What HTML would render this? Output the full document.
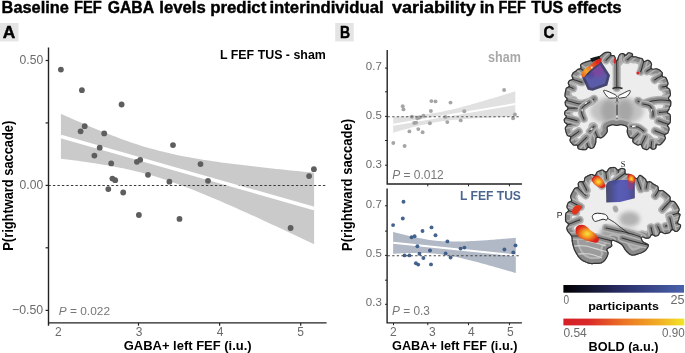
<!DOCTYPE html>
<html><head><meta charset="utf-8"><style>
html,body{margin:0;padding:0;background:#fff;width:685px;height:353px;overflow:hidden}
svg{display:block;will-change:transform}
text{font-family:"Liberation Sans",sans-serif}
</style></head><body>
<svg width="685" height="353" viewBox="0 0 685 353" font-family="Liberation Sans">
<path d="M60.90,113.84 L65.12,115.72 L69.34,117.59 L73.56,119.45 L77.78,121.29 L82.00,123.11 L86.22,124.92 L90.44,126.70 L94.66,128.46 L98.88,130.20 L103.10,131.91 L107.32,133.60 L111.54,135.25 L115.76,136.86 L119.98,138.44 L124.20,139.97 L128.42,141.47 L132.64,142.91 L136.86,144.31 L141.08,145.65 L145.30,146.94 L149.52,148.18 L153.74,149.37 L157.96,150.50 L162.18,151.57 L166.40,152.60 L170.62,153.57 L174.84,154.50 L179.06,155.38 L183.28,156.22 L187.50,157.03 L191.72,157.79 L195.94,158.53 L200.16,159.23 L204.38,159.91 L208.60,160.56 L212.82,161.18 L217.04,161.79 L221.26,162.38 L225.48,162.95 L229.70,163.51 L233.92,164.05 L238.14,164.58 L242.36,165.09 L246.58,165.60 L250.80,166.10 L255.02,166.58 L259.24,167.06 L263.46,167.53 L267.68,168.00 L271.90,168.45 L276.12,168.91 L280.34,169.35 L284.56,169.79 L288.78,170.23 L293.00,170.66 L297.22,171.09 L301.44,171.52 L305.66,171.94 L309.88,172.36 L314.10,172.77 L314.10,244.13 L309.88,242.14 L305.66,240.15 L301.44,238.16 L297.22,236.18 L293.00,234.20 L288.78,232.23 L284.56,230.26 L280.34,228.29 L276.12,226.33 L271.90,224.38 L267.68,222.43 L263.46,220.49 L259.24,218.55 L255.02,216.62 L250.80,214.70 L246.58,212.79 L242.36,210.89 L238.14,209.00 L233.92,207.12 L229.70,205.25 L225.48,203.40 L221.26,201.57 L217.04,199.75 L212.82,197.95 L208.60,196.17 L204.38,194.41 L200.16,192.68 L195.94,190.98 L191.72,189.30 L187.50,187.66 L183.28,186.06 L179.06,184.49 L174.84,182.97 L170.62,181.49 L166.40,180.06 L162.18,178.67 L157.96,177.34 L153.74,176.07 L149.52,174.84 L145.30,173.67 L141.08,172.56 L136.86,171.50 L132.64,170.49 L128.42,169.52 L124.20,168.61 L119.98,167.74 L115.76,166.91 L111.54,166.12 L107.32,165.36 L103.10,164.63 L98.88,163.94 L94.66,163.27 L90.44,162.63 L86.22,162.00 L82.00,161.40 L77.78,160.82 L73.56,160.25 L69.34,159.70 L65.12,159.16 L60.90,158.64Z" fill="#cacaca"/>
<line x1="48.4" y1="185.5" x2="327" y2="185.5" stroke="#3a3a3a" stroke-width="1.2" stroke-dasharray="2.4 2.1"/>
<line x1="60.9" y1="136.54" x2="314.1" y2="208.45" stroke="#fff" stroke-width="3.5"/>
<circle cx="60.9" cy="69.6" r="2.9" fill="#5e5e5e"/>
<circle cx="81.9" cy="90.2" r="2.9" fill="#5e5e5e"/>
<circle cx="121.6" cy="104.5" r="2.9" fill="#5e5e5e"/>
<circle cx="84.7" cy="126.2" r="2.9" fill="#5e5e5e"/>
<circle cx="80.6" cy="131.3" r="2.9" fill="#5e5e5e"/>
<circle cx="104.2" cy="133.4" r="2.9" fill="#5e5e5e"/>
<circle cx="99.7" cy="147.7" r="2.9" fill="#5e5e5e"/>
<circle cx="94.4" cy="155.6" r="2.9" fill="#5e5e5e"/>
<circle cx="111.2" cy="163.4" r="2.9" fill="#5e5e5e"/>
<circle cx="140.2" cy="159.8" r="2.9" fill="#5e5e5e"/>
<circle cx="136.9" cy="161.8" r="2.9" fill="#5e5e5e"/>
<circle cx="173" cy="145.1" r="2.9" fill="#5e5e5e"/>
<circle cx="148" cy="174.8" r="2.9" fill="#5e5e5e"/>
<circle cx="112.4" cy="178.6" r="2.9" fill="#5e5e5e"/>
<circle cx="115.2" cy="180.2" r="2.9" fill="#5e5e5e"/>
<circle cx="169.4" cy="181.7" r="2.9" fill="#5e5e5e"/>
<circle cx="108.3" cy="189.1" r="2.9" fill="#5e5e5e"/>
<circle cx="123.2" cy="192.5" r="2.9" fill="#5e5e5e"/>
<circle cx="138.9" cy="215" r="2.9" fill="#5e5e5e"/>
<circle cx="179.5" cy="218.9" r="2.9" fill="#5e5e5e"/>
<circle cx="200.5" cy="164.1" r="2.9" fill="#5e5e5e"/>
<circle cx="208" cy="180.8" r="2.9" fill="#5e5e5e"/>
<circle cx="313.9" cy="169.2" r="2.9" fill="#5e5e5e"/>
<circle cx="309.1" cy="176.1" r="2.9" fill="#5e5e5e"/>
<circle cx="290.6" cy="228" r="2.9" fill="#5e5e5e"/>
<path d="M48.5,47.5 V325.7 M48,322.9 H326.6" stroke="#222" stroke-width="1.4" fill="none"/>
<line x1="45.6" y1="60.5" x2="48.5" y2="60.5" stroke="#222" stroke-width="1.2"/>
<line x1="45.6" y1="122.9" x2="48.5" y2="122.9" stroke="#222" stroke-width="1.2"/>
<line x1="45.6" y1="185.4" x2="48.5" y2="185.4" stroke="#222" stroke-width="1.2"/>
<line x1="45.6" y1="247.8" x2="48.5" y2="247.8" stroke="#222" stroke-width="1.2"/>
<line x1="45.6" y1="310.4" x2="48.5" y2="310.4" stroke="#222" stroke-width="1.2"/>
<line x1="138.5" y1="322.9" x2="138.5" y2="325.7" stroke="#222" stroke-width="1.2"/>
<line x1="219.6" y1="322.9" x2="219.6" y2="325.7" stroke="#222" stroke-width="1.2"/>
<line x1="300.7" y1="322.9" x2="300.7" y2="325.7" stroke="#222" stroke-width="1.2"/>
<path d="M393.20,116.86 L395.24,116.75 L397.27,116.64 L399.31,116.52 L401.34,116.40 L403.38,116.27 L405.41,116.14 L407.44,116.00 L409.48,115.85 L411.51,115.69 L413.55,115.52 L415.58,115.35 L417.62,115.16 L419.65,114.95 L421.69,114.74 L423.72,114.51 L425.76,114.26 L427.79,114.00 L429.83,113.72 L431.86,113.42 L433.90,113.11 L435.94,112.77 L437.97,112.42 L440.00,112.04 L442.04,111.65 L444.07,111.24 L446.11,110.81 L448.14,110.36 L450.18,109.90 L452.21,109.43 L454.25,108.94 L456.28,108.44 L458.32,107.92 L460.35,107.40 L462.39,106.87 L464.42,106.33 L466.46,105.77 L468.50,105.22 L470.53,104.65 L472.56,104.08 L474.60,103.51 L476.63,102.93 L478.67,102.34 L480.70,101.75 L482.74,101.16 L484.77,100.56 L486.81,99.96 L488.84,99.36 L490.88,98.76 L492.91,98.15 L494.95,97.54 L496.98,96.93 L499.02,96.31 L501.05,95.70 L503.09,95.08 L505.12,94.46 L507.16,93.84 L509.19,93.22 L511.23,92.60 L513.26,91.97 L515.30,91.35 L515.30,116.65 L513.26,116.72 L511.23,116.79 L509.19,116.85 L507.16,116.93 L505.12,117.00 L503.09,117.07 L501.05,117.15 L499.02,117.22 L496.98,117.30 L494.95,117.38 L492.91,117.46 L490.88,117.55 L488.84,117.63 L486.81,117.72 L484.77,117.81 L482.74,117.91 L480.70,118.01 L478.67,118.11 L476.63,118.22 L474.60,118.33 L472.56,118.45 L470.53,118.57 L468.50,118.70 L466.46,118.83 L464.42,118.97 L462.39,119.12 L460.35,119.28 L458.32,119.45 L456.28,119.63 L454.25,119.82 L452.21,120.02 L450.18,120.24 L448.14,120.47 L446.11,120.71 L444.07,120.98 L442.04,121.26 L440.00,121.56 L437.97,121.88 L435.94,122.21 L433.90,122.57 L431.86,122.94 L429.83,123.34 L427.79,123.75 L425.76,124.18 L423.72,124.63 L421.69,125.09 L419.65,125.56 L417.62,126.05 L415.58,126.56 L413.55,127.07 L411.51,127.60 L409.48,128.13 L407.44,128.67 L405.41,129.22 L403.38,129.78 L401.34,130.34 L399.31,130.92 L397.27,131.49 L395.24,132.07 L393.20,132.66Z" fill="#e1e1e1"/>
<line x1="393.2" y1="124.76" x2="515.3" y2="104.00" stroke="#fff" stroke-width="2"/>
<circle cx="393.3" cy="143" r="1.95" fill="#a0a0a0" fill-opacity="0.95"/>
<circle cx="404.6" cy="146" r="1.95" fill="#a0a0a0" fill-opacity="0.95"/>
<circle cx="402.7" cy="106.2" r="1.95" fill="#a0a0a0" fill-opacity="0.95"/>
<circle cx="403.5" cy="109.4" r="1.95" fill="#a0a0a0" fill-opacity="0.95"/>
<circle cx="409.4" cy="131.4" r="1.95" fill="#a0a0a0" fill-opacity="0.95"/>
<circle cx="411.9" cy="116.7" r="1.95" fill="#a0a0a0" fill-opacity="0.95"/>
<circle cx="414.2" cy="123" r="1.95" fill="#a0a0a0" fill-opacity="0.95"/>
<circle cx="416.1" cy="122.6" r="1.95" fill="#a0a0a0" fill-opacity="0.95"/>
<circle cx="417.4" cy="118.2" r="1.95" fill="#a0a0a0" fill-opacity="0.95"/>
<circle cx="419.6" cy="117.5" r="1.95" fill="#a0a0a0" fill-opacity="0.95"/>
<circle cx="418.3" cy="129.1" r="1.95" fill="#a0a0a0" fill-opacity="0.95"/>
<circle cx="422.6" cy="132.2" r="1.95" fill="#a0a0a0" fill-opacity="0.95"/>
<circle cx="423.4" cy="115.8" r="1.95" fill="#a0a0a0" fill-opacity="0.95"/>
<circle cx="429.9" cy="123.2" r="1.95" fill="#a0a0a0" fill-opacity="0.95"/>
<circle cx="430.9" cy="111" r="1.95" fill="#a0a0a0" fill-opacity="0.95"/>
<circle cx="431.4" cy="101.1" r="1.95" fill="#a0a0a0" fill-opacity="0.95"/>
<circle cx="435.5" cy="101.4" r="1.95" fill="#a0a0a0" fill-opacity="0.95"/>
<circle cx="445.4" cy="116.9" r="1.95" fill="#a0a0a0" fill-opacity="0.95"/>
<circle cx="447.3" cy="122.1" r="1.95" fill="#a0a0a0" fill-opacity="0.95"/>
<circle cx="450.5" cy="102.6" r="1.95" fill="#a0a0a0" fill-opacity="0.95"/>
<circle cx="460.7" cy="120.4" r="1.95" fill="#a0a0a0" fill-opacity="0.95"/>
<circle cx="464.3" cy="111.3" r="1.95" fill="#a0a0a0" fill-opacity="0.95"/>
<circle cx="504.1" cy="90" r="1.95" fill="#a0a0a0" fill-opacity="0.95"/>
<circle cx="514.9" cy="114.5" r="1.95" fill="#a0a0a0" fill-opacity="0.95"/>
<circle cx="513.1" cy="118.3" r="1.95" fill="#a0a0a0" fill-opacity="0.95"/>
<line x1="387.6" y1="116.7" x2="521" y2="116.7" stroke="#555" stroke-width="1.1" stroke-dasharray="2.3 2.3"/>
<path d="M387.2,49.9 V184.7 M386.6,184 H521.9" stroke="#222" stroke-width="1.4" fill="none"/>
<line x1="385" y1="68.1" x2="387.2" y2="68.1" stroke="#222" stroke-width="1"/>
<line x1="385" y1="91.8" x2="387.2" y2="91.8" stroke="#222" stroke-width="1"/>
<line x1="385" y1="116.4" x2="387.2" y2="116.4" stroke="#222" stroke-width="1"/>
<line x1="385" y1="140.5" x2="387.2" y2="140.5" stroke="#222" stroke-width="1"/>
<line x1="385" y1="165.2" x2="387.2" y2="165.2" stroke="#222" stroke-width="1"/>
<line x1="427.8" y1="184" x2="427.8" y2="186.3" stroke="#222" stroke-width="1"/>
<line x1="468.5" y1="184" x2="468.5" y2="186.3" stroke="#222" stroke-width="1"/>
<line x1="509.4" y1="184" x2="509.4" y2="186.3" stroke="#222" stroke-width="1"/>
<path d="M393.10,231.84 L395.15,232.38 L397.19,232.92 L399.24,233.45 L401.28,233.98 L403.33,234.49 L405.37,235.00 L407.42,235.49 L409.46,235.98 L411.50,236.45 L413.55,236.91 L415.60,237.35 L417.64,237.78 L419.69,238.19 L421.73,238.58 L423.78,238.96 L425.82,239.31 L427.87,239.63 L429.91,239.93 L431.95,240.21 L434.00,240.46 L436.05,240.68 L438.09,240.88 L440.13,241.05 L442.18,241.19 L444.23,241.31 L446.27,241.41 L448.31,241.48 L450.36,241.53 L452.40,241.55 L454.45,241.56 L456.50,241.56 L458.54,241.53 L460.58,241.49 L462.63,241.44 L464.67,241.38 L466.72,241.30 L468.76,241.22 L470.81,241.12 L472.85,241.02 L474.90,240.91 L476.94,240.80 L478.99,240.67 L481.03,240.54 L483.08,240.41 L485.12,240.27 L487.17,240.13 L489.21,239.98 L491.26,239.83 L493.30,239.68 L495.35,239.52 L497.39,239.36 L499.44,239.20 L501.48,239.03 L503.53,238.86 L505.57,238.69 L507.62,238.52 L509.66,238.35 L511.71,238.17 L513.75,238.00 L515.80,237.82 L515.80,273.06 L513.75,272.46 L511.71,271.86 L509.66,271.26 L507.62,270.67 L505.57,270.08 L503.53,269.48 L501.48,268.90 L499.44,268.31 L497.39,267.73 L495.35,267.14 L493.30,266.57 L491.26,265.99 L489.21,265.42 L487.17,264.85 L485.12,264.29 L483.08,263.73 L481.03,263.17 L478.99,262.62 L476.94,262.08 L474.90,261.54 L472.85,261.01 L470.81,260.48 L468.76,259.97 L466.72,259.46 L464.67,258.97 L462.63,258.48 L460.58,258.01 L458.54,257.55 L456.50,257.10 L454.45,256.67 L452.40,256.26 L450.36,255.87 L448.31,255.50 L446.27,255.15 L444.23,254.82 L442.18,254.52 L440.13,254.24 L438.09,253.99 L436.05,253.76 L434.00,253.57 L431.95,253.39 L429.91,253.25 L427.87,253.13 L425.82,253.03 L423.78,252.96 L421.73,252.91 L419.69,252.88 L417.64,252.87 L415.60,252.88 L413.55,252.90 L411.50,252.94 L409.46,252.99 L407.42,253.06 L405.37,253.13 L403.33,253.21 L401.28,253.31 L399.24,253.41 L397.19,253.52 L395.15,253.64 L393.10,253.76Z" fill="#b1b8c6"/>
<line x1="393.1" y1="242.80" x2="515.8" y2="255.44" stroke="#fff" stroke-width="2"/>
<circle cx="403.5" cy="201.7" r="1.95" fill="#3a5b88" fill-opacity="0.95"/>
<circle cx="402.8" cy="218.5" r="1.95" fill="#3a5b88" fill-opacity="0.95"/>
<circle cx="393.1" cy="225.1" r="1.95" fill="#3a5b88" fill-opacity="0.95"/>
<circle cx="422.5" cy="231" r="1.95" fill="#3a5b88" fill-opacity="0.95"/>
<circle cx="431.5" cy="227.4" r="1.95" fill="#3a5b88" fill-opacity="0.95"/>
<circle cx="435.5" cy="235.2" r="1.95" fill="#3a5b88" fill-opacity="0.95"/>
<circle cx="411.6" cy="237.2" r="1.95" fill="#3a5b88" fill-opacity="0.95"/>
<circle cx="414.6" cy="236.3" r="1.95" fill="#3a5b88" fill-opacity="0.95"/>
<circle cx="447.4" cy="241.4" r="1.95" fill="#3a5b88" fill-opacity="0.95"/>
<circle cx="417.4" cy="246.3" r="1.95" fill="#3a5b88" fill-opacity="0.95"/>
<circle cx="430" cy="250.5" r="1.95" fill="#3a5b88" fill-opacity="0.95"/>
<circle cx="419.4" cy="253.7" r="1.95" fill="#3a5b88" fill-opacity="0.95"/>
<circle cx="445.6" cy="253.5" r="1.95" fill="#3a5b88" fill-opacity="0.95"/>
<circle cx="404.5" cy="255.4" r="1.95" fill="#3a5b88" fill-opacity="0.95"/>
<circle cx="409.4" cy="255.4" r="1.95" fill="#3a5b88" fill-opacity="0.95"/>
<circle cx="423.4" cy="258" r="1.95" fill="#3a5b88" fill-opacity="0.95"/>
<circle cx="450.6" cy="257.5" r="1.95" fill="#3a5b88" fill-opacity="0.95"/>
<circle cx="415.9" cy="263.3" r="1.95" fill="#3a5b88" fill-opacity="0.95"/>
<circle cx="418.2" cy="264.6" r="1.95" fill="#3a5b88" fill-opacity="0.95"/>
<circle cx="431" cy="264.4" r="1.95" fill="#3a5b88" fill-opacity="0.95"/>
<circle cx="460.6" cy="248.6" r="1.95" fill="#3a5b88" fill-opacity="0.95"/>
<circle cx="464.4" cy="247.6" r="1.95" fill="#3a5b88" fill-opacity="0.95"/>
<circle cx="504.4" cy="249.5" r="1.95" fill="#3a5b88" fill-opacity="0.95"/>
<circle cx="515.5" cy="245.4" r="1.95" fill="#3a5b88" fill-opacity="0.95"/>
<circle cx="513.3" cy="252.4" r="1.95" fill="#3a5b88" fill-opacity="0.95"/>
<line x1="387.6" y1="255.7" x2="521" y2="255.7" stroke="#444" stroke-width="1.1" stroke-dasharray="2.3 2.3"/>
<path d="M387.1,188.6 V323.6 M386.5,322.9 H521.9" stroke="#222" stroke-width="1.4" fill="none"/>
<line x1="385" y1="205.8" x2="387.1" y2="205.8" stroke="#222" stroke-width="1"/>
<line x1="385" y1="231.1" x2="387.1" y2="231.1" stroke="#222" stroke-width="1"/>
<line x1="385" y1="255.4" x2="387.1" y2="255.4" stroke="#222" stroke-width="1"/>
<line x1="385" y1="280.2" x2="387.1" y2="280.2" stroke="#222" stroke-width="1"/>
<line x1="385" y1="304.3" x2="387.1" y2="304.3" stroke="#222" stroke-width="1"/>
<line x1="393.5" y1="322.9" x2="393.5" y2="325.2" stroke="#222" stroke-width="1"/>
<line x1="427.8" y1="322.9" x2="427.8" y2="325.2" stroke="#222" stroke-width="1"/>
<line x1="468.5" y1="322.9" x2="468.5" y2="325.2" stroke="#222" stroke-width="1"/>
<line x1="509.4" y1="322.9" x2="509.4" y2="325.2" stroke="#222" stroke-width="1"/>
<text x="1.58" y="12.6" font-size="16" fill="#000" font-weight="bold" text-anchor="start" textLength="67.22" lengthAdjust="spacingAndGlyphs"  stroke="#000" stroke-width="0.4">Baseline</text>
<text x="73.98" y="12.6" font-size="16" fill="#000" font-weight="bold" text-anchor="start" textLength="27.81" lengthAdjust="spacingAndGlyphs"  stroke="#000" stroke-width="0.4">FEF</text>
<text x="107.7" y="12.6" font-size="16" fill="#000" font-weight="bold" text-anchor="start" textLength="46.46" lengthAdjust="spacingAndGlyphs"  stroke="#000" stroke-width="0.4">GABA</text>
<text x="159.26" y="12.6" font-size="16" fill="#000" font-weight="bold" text-anchor="start" textLength="46.44" lengthAdjust="spacingAndGlyphs"  stroke="#000" stroke-width="0.4">levels</text>
<text x="210.15" y="12.6" font-size="16" fill="#000" font-weight="bold" text-anchor="start" textLength="56.15" lengthAdjust="spacingAndGlyphs"  stroke="#000" stroke-width="0.4">predict</text>
<text x="269.46" y="12.6" font-size="16" fill="#000" font-weight="bold" text-anchor="start" textLength="114.11" lengthAdjust="spacingAndGlyphs"  stroke="#000" stroke-width="0.4">interindividual</text>
<text x="392.0" y="12.6" font-size="16" fill="#000" font-weight="bold" text-anchor="start" textLength="83.79" lengthAdjust="spacingAndGlyphs"  stroke="#000" stroke-width="0.4">variability</text>
<text x="479.66" y="12.6" font-size="16" fill="#000" font-weight="bold" text-anchor="start" textLength="14.74" lengthAdjust="spacingAndGlyphs"  stroke="#000" stroke-width="0.4">in</text>
<text x="498.39" y="12.6" font-size="16" fill="#000" font-weight="bold" text-anchor="start" textLength="27.4" lengthAdjust="spacingAndGlyphs"  stroke="#000" stroke-width="0.4">FEF</text>
<text x="531.2" y="12.6" font-size="16" fill="#000" font-weight="bold" text-anchor="start" textLength="31.87" lengthAdjust="spacingAndGlyphs"  stroke="#000" stroke-width="0.4">TUS</text>
<text x="567.6" y="12.6" font-size="16" fill="#000" font-weight="bold" text-anchor="start" textLength="54.09" lengthAdjust="spacingAndGlyphs"  stroke="#000" stroke-width="0.4">effects</text>
<rect x="0" y="23" width="18.5" height="18.4" fill="#e4e4e4"/>
<rect x="335.2" y="23" width="18.5" height="18.4" fill="#e4e4e4"/>
<rect x="539.7" y="23" width="17.8" height="18.4" fill="#e4e4e4"/>
<text x="2.7" y="37.8" font-size="16.8" fill="#000" font-weight="bold" text-anchor="start" textLength="12.5" lengthAdjust="spacingAndGlyphs"  stroke="#000" stroke-width="0.45">A</text>
<text x="340" y="37.8" font-size="16.8" fill="#000" font-weight="bold" text-anchor="start" textLength="10.1" lengthAdjust="spacingAndGlyphs"  stroke="#000" stroke-width="0.45">B</text>
<text x="543.4" y="38" font-size="16.8" fill="#000" font-weight="bold" text-anchor="start" textLength="10.9" lengthAdjust="spacingAndGlyphs"  stroke="#000" stroke-width="0.45">C</text>
<text x="325.8" y="59" font-size="12.4" fill="#000" font-weight="bold" text-anchor="end" textLength="105.8" lengthAdjust="spacingAndGlyphs"  >L FEF TUS - sham</text>
<text x="43.2" y="64" font-size="12.6" fill="#6b6b6b" font-weight="normal" text-anchor="end" textLength="23.6" lengthAdjust="spacingAndGlyphs"  >0.50</text>
<text x="43.2" y="188.8" font-size="12.4" fill="#6b6b6b" font-weight="normal" text-anchor="end" textLength="23.6" lengthAdjust="spacingAndGlyphs"  >0.00</text>
<text x="43.2" y="313.8" font-size="12.6" fill="#6b6b6b" font-weight="normal" text-anchor="end" textLength="31.2" lengthAdjust="spacingAndGlyphs"  >−0.50</text>
<text x="58.3" y="335.8" font-size="12" fill="#6b6b6b" font-weight="normal" text-anchor="middle"  >2</text>
<text x="139" y="335.8" font-size="12" fill="#6b6b6b" font-weight="normal" text-anchor="middle"  >3</text>
<text x="220" y="335.8" font-size="12" fill="#6b6b6b" font-weight="normal" text-anchor="middle"  >4</text>
<text x="300.6" y="335.8" font-size="12" fill="#6b6b6b" font-weight="normal" text-anchor="middle"  >5</text>
<text x="58.8" y="314.7" font-size="11.5" fill="#777" font-weight="normal" text-anchor="start" textLength="51.2" lengthAdjust="spacingAndGlyphs"  ><tspan font-style="italic">P</tspan> = 0.022</text>
<text x="123.7" y="350.4" font-size="13" fill="#000" font-weight="bold" text-anchor="start" textLength="128" lengthAdjust="spacingAndGlyphs"  >GABA+ left FEF (i.u.)</text>
<text transform="translate(12.7,185.7) rotate(-90)" font-size="14" font-weight="bold" text-anchor="middle" textLength="130" lengthAdjust="spacingAndGlyphs">P(rightward saccade)</text>
<text x="520.8" y="61.6" font-size="14" fill="#a8a8a8" font-weight="bold" text-anchor="end" textLength="32.8" lengthAdjust="spacingAndGlyphs"  >sham</text>
<text x="520.9" y="199.8" font-size="13" fill="#4a6690" font-weight="bold" text-anchor="end" textLength="60.8" lengthAdjust="spacingAndGlyphs"  >L FEF TUS</text>
<text x="381.8" y="69.9" font-size="11.5" fill="#6b6b6b" font-weight="normal" text-anchor="end"  >0.7</text>
<text x="381.8" y="118.8" font-size="11.5" fill="#6b6b6b" font-weight="normal" text-anchor="end"  >0.5</text>
<text x="381.8" y="167.5" font-size="11.5" fill="#6b6b6b" font-weight="normal" text-anchor="end"  >0.3</text>
<text x="381.8" y="208.2" font-size="11.5" fill="#6b6b6b" font-weight="normal" text-anchor="end"  >0.7</text>
<text x="381.8" y="257.3" font-size="11.5" fill="#6b6b6b" font-weight="normal" text-anchor="end"  >0.5</text>
<text x="381.8" y="305.9" font-size="11.5" fill="#6b6b6b" font-weight="normal" text-anchor="end"  >0.3</text>
<text x="392.2" y="179.2" font-size="12" fill="#777" font-weight="normal" text-anchor="start" textLength="51.6" lengthAdjust="spacingAndGlyphs"  ><tspan font-style="italic">P</tspan> = 0.012</text>
<text x="392" y="314.5" font-size="12" fill="#777" font-weight="normal" text-anchor="start" textLength="37.9" lengthAdjust="spacingAndGlyphs"  ><tspan font-style="italic">P</tspan> = 0.3</text>
<text x="393.3" y="335.8" font-size="12" fill="#6b6b6b" font-weight="normal" text-anchor="middle"  >2</text>
<text x="432.3" y="335.8" font-size="12" fill="#6b6b6b" font-weight="normal" text-anchor="middle"  >3</text>
<text x="471.4" y="335.8" font-size="12" fill="#6b6b6b" font-weight="normal" text-anchor="middle"  >4</text>
<text x="510.4" y="335.8" font-size="12" fill="#6b6b6b" font-weight="normal" text-anchor="middle"  >5</text>
<text x="392" y="350.2" font-size="13" fill="#000" font-weight="bold" text-anchor="start" textLength="125.5" lengthAdjust="spacingAndGlyphs"  >GABA+ left FEF (i.u.)</text>
<text transform="translate(351.6,185) rotate(-90)" font-size="14" font-weight="bold" text-anchor="middle" textLength="132" lengthAdjust="spacingAndGlyphs">P(rightward saccade)</text>
<defs><linearGradient id="g1" x1="0" x2="1"><stop offset="0" stop-color="#000"/><stop offset="0.5" stop-color="#2b2f6a"/><stop offset="1" stop-color="#4a62ad"/></linearGradient><linearGradient id="g2" x1="0" x2="1"><stop offset="0" stop-color="#d51f26"/><stop offset="0.2" stop-color="#d9282a"/><stop offset="0.5" stop-color="#ec7424"/><stop offset="0.8" stop-color="#f1b025"/><stop offset="1" stop-color="#f2e627"/></linearGradient></defs>
<rect x="563.4" y="285" width="120.6" height="7.7" fill="url(#g1)"/>
<rect x="563.4" y="318.6" width="120.9" height="6.8" fill="url(#g2)"/>
<text x="623" y="166.7" font-size="8.5" fill="#222" font-weight="normal" text-anchor="middle"  style="font-family:Liberation Serif">S</text>
<text x="559.7" y="218.4" font-size="8.6" fill="#222" font-weight="normal" text-anchor="middle"  >P</text>
<text x="563.6" y="303.7" font-size="13" fill="#6b6b6b" font-weight="normal" text-anchor="start" textLength="5.6" lengthAdjust="spacingAndGlyphs"  >0</text>
<text x="684.4" y="303.7" font-size="13" fill="#6b6b6b" font-weight="normal" text-anchor="end" textLength="14" lengthAdjust="spacingAndGlyphs"  >25</text>
<text x="588.2" y="310" font-size="11.6" fill="#000" font-weight="bold" text-anchor="start" textLength="70.8" lengthAdjust="spacingAndGlyphs"  >participants</text>
<text x="563.4" y="336.8" font-size="13" fill="#6b6b6b" font-weight="normal" text-anchor="start" textLength="23.4" lengthAdjust="spacingAndGlyphs"  >0.54</text>
<text x="684.6" y="336.8" font-size="13" fill="#6b6b6b" font-weight="normal" text-anchor="end" textLength="22.6" lengthAdjust="spacingAndGlyphs"  >0.90</text>
<text x="588.6" y="350.9" font-size="12.8" fill="#000" font-weight="bold" text-anchor="start" textLength="69.9" lengthAdjust="spacingAndGlyphs"  >BOLD (a.u.)</text>
<defs><clipPath id="cc"><path d="M600.00,55.60 L600.48,55.27 L600.93,54.92 L601.36,54.58 L601.76,54.23 L602.15,53.89 L602.52,53.56 L602.89,53.25 L603.26,52.97 L603.63,52.72 L604.00,52.50 L604.37,52.32 L604.73,52.17 L605.08,52.04 L605.43,51.94 L605.78,51.86 L606.12,51.79 L606.47,51.75 L606.84,51.72 L607.21,51.70 L607.60,51.70 L608.01,51.71 L608.45,51.72 L608.91,51.76 L609.38,51.81 L609.84,51.90 L610.30,52.05 L610.71,52.29 L611.05,52.67 L611.27,53.18 L611.34,53.75 L611.33,54.30 L611.31,54.73 L611.40,54.99 L611.66,55.08 L612.11,55.05 L612.70,54.99 L613.31,54.99 L613.87,55.08 L614.33,55.28 L614.69,55.56 L614.98,55.95 L615.21,56.45 L615.41,57.02 L615.59,57.62 L615.76,58.22 L615.92,58.78 L616.08,59.26 L616.25,59.65 L616.42,59.91 L616.60,60.00 L616.78,59.90 L616.97,59.64 L617.15,59.24 L617.33,58.74 L617.52,58.17 L617.71,57.57 L617.90,56.96 L618.09,56.40 L618.29,55.90 L618.50,55.50 L618.69,55.18 L618.86,54.90 L619.02,54.64 L619.18,54.41 L619.34,54.19 L619.54,54.00 L619.77,53.81 L620.05,53.64 L620.39,53.47 L620.80,53.30 L621.30,53.13 L621.89,52.98 L622.56,52.89 L623.32,53.02 L624.17,53.54 L625.04,54.29 L625.78,54.62 L626.40,54.12 L626.98,53.24 L627.59,52.59 L628.22,52.29 L628.86,52.22 L629.49,52.27 L630.10,52.38 L630.71,52.51 L631.30,52.68 L631.86,52.90 L632.38,53.21 L632.80,53.70 L633.06,54.39 L633.11,55.16 L633.07,55.81 L633.22,56.20 L633.71,56.33 L634.48,56.29 L635.32,56.24 L636.08,56.28 L636.70,56.44 L637.25,56.66 L637.80,56.91 L638.38,57.14 L639.01,57.34 L639.68,57.51 L640.38,57.67 L641.10,57.82 L641.81,58.01 L642.49,58.36 L643.07,59.04 L643.51,59.99 L643.93,60.79 L644.55,61.02 L645.38,60.64 L646.24,60.08 L647.02,59.74 L647.72,59.69 L648.35,59.83 L648.93,60.07 L649.49,60.36 L650.01,60.70 L650.50,61.10 L650.94,61.57 L651.31,62.13 L651.65,62.75 L651.93,63.43 L652.12,64.16 L652.08,64.99 L651.74,66.00 L651.43,67.13 L651.68,68.11 L652.60,68.64 L653.75,68.64 L654.73,68.41 L655.50,68.24 L656.16,68.23 L656.80,68.32 L657.42,68.46 L658.05,68.64 L658.68,68.88 L659.30,69.19 L659.90,69.60 L660.50,70.10 L661.12,70.66 L661.75,71.27 L662.36,71.95 L662.83,72.77 L662.89,73.94 L662.60,75.33 L662.87,76.22 L664.10,76.43 L665.36,76.66 L666.16,77.23 L666.66,78.00 L667.05,78.83 L667.42,79.68 L667.76,80.54 L668.07,81.42 L668.37,82.31 L668.59,83.23 L668.53,84.23 L667.91,85.37 L667.24,86.50 L667.60,87.32 L668.83,87.95 L669.80,88.67 L670.25,89.53 L670.46,90.45 L670.62,91.39 L670.76,92.34 L670.89,93.31 L670.99,94.30 L670.97,95.36 L670.37,96.52 L669.14,97.75 L669.20,98.91 L670.57,100.04 L671.26,101.17 L671.38,102.28 L671.38,103.30 L671.35,104.22 L671.30,105.00 L671.21,105.62 L671.07,106.08 L670.90,106.42 L670.70,106.67 L670.49,106.88 L670.29,107.08 L670.11,107.30 L669.95,107.59 L669.83,107.97 L669.75,108.50 L669.62,109.16 L669.26,109.96 L668.53,110.92 L667.90,111.94 L668.29,112.79 L669.51,113.49 L670.44,114.29 L670.81,115.20 L670.95,116.15 L671.00,117.10 L671.01,118.06 L670.99,119.04 L670.96,120.04 L670.91,121.06 L670.82,122.10 L670.54,123.12 L669.67,124.07 L668.36,124.91 L668.12,125.88 L669.05,127.08 L669.64,128.28 L669.59,129.39 L669.32,130.47 L669.00,131.54 L668.64,132.61 L668.10,133.59 L666.94,134.31 L665.48,134.82 L665.15,135.72 L665.74,137.02 L666.01,138.18 L665.78,139.08 L665.34,139.84 L664.86,140.55 L664.36,141.22 L663.84,141.87 L663.31,142.49 L662.76,143.10 L662.19,143.70 L661.60,144.30 L660.98,144.88 L660.25,145.37 L659.25,145.55 L657.97,145.36 L656.92,145.36 L656.57,146.16 L656.49,147.43 L656.15,148.43 L655.53,149.02 L654.80,149.39 L654.02,149.67 L653.19,149.85 L652.30,149.76 L651.35,149.15 L650.44,148.27 L649.67,148.11 L648.92,148.96 L648.07,149.86 L647.17,150.22 L646.30,150.18 L645.44,149.99 L644.57,149.69 L643.70,149.33 L642.83,148.90 L642.06,148.26 L641.58,147.11 L641.31,145.66 L640.58,145.03 L639.26,145.37 L638.02,145.65 L637.08,145.47 L636.29,145.07 L635.55,144.62 L634.83,144.16 L634.13,143.68 L633.45,143.18 L632.83,142.62 L632.37,141.89 L632.27,140.85 L632.51,139.64 L632.39,138.80 L631.33,138.55 L629.97,138.34 L629.07,137.76 L628.54,136.95 L628.12,136.10 L627.74,135.26 L627.41,134.45 L627.13,133.69 L626.90,133.00 L626.75,132.36 L626.68,131.73 L626.68,131.13 L626.73,130.56 L626.81,130.02 L626.89,129.51 L626.96,129.03 L627.00,128.58 L626.99,128.17 L626.90,127.80 L626.75,127.48 L626.57,127.20 L626.35,126.98 L626.10,126.78 L625.84,126.62 L625.55,126.48 L625.25,126.35 L624.94,126.24 L624.62,126.12 L624.30,126.00 L623.97,125.88 L623.62,125.77 L623.25,125.67 L622.87,125.57 L622.47,125.49 L622.08,125.43 L621.68,125.37 L621.28,125.33 L620.89,125.31 L620.50,125.30 L620.12,125.32 L619.74,125.37 L619.36,125.45 L618.98,125.55 L618.61,125.65 L618.23,125.75 L617.85,125.85 L617.47,125.93 L617.08,125.98 L616.70,126.00 L616.31,125.98 L615.90,125.93 L615.49,125.85 L615.08,125.75 L614.67,125.65 L614.26,125.55 L613.87,125.45 L613.49,125.37 L613.13,125.32 L612.80,125.30 L612.49,125.31 L612.21,125.34 L611.95,125.38 L611.70,125.44 L611.47,125.51 L611.24,125.60 L611.01,125.69 L610.78,125.79 L610.55,125.89 L610.30,126.00 L610.03,126.11 L609.74,126.21 L609.45,126.31 L609.14,126.41 L608.84,126.53 L608.56,126.67 L608.29,126.83 L608.06,127.01 L607.86,127.24 L607.70,127.50 L607.61,127.81 L607.59,128.15 L607.63,128.53 L607.70,128.94 L607.78,129.38 L607.85,129.83 L607.90,130.29 L607.90,130.76 L607.84,131.23 L607.70,131.70 L607.49,132.18 L607.22,132.68 L606.92,133.20 L606.58,133.74 L606.20,134.27 L605.79,134.81 L605.35,135.34 L604.89,135.85 L604.40,136.34 L603.90,136.80 L603.35,137.22 L602.74,137.59 L602.08,137.93 L601.37,138.22 L600.60,138.40 L599.68,138.30 L598.55,137.93 L597.37,137.75 L596.56,138.33 L596.32,139.55 L596.43,140.80 L596.47,141.79 L596.31,142.62 L596.05,143.42 L595.77,144.23 L595.50,145.03 L595.20,145.80 L594.86,146.52 L594.47,147.16 L594.00,147.70 L593.46,148.15 L592.88,148.54 L592.25,148.87 L591.56,149.09 L590.78,149.04 L589.91,148.59 L589.04,147.90 L588.30,147.62 L587.69,148.19 L587.09,149.18 L586.39,149.92 L585.58,150.25 L584.72,150.33 L583.84,150.32 L582.95,150.27 L582.06,150.19 L581.18,150.06 L580.32,149.89 L579.49,149.67 L578.71,149.39 L577.99,148.97 L577.43,148.26 L577.18,147.10 L577.05,145.91 L576.42,145.47 L575.20,145.68 L574.00,145.76 L573.14,145.43 L572.48,144.89 L571.90,144.30 L571.36,143.69 L570.85,143.05 L570.37,142.38 L569.92,141.70 L569.55,140.97 L569.39,140.12 L569.64,139.07 L570.09,137.95 L570.08,137.10 L569.28,136.67 L568.16,136.40 L567.28,136.00 L566.75,135.43 L566.41,134.77 L566.14,134.10 L565.90,133.42 L565.68,132.74 L565.47,132.06 L565.28,131.38 L565.10,130.70 L564.95,130.02 L564.82,129.34 L564.74,128.66 L564.74,127.96 L564.97,127.26 L565.51,126.52 L566.25,125.77 L566.71,125.03 L566.47,124.34 L565.66,123.72 L564.81,123.12 L564.24,122.49 L563.95,121.83 L563.79,121.14 L563.69,120.45 L563.66,119.76 L563.80,119.06 L564.25,118.36 L564.98,117.71 L565.64,117.16 L565.79,116.64 L565.34,116.03 L564.65,115.31 L564.17,114.56 L564.00,113.86 L564.04,113.21 L564.15,112.60 L564.29,112.03 L564.44,111.50 L564.63,111.03 L564.87,110.65 L565.15,110.40 L565.45,110.23 L565.76,110.10 L566.10,109.93 L566.47,109.67 L566.88,109.32 L567.26,108.86 L567.50,108.30 L567.31,107.63 L566.55,106.90 L565.60,106.14 L565.02,105.29 L564.78,104.34 L564.64,103.34 L564.57,102.30 L564.87,101.23 L565.82,100.14 L566.60,99.19 L566.19,98.39 L565.21,97.58 L564.56,96.72 L564.37,95.87 L564.40,95.05 L564.49,94.24 L564.60,93.46 L564.71,92.69 L564.84,91.94 L564.97,91.21 L565.10,90.50 L565.24,89.82 L565.38,89.17 L565.57,88.54 L565.86,87.97 L566.34,87.47 L567.07,87.07 L567.92,86.74 L568.59,86.37 L568.79,85.85 L568.52,85.16 L568.08,84.40 L567.77,83.69 L567.69,83.06 L567.78,82.52 L567.97,82.01 L568.20,81.52 L568.48,81.04 L568.81,80.56 L569.28,80.11 L570.00,79.74 L571.03,79.44 L572.02,79.04 L572.29,78.27 L571.82,77.16 L571.40,76.05 L571.40,75.14 L571.67,74.39 L572.01,73.71 L572.36,73.11 L572.70,72.60 L573.04,72.19 L573.37,71.88 L573.69,71.64 L574.02,71.46 L574.34,71.30 L574.68,71.15 L575.01,70.97 L575.36,70.76 L575.72,70.47 L576.11,70.11 L576.52,69.65 L577.03,69.17 L577.80,68.77 L578.92,68.54 L580.05,68.30 L580.48,67.66 L580.23,66.59 L579.98,65.52 L580.08,64.71 L580.43,64.14 L580.87,63.72 L581.32,63.38 L581.76,63.10 L582.22,62.85 L582.69,62.64 L583.18,62.44 L583.69,62.25 L584.25,62.05 L584.85,61.84 L585.50,61.60 L586.22,61.35 L587.02,61.10 L587.88,60.85 L588.78,60.61 L589.69,60.36 L590.62,60.10 L591.53,59.84 L592.41,59.57 L593.24,59.29 L594.00,59.00 L594.71,58.69 L595.39,58.37 L596.05,58.03 L596.68,57.68 L597.28,57.33 L597.86,56.98 L598.43,56.62 L598.97,56.27 L599.49,55.93Z"/></clipPath><filter id="bl1" x="-20%" y="-20%" width="140%" height="140%"><feGaussianBlur stdDeviation="0.55"/></filter><filter id="bl2" x="-30%" y="-30%" width="160%" height="160%"><feGaussianBlur stdDeviation="2.2"/></filter></defs>
<g clip-path="url(#cc)">
<path d="M600.00,55.60 L600.48,55.27 L600.93,54.92 L601.36,54.58 L601.76,54.23 L602.15,53.89 L602.52,53.56 L602.89,53.25 L603.26,52.97 L603.63,52.72 L604.00,52.50 L604.37,52.32 L604.73,52.17 L605.08,52.04 L605.43,51.94 L605.78,51.86 L606.12,51.79 L606.47,51.75 L606.84,51.72 L607.21,51.70 L607.60,51.70 L608.01,51.71 L608.45,51.72 L608.91,51.76 L609.38,51.81 L609.84,51.90 L610.30,52.05 L610.71,52.29 L611.05,52.67 L611.27,53.18 L611.34,53.75 L611.33,54.30 L611.31,54.73 L611.40,54.99 L611.66,55.08 L612.11,55.05 L612.70,54.99 L613.31,54.99 L613.87,55.08 L614.33,55.28 L614.69,55.56 L614.98,55.95 L615.21,56.45 L615.41,57.02 L615.59,57.62 L615.76,58.22 L615.92,58.78 L616.08,59.26 L616.25,59.65 L616.42,59.91 L616.60,60.00 L616.78,59.90 L616.97,59.64 L617.15,59.24 L617.33,58.74 L617.52,58.17 L617.71,57.57 L617.90,56.96 L618.09,56.40 L618.29,55.90 L618.50,55.50 L618.69,55.18 L618.86,54.90 L619.02,54.64 L619.18,54.41 L619.34,54.19 L619.54,54.00 L619.77,53.81 L620.05,53.64 L620.39,53.47 L620.80,53.30 L621.30,53.13 L621.89,52.98 L622.56,52.89 L623.32,53.02 L624.17,53.54 L625.04,54.29 L625.78,54.62 L626.40,54.12 L626.98,53.24 L627.59,52.59 L628.22,52.29 L628.86,52.22 L629.49,52.27 L630.10,52.38 L630.71,52.51 L631.30,52.68 L631.86,52.90 L632.38,53.21 L632.80,53.70 L633.06,54.39 L633.11,55.16 L633.07,55.81 L633.22,56.20 L633.71,56.33 L634.48,56.29 L635.32,56.24 L636.08,56.28 L636.70,56.44 L637.25,56.66 L637.80,56.91 L638.38,57.14 L639.01,57.34 L639.68,57.51 L640.38,57.67 L641.10,57.82 L641.81,58.01 L642.49,58.36 L643.07,59.04 L643.51,59.99 L643.93,60.79 L644.55,61.02 L645.38,60.64 L646.24,60.08 L647.02,59.74 L647.72,59.69 L648.35,59.83 L648.93,60.07 L649.49,60.36 L650.01,60.70 L650.50,61.10 L650.94,61.57 L651.31,62.13 L651.65,62.75 L651.93,63.43 L652.12,64.16 L652.08,64.99 L651.74,66.00 L651.43,67.13 L651.68,68.11 L652.60,68.64 L653.75,68.64 L654.73,68.41 L655.50,68.24 L656.16,68.23 L656.80,68.32 L657.42,68.46 L658.05,68.64 L658.68,68.88 L659.30,69.19 L659.90,69.60 L660.50,70.10 L661.12,70.66 L661.75,71.27 L662.36,71.95 L662.83,72.77 L662.89,73.94 L662.60,75.33 L662.87,76.22 L664.10,76.43 L665.36,76.66 L666.16,77.23 L666.66,78.00 L667.05,78.83 L667.42,79.68 L667.76,80.54 L668.07,81.42 L668.37,82.31 L668.59,83.23 L668.53,84.23 L667.91,85.37 L667.24,86.50 L667.60,87.32 L668.83,87.95 L669.80,88.67 L670.25,89.53 L670.46,90.45 L670.62,91.39 L670.76,92.34 L670.89,93.31 L670.99,94.30 L670.97,95.36 L670.37,96.52 L669.14,97.75 L669.20,98.91 L670.57,100.04 L671.26,101.17 L671.38,102.28 L671.38,103.30 L671.35,104.22 L671.30,105.00 L671.21,105.62 L671.07,106.08 L670.90,106.42 L670.70,106.67 L670.49,106.88 L670.29,107.08 L670.11,107.30 L669.95,107.59 L669.83,107.97 L669.75,108.50 L669.62,109.16 L669.26,109.96 L668.53,110.92 L667.90,111.94 L668.29,112.79 L669.51,113.49 L670.44,114.29 L670.81,115.20 L670.95,116.15 L671.00,117.10 L671.01,118.06 L670.99,119.04 L670.96,120.04 L670.91,121.06 L670.82,122.10 L670.54,123.12 L669.67,124.07 L668.36,124.91 L668.12,125.88 L669.05,127.08 L669.64,128.28 L669.59,129.39 L669.32,130.47 L669.00,131.54 L668.64,132.61 L668.10,133.59 L666.94,134.31 L665.48,134.82 L665.15,135.72 L665.74,137.02 L666.01,138.18 L665.78,139.08 L665.34,139.84 L664.86,140.55 L664.36,141.22 L663.84,141.87 L663.31,142.49 L662.76,143.10 L662.19,143.70 L661.60,144.30 L660.98,144.88 L660.25,145.37 L659.25,145.55 L657.97,145.36 L656.92,145.36 L656.57,146.16 L656.49,147.43 L656.15,148.43 L655.53,149.02 L654.80,149.39 L654.02,149.67 L653.19,149.85 L652.30,149.76 L651.35,149.15 L650.44,148.27 L649.67,148.11 L648.92,148.96 L648.07,149.86 L647.17,150.22 L646.30,150.18 L645.44,149.99 L644.57,149.69 L643.70,149.33 L642.83,148.90 L642.06,148.26 L641.58,147.11 L641.31,145.66 L640.58,145.03 L639.26,145.37 L638.02,145.65 L637.08,145.47 L636.29,145.07 L635.55,144.62 L634.83,144.16 L634.13,143.68 L633.45,143.18 L632.83,142.62 L632.37,141.89 L632.27,140.85 L632.51,139.64 L632.39,138.80 L631.33,138.55 L629.97,138.34 L629.07,137.76 L628.54,136.95 L628.12,136.10 L627.74,135.26 L627.41,134.45 L627.13,133.69 L626.90,133.00 L626.75,132.36 L626.68,131.73 L626.68,131.13 L626.73,130.56 L626.81,130.02 L626.89,129.51 L626.96,129.03 L627.00,128.58 L626.99,128.17 L626.90,127.80 L626.75,127.48 L626.57,127.20 L626.35,126.98 L626.10,126.78 L625.84,126.62 L625.55,126.48 L625.25,126.35 L624.94,126.24 L624.62,126.12 L624.30,126.00 L623.97,125.88 L623.62,125.77 L623.25,125.67 L622.87,125.57 L622.47,125.49 L622.08,125.43 L621.68,125.37 L621.28,125.33 L620.89,125.31 L620.50,125.30 L620.12,125.32 L619.74,125.37 L619.36,125.45 L618.98,125.55 L618.61,125.65 L618.23,125.75 L617.85,125.85 L617.47,125.93 L617.08,125.98 L616.70,126.00 L616.31,125.98 L615.90,125.93 L615.49,125.85 L615.08,125.75 L614.67,125.65 L614.26,125.55 L613.87,125.45 L613.49,125.37 L613.13,125.32 L612.80,125.30 L612.49,125.31 L612.21,125.34 L611.95,125.38 L611.70,125.44 L611.47,125.51 L611.24,125.60 L611.01,125.69 L610.78,125.79 L610.55,125.89 L610.30,126.00 L610.03,126.11 L609.74,126.21 L609.45,126.31 L609.14,126.41 L608.84,126.53 L608.56,126.67 L608.29,126.83 L608.06,127.01 L607.86,127.24 L607.70,127.50 L607.61,127.81 L607.59,128.15 L607.63,128.53 L607.70,128.94 L607.78,129.38 L607.85,129.83 L607.90,130.29 L607.90,130.76 L607.84,131.23 L607.70,131.70 L607.49,132.18 L607.22,132.68 L606.92,133.20 L606.58,133.74 L606.20,134.27 L605.79,134.81 L605.35,135.34 L604.89,135.85 L604.40,136.34 L603.90,136.80 L603.35,137.22 L602.74,137.59 L602.08,137.93 L601.37,138.22 L600.60,138.40 L599.68,138.30 L598.55,137.93 L597.37,137.75 L596.56,138.33 L596.32,139.55 L596.43,140.80 L596.47,141.79 L596.31,142.62 L596.05,143.42 L595.77,144.23 L595.50,145.03 L595.20,145.80 L594.86,146.52 L594.47,147.16 L594.00,147.70 L593.46,148.15 L592.88,148.54 L592.25,148.87 L591.56,149.09 L590.78,149.04 L589.91,148.59 L589.04,147.90 L588.30,147.62 L587.69,148.19 L587.09,149.18 L586.39,149.92 L585.58,150.25 L584.72,150.33 L583.84,150.32 L582.95,150.27 L582.06,150.19 L581.18,150.06 L580.32,149.89 L579.49,149.67 L578.71,149.39 L577.99,148.97 L577.43,148.26 L577.18,147.10 L577.05,145.91 L576.42,145.47 L575.20,145.68 L574.00,145.76 L573.14,145.43 L572.48,144.89 L571.90,144.30 L571.36,143.69 L570.85,143.05 L570.37,142.38 L569.92,141.70 L569.55,140.97 L569.39,140.12 L569.64,139.07 L570.09,137.95 L570.08,137.10 L569.28,136.67 L568.16,136.40 L567.28,136.00 L566.75,135.43 L566.41,134.77 L566.14,134.10 L565.90,133.42 L565.68,132.74 L565.47,132.06 L565.28,131.38 L565.10,130.70 L564.95,130.02 L564.82,129.34 L564.74,128.66 L564.74,127.96 L564.97,127.26 L565.51,126.52 L566.25,125.77 L566.71,125.03 L566.47,124.34 L565.66,123.72 L564.81,123.12 L564.24,122.49 L563.95,121.83 L563.79,121.14 L563.69,120.45 L563.66,119.76 L563.80,119.06 L564.25,118.36 L564.98,117.71 L565.64,117.16 L565.79,116.64 L565.34,116.03 L564.65,115.31 L564.17,114.56 L564.00,113.86 L564.04,113.21 L564.15,112.60 L564.29,112.03 L564.44,111.50 L564.63,111.03 L564.87,110.65 L565.15,110.40 L565.45,110.23 L565.76,110.10 L566.10,109.93 L566.47,109.67 L566.88,109.32 L567.26,108.86 L567.50,108.30 L567.31,107.63 L566.55,106.90 L565.60,106.14 L565.02,105.29 L564.78,104.34 L564.64,103.34 L564.57,102.30 L564.87,101.23 L565.82,100.14 L566.60,99.19 L566.19,98.39 L565.21,97.58 L564.56,96.72 L564.37,95.87 L564.40,95.05 L564.49,94.24 L564.60,93.46 L564.71,92.69 L564.84,91.94 L564.97,91.21 L565.10,90.50 L565.24,89.82 L565.38,89.17 L565.57,88.54 L565.86,87.97 L566.34,87.47 L567.07,87.07 L567.92,86.74 L568.59,86.37 L568.79,85.85 L568.52,85.16 L568.08,84.40 L567.77,83.69 L567.69,83.06 L567.78,82.52 L567.97,82.01 L568.20,81.52 L568.48,81.04 L568.81,80.56 L569.28,80.11 L570.00,79.74 L571.03,79.44 L572.02,79.04 L572.29,78.27 L571.82,77.16 L571.40,76.05 L571.40,75.14 L571.67,74.39 L572.01,73.71 L572.36,73.11 L572.70,72.60 L573.04,72.19 L573.37,71.88 L573.69,71.64 L574.02,71.46 L574.34,71.30 L574.68,71.15 L575.01,70.97 L575.36,70.76 L575.72,70.47 L576.11,70.11 L576.52,69.65 L577.03,69.17 L577.80,68.77 L578.92,68.54 L580.05,68.30 L580.48,67.66 L580.23,66.59 L579.98,65.52 L580.08,64.71 L580.43,64.14 L580.87,63.72 L581.32,63.38 L581.76,63.10 L582.22,62.85 L582.69,62.64 L583.18,62.44 L583.69,62.25 L584.25,62.05 L584.85,61.84 L585.50,61.60 L586.22,61.35 L587.02,61.10 L587.88,60.85 L588.78,60.61 L589.69,60.36 L590.62,60.10 L591.53,59.84 L592.41,59.57 L593.24,59.29 L594.00,59.00 L594.71,58.69 L595.39,58.37 L596.05,58.03 L596.68,57.68 L597.28,57.33 L597.86,56.98 L598.43,56.62 L598.97,56.27 L599.49,55.93Z" fill="#ededed"/>
<ellipse cx="617" cy="111" rx="27" ry="15" fill="#c2c2c2" filter="url(#bl2)"/>
<ellipse cx="609" cy="111" rx="8" ry="11" fill="#a6a6a6" filter="url(#bl2)"/>
<ellipse cx="625" cy="111" rx="8" ry="11" fill="#a6a6a6" filter="url(#bl2)"/>
<ellipse cx="602" cy="136" rx="6" ry="7" fill="#7c7c7c" filter="url(#bl2)"/>
<ellipse cx="632" cy="136" rx="6" ry="7" fill="#7c7c7c" filter="url(#bl2)"/>
<path d="M617,98 L617,124" stroke="#4a4a4a" stroke-width="1.3"/>
<g filter="url(#bl1)">
<path d="M600.00,55.60 L600.48,55.27 L600.93,54.92 L601.36,54.58 L601.76,54.23 L602.15,53.89 L602.52,53.56 L602.89,53.25 L603.26,52.97 L603.63,52.72 L604.00,52.50 L604.37,52.32 L604.73,52.17 L605.08,52.04 L605.43,51.94 L605.78,51.86 L606.12,51.79 L606.47,51.75 L606.84,51.72 L607.21,51.70 L607.60,51.70 L608.01,51.71 L608.45,51.72 L608.91,51.76 L609.38,51.81 L609.84,51.90 L610.30,52.05 L610.71,52.29 L611.05,52.67 L611.27,53.18 L611.34,53.75 L611.33,54.30 L611.31,54.73 L611.40,54.99 L611.66,55.08 L612.11,55.05 L612.70,54.99 L613.31,54.99 L613.87,55.08 L614.33,55.28 L614.69,55.56 L614.98,55.95 L615.21,56.45 L615.41,57.02 L615.59,57.62 L615.76,58.22 L615.92,58.78 L616.08,59.26 L616.25,59.65 L616.42,59.91 L616.60,60.00 L616.78,59.90 L616.97,59.64 L617.15,59.24 L617.33,58.74 L617.52,58.17 L617.71,57.57 L617.90,56.96 L618.09,56.40 L618.29,55.90 L618.50,55.50 L618.69,55.18 L618.86,54.90 L619.02,54.64 L619.18,54.41 L619.34,54.19 L619.54,54.00 L619.77,53.81 L620.05,53.64 L620.39,53.47 L620.80,53.30 L621.30,53.13 L621.89,52.98 L622.56,52.89 L623.32,53.02 L624.17,53.54 L625.04,54.29 L625.78,54.62 L626.40,54.12 L626.98,53.24 L627.59,52.59 L628.22,52.29 L628.86,52.22 L629.49,52.27 L630.10,52.38 L630.71,52.51 L631.30,52.68 L631.86,52.90 L632.38,53.21 L632.80,53.70 L633.06,54.39 L633.11,55.16 L633.07,55.81 L633.22,56.20 L633.71,56.33 L634.48,56.29 L635.32,56.24 L636.08,56.28 L636.70,56.44 L637.25,56.66 L637.80,56.91 L638.38,57.14 L639.01,57.34 L639.68,57.51 L640.38,57.67 L641.10,57.82 L641.81,58.01 L642.49,58.36 L643.07,59.04 L643.51,59.99 L643.93,60.79 L644.55,61.02 L645.38,60.64 L646.24,60.08 L647.02,59.74 L647.72,59.69 L648.35,59.83 L648.93,60.07 L649.49,60.36 L650.01,60.70 L650.50,61.10 L650.94,61.57 L651.31,62.13 L651.65,62.75 L651.93,63.43 L652.12,64.16 L652.08,64.99 L651.74,66.00 L651.43,67.13 L651.68,68.11 L652.60,68.64 L653.75,68.64 L654.73,68.41 L655.50,68.24 L656.16,68.23 L656.80,68.32 L657.42,68.46 L658.05,68.64 L658.68,68.88 L659.30,69.19 L659.90,69.60 L660.50,70.10 L661.12,70.66 L661.75,71.27 L662.36,71.95 L662.83,72.77 L662.89,73.94 L662.60,75.33 L662.87,76.22 L664.10,76.43 L665.36,76.66 L666.16,77.23 L666.66,78.00 L667.05,78.83 L667.42,79.68 L667.76,80.54 L668.07,81.42 L668.37,82.31 L668.59,83.23 L668.53,84.23 L667.91,85.37 L667.24,86.50 L667.60,87.32 L668.83,87.95 L669.80,88.67 L670.25,89.53 L670.46,90.45 L670.62,91.39 L670.76,92.34 L670.89,93.31 L670.99,94.30 L670.97,95.36 L670.37,96.52 L669.14,97.75 L669.20,98.91 L670.57,100.04 L671.26,101.17 L671.38,102.28 L671.38,103.30 L671.35,104.22 L671.30,105.00 L671.21,105.62 L671.07,106.08 L670.90,106.42 L670.70,106.67 L670.49,106.88 L670.29,107.08 L670.11,107.30 L669.95,107.59 L669.83,107.97 L669.75,108.50 L669.62,109.16 L669.26,109.96 L668.53,110.92 L667.90,111.94 L668.29,112.79 L669.51,113.49 L670.44,114.29 L670.81,115.20 L670.95,116.15 L671.00,117.10 L671.01,118.06 L670.99,119.04 L670.96,120.04 L670.91,121.06 L670.82,122.10 L670.54,123.12 L669.67,124.07 L668.36,124.91 L668.12,125.88 L669.05,127.08 L669.64,128.28 L669.59,129.39 L669.32,130.47 L669.00,131.54 L668.64,132.61 L668.10,133.59 L666.94,134.31 L665.48,134.82 L665.15,135.72 L665.74,137.02 L666.01,138.18 L665.78,139.08 L665.34,139.84 L664.86,140.55 L664.36,141.22 L663.84,141.87 L663.31,142.49 L662.76,143.10 L662.19,143.70 L661.60,144.30 L660.98,144.88 L660.25,145.37 L659.25,145.55 L657.97,145.36 L656.92,145.36 L656.57,146.16 L656.49,147.43 L656.15,148.43 L655.53,149.02 L654.80,149.39 L654.02,149.67 L653.19,149.85 L652.30,149.76 L651.35,149.15 L650.44,148.27 L649.67,148.11 L648.92,148.96 L648.07,149.86 L647.17,150.22 L646.30,150.18 L645.44,149.99 L644.57,149.69 L643.70,149.33 L642.83,148.90 L642.06,148.26 L641.58,147.11 L641.31,145.66 L640.58,145.03 L639.26,145.37 L638.02,145.65 L637.08,145.47 L636.29,145.07 L635.55,144.62 L634.83,144.16 L634.13,143.68 L633.45,143.18 L632.83,142.62 L632.37,141.89 L632.27,140.85 L632.51,139.64 L632.39,138.80 L631.33,138.55 L629.97,138.34 L629.07,137.76 L628.54,136.95 L628.12,136.10 L627.74,135.26 L627.41,134.45 L627.13,133.69 L626.90,133.00 L626.75,132.36 L626.68,131.73 L626.68,131.13 L626.73,130.56 L626.81,130.02 L626.89,129.51 L626.96,129.03 L627.00,128.58 L626.99,128.17 L626.90,127.80 L626.75,127.48 L626.57,127.20 L626.35,126.98 L626.10,126.78 L625.84,126.62 L625.55,126.48 L625.25,126.35 L624.94,126.24 L624.62,126.12 L624.30,126.00 L623.97,125.88 L623.62,125.77 L623.25,125.67 L622.87,125.57 L622.47,125.49 L622.08,125.43 L621.68,125.37 L621.28,125.33 L620.89,125.31 L620.50,125.30 L620.12,125.32 L619.74,125.37 L619.36,125.45 L618.98,125.55 L618.61,125.65 L618.23,125.75 L617.85,125.85 L617.47,125.93 L617.08,125.98 L616.70,126.00 L616.31,125.98 L615.90,125.93 L615.49,125.85 L615.08,125.75 L614.67,125.65 L614.26,125.55 L613.87,125.45 L613.49,125.37 L613.13,125.32 L612.80,125.30 L612.49,125.31 L612.21,125.34 L611.95,125.38 L611.70,125.44 L611.47,125.51 L611.24,125.60 L611.01,125.69 L610.78,125.79 L610.55,125.89 L610.30,126.00 L610.03,126.11 L609.74,126.21 L609.45,126.31 L609.14,126.41 L608.84,126.53 L608.56,126.67 L608.29,126.83 L608.06,127.01 L607.86,127.24 L607.70,127.50 L607.61,127.81 L607.59,128.15 L607.63,128.53 L607.70,128.94 L607.78,129.38 L607.85,129.83 L607.90,130.29 L607.90,130.76 L607.84,131.23 L607.70,131.70 L607.49,132.18 L607.22,132.68 L606.92,133.20 L606.58,133.74 L606.20,134.27 L605.79,134.81 L605.35,135.34 L604.89,135.85 L604.40,136.34 L603.90,136.80 L603.35,137.22 L602.74,137.59 L602.08,137.93 L601.37,138.22 L600.60,138.40 L599.68,138.30 L598.55,137.93 L597.37,137.75 L596.56,138.33 L596.32,139.55 L596.43,140.80 L596.47,141.79 L596.31,142.62 L596.05,143.42 L595.77,144.23 L595.50,145.03 L595.20,145.80 L594.86,146.52 L594.47,147.16 L594.00,147.70 L593.46,148.15 L592.88,148.54 L592.25,148.87 L591.56,149.09 L590.78,149.04 L589.91,148.59 L589.04,147.90 L588.30,147.62 L587.69,148.19 L587.09,149.18 L586.39,149.92 L585.58,150.25 L584.72,150.33 L583.84,150.32 L582.95,150.27 L582.06,150.19 L581.18,150.06 L580.32,149.89 L579.49,149.67 L578.71,149.39 L577.99,148.97 L577.43,148.26 L577.18,147.10 L577.05,145.91 L576.42,145.47 L575.20,145.68 L574.00,145.76 L573.14,145.43 L572.48,144.89 L571.90,144.30 L571.36,143.69 L570.85,143.05 L570.37,142.38 L569.92,141.70 L569.55,140.97 L569.39,140.12 L569.64,139.07 L570.09,137.95 L570.08,137.10 L569.28,136.67 L568.16,136.40 L567.28,136.00 L566.75,135.43 L566.41,134.77 L566.14,134.10 L565.90,133.42 L565.68,132.74 L565.47,132.06 L565.28,131.38 L565.10,130.70 L564.95,130.02 L564.82,129.34 L564.74,128.66 L564.74,127.96 L564.97,127.26 L565.51,126.52 L566.25,125.77 L566.71,125.03 L566.47,124.34 L565.66,123.72 L564.81,123.12 L564.24,122.49 L563.95,121.83 L563.79,121.14 L563.69,120.45 L563.66,119.76 L563.80,119.06 L564.25,118.36 L564.98,117.71 L565.64,117.16 L565.79,116.64 L565.34,116.03 L564.65,115.31 L564.17,114.56 L564.00,113.86 L564.04,113.21 L564.15,112.60 L564.29,112.03 L564.44,111.50 L564.63,111.03 L564.87,110.65 L565.15,110.40 L565.45,110.23 L565.76,110.10 L566.10,109.93 L566.47,109.67 L566.88,109.32 L567.26,108.86 L567.50,108.30 L567.31,107.63 L566.55,106.90 L565.60,106.14 L565.02,105.29 L564.78,104.34 L564.64,103.34 L564.57,102.30 L564.87,101.23 L565.82,100.14 L566.60,99.19 L566.19,98.39 L565.21,97.58 L564.56,96.72 L564.37,95.87 L564.40,95.05 L564.49,94.24 L564.60,93.46 L564.71,92.69 L564.84,91.94 L564.97,91.21 L565.10,90.50 L565.24,89.82 L565.38,89.17 L565.57,88.54 L565.86,87.97 L566.34,87.47 L567.07,87.07 L567.92,86.74 L568.59,86.37 L568.79,85.85 L568.52,85.16 L568.08,84.40 L567.77,83.69 L567.69,83.06 L567.78,82.52 L567.97,82.01 L568.20,81.52 L568.48,81.04 L568.81,80.56 L569.28,80.11 L570.00,79.74 L571.03,79.44 L572.02,79.04 L572.29,78.27 L571.82,77.16 L571.40,76.05 L571.40,75.14 L571.67,74.39 L572.01,73.71 L572.36,73.11 L572.70,72.60 L573.04,72.19 L573.37,71.88 L573.69,71.64 L574.02,71.46 L574.34,71.30 L574.68,71.15 L575.01,70.97 L575.36,70.76 L575.72,70.47 L576.11,70.11 L576.52,69.65 L577.03,69.17 L577.80,68.77 L578.92,68.54 L580.05,68.30 L580.48,67.66 L580.23,66.59 L579.98,65.52 L580.08,64.71 L580.43,64.14 L580.87,63.72 L581.32,63.38 L581.76,63.10 L582.22,62.85 L582.69,62.64 L583.18,62.44 L583.69,62.25 L584.25,62.05 L584.85,61.84 L585.50,61.60 L586.22,61.35 L587.02,61.10 L587.88,60.85 L588.78,60.61 L589.69,60.36 L590.62,60.10 L591.53,59.84 L592.41,59.57 L593.24,59.29 L594.00,59.00 L594.71,58.69 L595.39,58.37 L596.05,58.03 L596.68,57.68 L597.28,57.33 L597.86,56.98 L598.43,56.62 L598.97,56.27 L599.49,55.93Z" fill="none" stroke="#b4b4b4" stroke-width="14"/><path d="M600.00,55.60 L600.48,55.27 L600.93,54.92 L601.36,54.58 L601.76,54.23 L602.15,53.89 L602.52,53.56 L602.89,53.25 L603.26,52.97 L603.63,52.72 L604.00,52.50 L604.37,52.32 L604.73,52.17 L605.08,52.04 L605.43,51.94 L605.78,51.86 L606.12,51.79 L606.47,51.75 L606.84,51.72 L607.21,51.70 L607.60,51.70 L608.01,51.71 L608.45,51.72 L608.91,51.76 L609.38,51.81 L609.84,51.90 L610.30,52.05 L610.71,52.29 L611.05,52.67 L611.27,53.18 L611.34,53.75 L611.33,54.30 L611.31,54.73 L611.40,54.99 L611.66,55.08 L612.11,55.05 L612.70,54.99 L613.31,54.99 L613.87,55.08 L614.33,55.28 L614.69,55.56 L614.98,55.95 L615.21,56.45 L615.41,57.02 L615.59,57.62 L615.76,58.22 L615.92,58.78 L616.08,59.26 L616.25,59.65 L616.42,59.91 L616.60,60.00 L616.78,59.90 L616.97,59.64 L617.15,59.24 L617.33,58.74 L617.52,58.17 L617.71,57.57 L617.90,56.96 L618.09,56.40 L618.29,55.90 L618.50,55.50 L618.69,55.18 L618.86,54.90 L619.02,54.64 L619.18,54.41 L619.34,54.19 L619.54,54.00 L619.77,53.81 L620.05,53.64 L620.39,53.47 L620.80,53.30 L621.30,53.13 L621.89,52.98 L622.56,52.89 L623.32,53.02 L624.17,53.54 L625.04,54.29 L625.78,54.62 L626.40,54.12 L626.98,53.24 L627.59,52.59 L628.22,52.29 L628.86,52.22 L629.49,52.27 L630.10,52.38 L630.71,52.51 L631.30,52.68 L631.86,52.90 L632.38,53.21 L632.80,53.70 L633.06,54.39 L633.11,55.16 L633.07,55.81 L633.22,56.20 L633.71,56.33 L634.48,56.29 L635.32,56.24 L636.08,56.28 L636.70,56.44 L637.25,56.66 L637.80,56.91 L638.38,57.14 L639.01,57.34 L639.68,57.51 L640.38,57.67 L641.10,57.82 L641.81,58.01 L642.49,58.36 L643.07,59.04 L643.51,59.99 L643.93,60.79 L644.55,61.02 L645.38,60.64 L646.24,60.08 L647.02,59.74 L647.72,59.69 L648.35,59.83 L648.93,60.07 L649.49,60.36 L650.01,60.70 L650.50,61.10 L650.94,61.57 L651.31,62.13 L651.65,62.75 L651.93,63.43 L652.12,64.16 L652.08,64.99 L651.74,66.00 L651.43,67.13 L651.68,68.11 L652.60,68.64 L653.75,68.64 L654.73,68.41 L655.50,68.24 L656.16,68.23 L656.80,68.32 L657.42,68.46 L658.05,68.64 L658.68,68.88 L659.30,69.19 L659.90,69.60 L660.50,70.10 L661.12,70.66 L661.75,71.27 L662.36,71.95 L662.83,72.77 L662.89,73.94 L662.60,75.33 L662.87,76.22 L664.10,76.43 L665.36,76.66 L666.16,77.23 L666.66,78.00 L667.05,78.83 L667.42,79.68 L667.76,80.54 L668.07,81.42 L668.37,82.31 L668.59,83.23 L668.53,84.23 L667.91,85.37 L667.24,86.50 L667.60,87.32 L668.83,87.95 L669.80,88.67 L670.25,89.53 L670.46,90.45 L670.62,91.39 L670.76,92.34 L670.89,93.31 L670.99,94.30 L670.97,95.36 L670.37,96.52 L669.14,97.75 L669.20,98.91 L670.57,100.04 L671.26,101.17 L671.38,102.28 L671.38,103.30 L671.35,104.22 L671.30,105.00 L671.21,105.62 L671.07,106.08 L670.90,106.42 L670.70,106.67 L670.49,106.88 L670.29,107.08 L670.11,107.30 L669.95,107.59 L669.83,107.97 L669.75,108.50 L669.62,109.16 L669.26,109.96 L668.53,110.92 L667.90,111.94 L668.29,112.79 L669.51,113.49 L670.44,114.29 L670.81,115.20 L670.95,116.15 L671.00,117.10 L671.01,118.06 L670.99,119.04 L670.96,120.04 L670.91,121.06 L670.82,122.10 L670.54,123.12 L669.67,124.07 L668.36,124.91 L668.12,125.88 L669.05,127.08 L669.64,128.28 L669.59,129.39 L669.32,130.47 L669.00,131.54 L668.64,132.61 L668.10,133.59 L666.94,134.31 L665.48,134.82 L665.15,135.72 L665.74,137.02 L666.01,138.18 L665.78,139.08 L665.34,139.84 L664.86,140.55 L664.36,141.22 L663.84,141.87 L663.31,142.49 L662.76,143.10 L662.19,143.70 L661.60,144.30 L660.98,144.88 L660.25,145.37 L659.25,145.55 L657.97,145.36 L656.92,145.36 L656.57,146.16 L656.49,147.43 L656.15,148.43 L655.53,149.02 L654.80,149.39 L654.02,149.67 L653.19,149.85 L652.30,149.76 L651.35,149.15 L650.44,148.27 L649.67,148.11 L648.92,148.96 L648.07,149.86 L647.17,150.22 L646.30,150.18 L645.44,149.99 L644.57,149.69 L643.70,149.33 L642.83,148.90 L642.06,148.26 L641.58,147.11 L641.31,145.66 L640.58,145.03 L639.26,145.37 L638.02,145.65 L637.08,145.47 L636.29,145.07 L635.55,144.62 L634.83,144.16 L634.13,143.68 L633.45,143.18 L632.83,142.62 L632.37,141.89 L632.27,140.85 L632.51,139.64 L632.39,138.80 L631.33,138.55 L629.97,138.34 L629.07,137.76 L628.54,136.95 L628.12,136.10 L627.74,135.26 L627.41,134.45 L627.13,133.69 L626.90,133.00 L626.75,132.36 L626.68,131.73 L626.68,131.13 L626.73,130.56 L626.81,130.02 L626.89,129.51 L626.96,129.03 L627.00,128.58 L626.99,128.17 L626.90,127.80 L626.75,127.48 L626.57,127.20 L626.35,126.98 L626.10,126.78 L625.84,126.62 L625.55,126.48 L625.25,126.35 L624.94,126.24 L624.62,126.12 L624.30,126.00 L623.97,125.88 L623.62,125.77 L623.25,125.67 L622.87,125.57 L622.47,125.49 L622.08,125.43 L621.68,125.37 L621.28,125.33 L620.89,125.31 L620.50,125.30 L620.12,125.32 L619.74,125.37 L619.36,125.45 L618.98,125.55 L618.61,125.65 L618.23,125.75 L617.85,125.85 L617.47,125.93 L617.08,125.98 L616.70,126.00 L616.31,125.98 L615.90,125.93 L615.49,125.85 L615.08,125.75 L614.67,125.65 L614.26,125.55 L613.87,125.45 L613.49,125.37 L613.13,125.32 L612.80,125.30 L612.49,125.31 L612.21,125.34 L611.95,125.38 L611.70,125.44 L611.47,125.51 L611.24,125.60 L611.01,125.69 L610.78,125.79 L610.55,125.89 L610.30,126.00 L610.03,126.11 L609.74,126.21 L609.45,126.31 L609.14,126.41 L608.84,126.53 L608.56,126.67 L608.29,126.83 L608.06,127.01 L607.86,127.24 L607.70,127.50 L607.61,127.81 L607.59,128.15 L607.63,128.53 L607.70,128.94 L607.78,129.38 L607.85,129.83 L607.90,130.29 L607.90,130.76 L607.84,131.23 L607.70,131.70 L607.49,132.18 L607.22,132.68 L606.92,133.20 L606.58,133.74 L606.20,134.27 L605.79,134.81 L605.35,135.34 L604.89,135.85 L604.40,136.34 L603.90,136.80 L603.35,137.22 L602.74,137.59 L602.08,137.93 L601.37,138.22 L600.60,138.40 L599.68,138.30 L598.55,137.93 L597.37,137.75 L596.56,138.33 L596.32,139.55 L596.43,140.80 L596.47,141.79 L596.31,142.62 L596.05,143.42 L595.77,144.23 L595.50,145.03 L595.20,145.80 L594.86,146.52 L594.47,147.16 L594.00,147.70 L593.46,148.15 L592.88,148.54 L592.25,148.87 L591.56,149.09 L590.78,149.04 L589.91,148.59 L589.04,147.90 L588.30,147.62 L587.69,148.19 L587.09,149.18 L586.39,149.92 L585.58,150.25 L584.72,150.33 L583.84,150.32 L582.95,150.27 L582.06,150.19 L581.18,150.06 L580.32,149.89 L579.49,149.67 L578.71,149.39 L577.99,148.97 L577.43,148.26 L577.18,147.10 L577.05,145.91 L576.42,145.47 L575.20,145.68 L574.00,145.76 L573.14,145.43 L572.48,144.89 L571.90,144.30 L571.36,143.69 L570.85,143.05 L570.37,142.38 L569.92,141.70 L569.55,140.97 L569.39,140.12 L569.64,139.07 L570.09,137.95 L570.08,137.10 L569.28,136.67 L568.16,136.40 L567.28,136.00 L566.75,135.43 L566.41,134.77 L566.14,134.10 L565.90,133.42 L565.68,132.74 L565.47,132.06 L565.28,131.38 L565.10,130.70 L564.95,130.02 L564.82,129.34 L564.74,128.66 L564.74,127.96 L564.97,127.26 L565.51,126.52 L566.25,125.77 L566.71,125.03 L566.47,124.34 L565.66,123.72 L564.81,123.12 L564.24,122.49 L563.95,121.83 L563.79,121.14 L563.69,120.45 L563.66,119.76 L563.80,119.06 L564.25,118.36 L564.98,117.71 L565.64,117.16 L565.79,116.64 L565.34,116.03 L564.65,115.31 L564.17,114.56 L564.00,113.86 L564.04,113.21 L564.15,112.60 L564.29,112.03 L564.44,111.50 L564.63,111.03 L564.87,110.65 L565.15,110.40 L565.45,110.23 L565.76,110.10 L566.10,109.93 L566.47,109.67 L566.88,109.32 L567.26,108.86 L567.50,108.30 L567.31,107.63 L566.55,106.90 L565.60,106.14 L565.02,105.29 L564.78,104.34 L564.64,103.34 L564.57,102.30 L564.87,101.23 L565.82,100.14 L566.60,99.19 L566.19,98.39 L565.21,97.58 L564.56,96.72 L564.37,95.87 L564.40,95.05 L564.49,94.24 L564.60,93.46 L564.71,92.69 L564.84,91.94 L564.97,91.21 L565.10,90.50 L565.24,89.82 L565.38,89.17 L565.57,88.54 L565.86,87.97 L566.34,87.47 L567.07,87.07 L567.92,86.74 L568.59,86.37 L568.79,85.85 L568.52,85.16 L568.08,84.40 L567.77,83.69 L567.69,83.06 L567.78,82.52 L567.97,82.01 L568.20,81.52 L568.48,81.04 L568.81,80.56 L569.28,80.11 L570.00,79.74 L571.03,79.44 L572.02,79.04 L572.29,78.27 L571.82,77.16 L571.40,76.05 L571.40,75.14 L571.67,74.39 L572.01,73.71 L572.36,73.11 L572.70,72.60 L573.04,72.19 L573.37,71.88 L573.69,71.64 L574.02,71.46 L574.34,71.30 L574.68,71.15 L575.01,70.97 L575.36,70.76 L575.72,70.47 L576.11,70.11 L576.52,69.65 L577.03,69.17 L577.80,68.77 L578.92,68.54 L580.05,68.30 L580.48,67.66 L580.23,66.59 L579.98,65.52 L580.08,64.71 L580.43,64.14 L580.87,63.72 L581.32,63.38 L581.76,63.10 L582.22,62.85 L582.69,62.64 L583.18,62.44 L583.69,62.25 L584.25,62.05 L584.85,61.84 L585.50,61.60 L586.22,61.35 L587.02,61.10 L587.88,60.85 L588.78,60.61 L589.69,60.36 L590.62,60.10 L591.53,59.84 L592.41,59.57 L593.24,59.29 L594.00,59.00 L594.71,58.69 L595.39,58.37 L596.05,58.03 L596.68,57.68 L597.28,57.33 L597.86,56.98 L598.43,56.62 L598.97,56.27 L599.49,55.93Z" fill="none" stroke="#8a8a8a" stroke-width="10"/>
<path d="M616.6,58.0 C616.6,60.3 616.7,67.0 616.7,72.0 C616.7,77.0 616.8,85.3 616.8,88.0" fill="none" stroke="#b4b4b4" stroke-width="8.2" stroke-linecap="round" stroke-linejoin="round"/><path d="M616.6,58.0 C616.6,60.3 616.7,67.0 616.7,72.0 C616.7,77.0 616.8,85.3 616.8,88.0" fill="none" stroke="#8a8a8a" stroke-width="5.2" stroke-linecap="round" stroke-linejoin="round"/><path d="M616.6,58.0 C616.6,60.3 616.7,67.0 616.7,72.0 C616.7,77.0 616.8,85.3 616.8,88.0" fill="none" stroke="#333" stroke-width="1.1" stroke-linecap="round"/>
<path d="M613.7,52.4 C613.0,53.2 610.8,55.4 609.5,56.8 C608.2,58.1 606.6,59.7 606.0,60.3" fill="none" stroke="#b4b4b4" stroke-width="8.2" stroke-linecap="round" stroke-linejoin="round"/><path d="M613.7,52.4 C613.0,53.2 610.8,55.4 609.5,56.8 C608.2,58.1 606.6,59.7 606.0,60.3" fill="none" stroke="#8a8a8a" stroke-width="5.2" stroke-linecap="round" stroke-linejoin="round"/><path d="M613.7,52.4 C613.0,53.2 610.8,55.4 609.5,56.8 C608.2,58.1 606.6,59.7 606.0,60.3" fill="none" stroke="#333" stroke-width="1.1" stroke-linecap="round"/>
<path d="M624.6,51.4 C624.6,52.1 624.7,54.6 624.7,55.9 C624.7,57.3 624.7,58.9 624.7,59.5" fill="none" stroke="#b4b4b4" stroke-width="8.2" stroke-linecap="round" stroke-linejoin="round"/><path d="M624.6,51.4 C624.6,52.1 624.7,54.6 624.7,55.9 C624.7,57.3 624.7,58.9 624.7,59.5" fill="none" stroke="#8a8a8a" stroke-width="5.2" stroke-linecap="round" stroke-linejoin="round"/><path d="M624.6,51.4 C624.6,52.1 624.7,54.6 624.7,55.9 C624.7,57.3 624.7,58.9 624.7,59.5" fill="none" stroke="#333" stroke-width="1.1" stroke-linecap="round"/>
<path d="M635.0,53.3 C634.3,53.9 632.1,55.8 630.9,56.9 C629.6,58.0 627.9,59.3 627.3,59.8" fill="none" stroke="#b4b4b4" stroke-width="8.2" stroke-linecap="round" stroke-linejoin="round"/><path d="M635.0,53.3 C634.3,53.9 632.1,55.8 630.9,56.9 C629.6,58.0 627.9,59.3 627.3,59.8" fill="none" stroke="#8a8a8a" stroke-width="5.2" stroke-linecap="round" stroke-linejoin="round"/><path d="M635.0,53.3 C634.3,53.9 632.1,55.8 630.9,56.9 C629.6,58.0 627.9,59.3 627.3,59.8" fill="none" stroke="#333" stroke-width="1.1" stroke-linecap="round"/>
<path d="M644.9,57.6 C644.5,58.9 643.4,62.8 642.7,65.2 C642.0,67.5 641.1,70.6 640.7,71.7" fill="none" stroke="#b4b4b4" stroke-width="8.2" stroke-linecap="round" stroke-linejoin="round"/><path d="M644.9,57.6 C644.5,58.9 643.4,62.8 642.7,65.2 C642.0,67.5 641.1,70.6 640.7,71.7" fill="none" stroke="#8a8a8a" stroke-width="5.2" stroke-linecap="round" stroke-linejoin="round"/><path d="M644.9,57.6 C644.5,58.9 643.4,62.8 642.7,65.2 C642.0,67.5 641.1,70.6 640.7,71.7" fill="none" stroke="#333" stroke-width="1.1" stroke-linecap="round"/>
<path d="M654.3,66.0 C653.7,66.5 651.4,68.1 650.2,69.0 C648.9,69.8 647.4,70.9 646.8,71.3" fill="none" stroke="#b4b4b4" stroke-width="8.2" stroke-linecap="round" stroke-linejoin="round"/><path d="M654.3,66.0 C653.7,66.5 651.4,68.1 650.2,69.0 C648.9,69.8 647.4,70.9 646.8,71.3" fill="none" stroke="#8a8a8a" stroke-width="5.2" stroke-linecap="round" stroke-linejoin="round"/><path d="M654.3,66.0 C653.7,66.5 651.4,68.1 650.2,69.0 C648.9,69.8 647.4,70.9 646.8,71.3" fill="none" stroke="#333" stroke-width="1.1" stroke-linecap="round"/>
<path d="M665.0,73.5 C664.1,74.1 661.1,75.9 659.4,77.0 C657.6,78.0 655.4,79.4 654.6,79.9" fill="none" stroke="#b4b4b4" stroke-width="8.2" stroke-linecap="round" stroke-linejoin="round"/><path d="M665.0,73.5 C664.1,74.1 661.1,75.9 659.4,77.0 C657.6,78.0 655.4,79.4 654.6,79.9" fill="none" stroke="#8a8a8a" stroke-width="5.2" stroke-linecap="round" stroke-linejoin="round"/><path d="M665.0,73.5 C664.1,74.1 661.1,75.9 659.4,77.0 C657.6,78.0 655.4,79.4 654.6,79.9" fill="none" stroke="#333" stroke-width="1.1" stroke-linecap="round"/>
<path d="M670.4,85.6 C669.6,85.8 667.1,86.2 665.7,86.4 C664.3,86.7 662.6,86.9 662.0,87.0" fill="none" stroke="#b4b4b4" stroke-width="8.2" stroke-linecap="round" stroke-linejoin="round"/><path d="M670.4,85.6 C669.6,85.8 667.1,86.2 665.7,86.4 C664.3,86.7 662.6,86.9 662.0,87.0" fill="none" stroke="#8a8a8a" stroke-width="5.2" stroke-linecap="round" stroke-linejoin="round"/><path d="M670.4,85.6 C669.6,85.8 667.1,86.2 665.7,86.4 C664.3,86.7 662.6,86.9 662.0,87.0" fill="none" stroke="#333" stroke-width="1.1" stroke-linecap="round"/>
<path d="M672.3,97.6 C671.3,97.8 668.3,98.5 666.6,98.9 C664.9,99.4 662.8,100.0 662.0,100.3" fill="none" stroke="#b4b4b4" stroke-width="8.2" stroke-linecap="round" stroke-linejoin="round"/><path d="M672.3,97.6 C671.3,97.8 668.3,98.5 666.6,98.9 C664.9,99.4 662.8,100.0 662.0,100.3" fill="none" stroke="#8a8a8a" stroke-width="5.2" stroke-linecap="round" stroke-linejoin="round"/><path d="M672.3,97.6 C671.3,97.8 668.3,98.5 666.6,98.9 C664.9,99.4 662.8,100.0 662.0,100.3" fill="none" stroke="#333" stroke-width="1.1" stroke-linecap="round"/>
<path d="M671.2,111.3 C670.1,111.4 666.7,111.8 664.8,112.0 C662.8,112.2 660.3,112.4 659.4,112.4" fill="none" stroke="#b4b4b4" stroke-width="8.2" stroke-linecap="round" stroke-linejoin="round"/><path d="M671.2,111.3 C670.1,111.4 666.7,111.8 664.8,112.0 C662.8,112.2 660.3,112.4 659.4,112.4" fill="none" stroke="#8a8a8a" stroke-width="5.2" stroke-linecap="round" stroke-linejoin="round"/><path d="M671.2,111.3 C670.1,111.4 666.7,111.8 664.8,112.0 C662.8,112.2 660.3,112.4 659.4,112.4" fill="none" stroke="#333" stroke-width="1.1" stroke-linecap="round"/>
<path d="M671.5,125.4 C670.3,125.0 666.6,123.8 664.4,123.0 C662.2,122.2 659.3,121.1 658.3,120.8" fill="none" stroke="#b4b4b4" stroke-width="8.2" stroke-linecap="round" stroke-linejoin="round"/><path d="M671.5,125.4 C670.3,125.0 666.6,123.8 664.4,123.0 C662.2,122.2 659.3,121.1 658.3,120.8" fill="none" stroke="#8a8a8a" stroke-width="5.2" stroke-linecap="round" stroke-linejoin="round"/><path d="M671.5,125.4 C670.3,125.0 666.6,123.8 664.4,123.0 C662.2,122.2 659.3,121.1 658.3,120.8" fill="none" stroke="#333" stroke-width="1.1" stroke-linecap="round"/>
<path d="M668.5,136.1 C667.3,135.6 663.5,134.1 661.3,133.3 C659.0,132.4 656.1,131.3 655.0,130.8" fill="none" stroke="#b4b4b4" stroke-width="8.2" stroke-linecap="round" stroke-linejoin="round"/><path d="M668.5,136.1 C667.3,135.6 663.5,134.1 661.3,133.3 C659.0,132.4 656.1,131.3 655.0,130.8" fill="none" stroke="#8a8a8a" stroke-width="5.2" stroke-linecap="round" stroke-linejoin="round"/><path d="M668.5,136.1 C667.3,135.6 663.5,134.1 661.3,133.3 C659.0,132.4 656.1,131.3 655.0,130.8" fill="none" stroke="#333" stroke-width="1.1" stroke-linecap="round"/>
<path d="M659.0,148.0 C658.0,147.1 654.9,144.3 653.0,142.6 C651.1,140.9 648.5,138.7 647.6,137.9" fill="none" stroke="#b4b4b4" stroke-width="8.2" stroke-linecap="round" stroke-linejoin="round"/><path d="M659.0,148.0 C658.0,147.1 654.9,144.3 653.0,142.6 C651.1,140.9 648.5,138.7 647.6,137.9" fill="none" stroke="#8a8a8a" stroke-width="5.2" stroke-linecap="round" stroke-linejoin="round"/><path d="M659.0,148.0 C658.0,147.1 654.9,144.3 653.0,142.6 C651.1,140.9 648.5,138.7 647.6,137.9" fill="none" stroke="#333" stroke-width="1.1" stroke-linecap="round"/>
<path d="M650.8,151.4 C650.8,150.5 651.0,147.6 651.2,145.9 C651.3,144.3 651.6,142.2 651.7,141.5" fill="none" stroke="#b4b4b4" stroke-width="8.2" stroke-linecap="round" stroke-linejoin="round"/><path d="M650.8,151.4 C650.8,150.5 651.0,147.6 651.2,145.9 C651.3,144.3 651.6,142.2 651.7,141.5" fill="none" stroke="#8a8a8a" stroke-width="5.2" stroke-linecap="round" stroke-linejoin="round"/><path d="M650.8,151.4 C650.8,150.5 651.0,147.6 651.2,145.9 C651.3,144.3 651.6,142.2 651.7,141.5" fill="none" stroke="#333" stroke-width="1.1" stroke-linecap="round"/>
<path d="M639.7,148.3 C640.2,147.3 641.9,144.0 642.8,142.0 C643.8,140.1 645.0,137.5 645.4,136.6" fill="none" stroke="#b4b4b4" stroke-width="8.2" stroke-linecap="round" stroke-linejoin="round"/><path d="M639.7,148.3 C640.2,147.3 641.9,144.0 642.8,142.0 C643.8,140.1 645.0,137.5 645.4,136.6" fill="none" stroke="#8a8a8a" stroke-width="5.2" stroke-linecap="round" stroke-linejoin="round"/><path d="M639.7,148.3 C640.2,147.3 641.9,144.0 642.8,142.0 C643.8,140.1 645.0,137.5 645.4,136.6" fill="none" stroke="#333" stroke-width="1.1" stroke-linecap="round"/>
<path d="M630.2,141.5 C631.0,140.8 633.3,138.7 634.6,137.4 C636.0,136.1 637.7,134.5 638.3,133.9" fill="none" stroke="#b4b4b4" stroke-width="8.2" stroke-linecap="round" stroke-linejoin="round"/><path d="M630.2,141.5 C631.0,140.8 633.3,138.7 634.6,137.4 C636.0,136.1 637.7,134.5 638.3,133.9" fill="none" stroke="#8a8a8a" stroke-width="5.2" stroke-linecap="round" stroke-linejoin="round"/><path d="M630.2,141.5 C631.0,140.8 633.3,138.7 634.6,137.4 C636.0,136.1 637.7,134.5 638.3,133.9" fill="none" stroke="#333" stroke-width="1.1" stroke-linecap="round"/>
<path d="M599.2,140.5 C598.6,139.2 596.8,135.3 595.7,133.0 C594.6,130.6 593.2,127.4 592.7,126.3" fill="none" stroke="#b4b4b4" stroke-width="8.2" stroke-linecap="round" stroke-linejoin="round"/><path d="M599.2,140.5 C598.6,139.2 596.8,135.3 595.7,133.0 C594.6,130.6 593.2,127.4 592.7,126.3" fill="none" stroke="#8a8a8a" stroke-width="5.2" stroke-linecap="round" stroke-linejoin="round"/><path d="M599.2,140.5 C598.6,139.2 596.8,135.3 595.7,133.0 C594.6,130.6 593.2,127.4 592.7,126.3" fill="none" stroke="#333" stroke-width="1.1" stroke-linecap="round"/>
<path d="M589.7,150.8 C589.3,149.7 588.0,146.1 587.2,144.0 C586.4,141.9 585.2,139.2 584.8,138.2" fill="none" stroke="#b4b4b4" stroke-width="8.2" stroke-linecap="round" stroke-linejoin="round"/><path d="M589.7,150.8 C589.3,149.7 588.0,146.1 587.2,144.0 C586.4,141.9 585.2,139.2 584.8,138.2" fill="none" stroke="#8a8a8a" stroke-width="5.2" stroke-linecap="round" stroke-linejoin="round"/><path d="M589.7,150.8 C589.3,149.7 588.0,146.1 587.2,144.0 C586.4,141.9 585.2,139.2 584.8,138.2" fill="none" stroke="#333" stroke-width="1.1" stroke-linecap="round"/>
<path d="M575.2,148.6 C576.2,147.6 579.3,144.5 581.2,142.6 C583.1,140.7 585.7,138.3 586.6,137.4" fill="none" stroke="#b4b4b4" stroke-width="8.2" stroke-linecap="round" stroke-linejoin="round"/><path d="M575.2,148.6 C576.2,147.6 579.3,144.5 581.2,142.6 C583.1,140.7 585.7,138.3 586.6,137.4" fill="none" stroke="#8a8a8a" stroke-width="5.2" stroke-linecap="round" stroke-linejoin="round"/><path d="M575.2,148.6 C576.2,147.6 579.3,144.5 581.2,142.6 C583.1,140.7 585.7,138.3 586.6,137.4" fill="none" stroke="#333" stroke-width="1.1" stroke-linecap="round"/>
<path d="M567.4,139.3 C568.4,138.7 571.6,136.5 573.5,135.2 C575.4,133.9 577.9,132.1 578.8,131.4" fill="none" stroke="#b4b4b4" stroke-width="8.2" stroke-linecap="round" stroke-linejoin="round"/><path d="M567.4,139.3 C568.4,138.7 571.6,136.5 573.5,135.2 C575.4,133.9 577.9,132.1 578.8,131.4" fill="none" stroke="#8a8a8a" stroke-width="5.2" stroke-linecap="round" stroke-linejoin="round"/><path d="M567.4,139.3 C568.4,138.7 571.6,136.5 573.5,135.2 C575.4,133.9 577.9,132.1 578.8,131.4" fill="none" stroke="#333" stroke-width="1.1" stroke-linecap="round"/>
<path d="M563.4,125.4 C564.5,125.1 568.0,124.5 570.1,124.1 C572.1,123.7 574.8,123.1 575.8,122.9" fill="none" stroke="#b4b4b4" stroke-width="8.2" stroke-linecap="round" stroke-linejoin="round"/><path d="M563.4,125.4 C564.5,125.1 568.0,124.5 570.1,124.1 C572.1,123.7 574.8,123.1 575.8,122.9" fill="none" stroke="#8a8a8a" stroke-width="5.2" stroke-linecap="round" stroke-linejoin="round"/><path d="M563.4,125.4 C564.5,125.1 568.0,124.5 570.1,124.1 C572.1,123.7 574.8,123.1 575.8,122.9" fill="none" stroke="#333" stroke-width="1.1" stroke-linecap="round"/>
<path d="M562.4,117.1 C563.7,117.4 567.8,118.3 570.3,118.9 C572.7,119.5 576.0,120.4 577.1,120.7" fill="none" stroke="#b4b4b4" stroke-width="8.2" stroke-linecap="round" stroke-linejoin="round"/><path d="M562.4,117.1 C563.7,117.4 567.8,118.3 570.3,118.9 C572.7,119.5 576.0,120.4 577.1,120.7" fill="none" stroke="#8a8a8a" stroke-width="5.2" stroke-linecap="round" stroke-linejoin="round"/><path d="M562.4,117.1 C563.7,117.4 567.8,118.3 570.3,118.9 C572.7,119.5 576.0,120.4 577.1,120.7" fill="none" stroke="#333" stroke-width="1.1" stroke-linecap="round"/>
<path d="M564.1,108.2 C565.4,108.2 569.4,108.1 571.8,108.1 C574.2,108.0 577.4,107.9 578.5,107.9" fill="none" stroke="#b4b4b4" stroke-width="8.2" stroke-linecap="round" stroke-linejoin="round"/><path d="M564.1,108.2 C565.4,108.2 569.4,108.1 571.8,108.1 C574.2,108.0 577.4,107.9 578.5,107.9" fill="none" stroke="#8a8a8a" stroke-width="5.2" stroke-linecap="round" stroke-linejoin="round"/><path d="M564.1,108.2 C565.4,108.2 569.4,108.1 571.8,108.1 C574.2,108.0 577.4,107.9 578.5,107.9" fill="none" stroke="#333" stroke-width="1.1" stroke-linecap="round"/>
<path d="M563.2,99.3 C564.2,99.4 567.2,99.6 568.9,99.7 C570.7,99.8 572.8,100.0 573.6,100.1" fill="none" stroke="#b4b4b4" stroke-width="8.2" stroke-linecap="round" stroke-linejoin="round"/><path d="M563.2,99.3 C564.2,99.4 567.2,99.6 568.9,99.7 C570.7,99.8 572.8,100.0 573.6,100.1" fill="none" stroke="#8a8a8a" stroke-width="5.2" stroke-linecap="round" stroke-linejoin="round"/><path d="M563.2,99.3 C564.2,99.4 567.2,99.6 568.9,99.7 C570.7,99.8 572.8,100.0 573.6,100.1" fill="none" stroke="#333" stroke-width="1.1" stroke-linecap="round"/>
<path d="M565.5,85.3 C566.2,85.6 568.5,86.5 569.8,87.0 C571.1,87.5 572.6,88.2 573.2,88.4" fill="none" stroke="#b4b4b4" stroke-width="8.2" stroke-linecap="round" stroke-linejoin="round"/><path d="M565.5,85.3 C566.2,85.6 568.5,86.5 569.8,87.0 C571.1,87.5 572.6,88.2 573.2,88.4" fill="none" stroke="#8a8a8a" stroke-width="5.2" stroke-linecap="round" stroke-linejoin="round"/><path d="M565.5,85.3 C566.2,85.6 568.5,86.5 569.8,87.0 C571.1,87.5 572.6,88.2 573.2,88.4" fill="none" stroke="#333" stroke-width="1.1" stroke-linecap="round"/>
<path d="M569.0,77.7 C570.2,78.1 573.8,79.5 575.9,80.3 C578.1,81.1 580.9,82.1 581.9,82.4" fill="none" stroke="#b4b4b4" stroke-width="8.2" stroke-linecap="round" stroke-linejoin="round"/><path d="M569.0,77.7 C570.2,78.1 573.8,79.5 575.9,80.3 C578.1,81.1 580.9,82.1 581.9,82.4" fill="none" stroke="#8a8a8a" stroke-width="5.2" stroke-linecap="round" stroke-linejoin="round"/><path d="M569.0,77.7 C570.2,78.1 573.8,79.5 575.9,80.3 C578.1,81.1 580.9,82.1 581.9,82.4" fill="none" stroke="#333" stroke-width="1.1" stroke-linecap="round"/>
<path d="M577.3,66.6 C578.5,67.3 582.2,69.7 584.4,71.1 C586.6,72.5 589.6,74.4 590.7,75.0" fill="none" stroke="#b4b4b4" stroke-width="8.2" stroke-linecap="round" stroke-linejoin="round"/><path d="M577.3,66.6 C578.5,67.3 582.2,69.7 584.4,71.1 C586.6,72.5 589.6,74.4 590.7,75.0" fill="none" stroke="#8a8a8a" stroke-width="5.2" stroke-linecap="round" stroke-linejoin="round"/><path d="M577.3,66.6 C578.5,67.3 582.2,69.7 584.4,71.1 C586.6,72.5 589.6,74.4 590.7,75.0" fill="none" stroke="#333" stroke-width="1.1" stroke-linecap="round"/>
<path d="M564.5,100.0 C565.8,100.3 569.2,101.3 572.0,102.0 C574.8,102.7 578.0,104.0 581.0,104.0 C584.0,104.0 587.5,102.6 589.7,101.8 C591.9,101.0 593.3,99.5 594.0,99.0" fill="none" stroke="#b4b4b4" stroke-width="8.7" stroke-linecap="round" stroke-linejoin="round"/><path d="M564.5,100.0 C565.8,100.3 569.2,101.3 572.0,102.0 C574.8,102.7 578.0,104.0 581.0,104.0 C584.0,104.0 587.5,102.6 589.7,101.8 C591.9,101.0 593.3,99.5 594.0,99.0" fill="none" stroke="#8a8a8a" stroke-width="5.7" stroke-linecap="round" stroke-linejoin="round"/><path d="M564.5,100.0 C565.8,100.3 569.2,101.3 572.0,102.0 C574.8,102.7 578.0,104.0 581.0,104.0 C584.0,104.0 587.5,102.6 589.7,101.8 C591.9,101.0 593.3,99.5 594.0,99.0" fill="none" stroke="#333" stroke-width="1.1" stroke-linecap="round"/>
<path d="M671.3,101.0 C669.8,100.8 665.2,100.0 662.0,100.0 C658.8,100.0 655.2,100.4 652.0,101.0 C648.8,101.6 645.3,103.5 643.0,103.5 C640.7,103.5 638.8,101.4 638.0,101.0" fill="none" stroke="#b4b4b4" stroke-width="8.7" stroke-linecap="round" stroke-linejoin="round"/><path d="M671.3,101.0 C669.8,100.8 665.2,100.0 662.0,100.0 C658.8,100.0 655.2,100.4 652.0,101.0 C648.8,101.6 645.3,103.5 643.0,103.5 C640.7,103.5 638.8,101.4 638.0,101.0" fill="none" stroke="#8a8a8a" stroke-width="5.7" stroke-linecap="round" stroke-linejoin="round"/><path d="M671.3,101.0 C669.8,100.8 665.2,100.0 662.0,100.0 C658.8,100.0 655.2,100.4 652.0,101.0 C648.8,101.6 645.3,103.5 643.0,103.5 C640.7,103.5 638.8,101.4 638.0,101.0" fill="none" stroke="#333" stroke-width="1.1" stroke-linecap="round"/>
<path d="M589.7,102.0 C588.4,103.0 583.3,106.0 582.0,108.0 C580.7,110.0 581.7,112.2 582.0,114.0 C582.3,115.8 583.7,118.2 584.0,119.0" fill="none" stroke="#b4b4b4" stroke-width="7.7" stroke-linecap="round" stroke-linejoin="round"/><path d="M589.7,102.0 C588.4,103.0 583.3,106.0 582.0,108.0 C580.7,110.0 581.7,112.2 582.0,114.0 C582.3,115.8 583.7,118.2 584.0,119.0" fill="none" stroke="#8a8a8a" stroke-width="4.7" stroke-linecap="round" stroke-linejoin="round"/><path d="M589.7,102.0 C588.4,103.0 583.3,106.0 582.0,108.0 C580.7,110.0 581.7,112.2 582.0,114.0 C582.3,115.8 583.7,118.2 584.0,119.0" fill="none" stroke="#333" stroke-width="1.1" stroke-linecap="round"/>
<path d="M643.0,104.0 C644.2,104.3 648.3,104.7 650.0,106.0 C651.7,107.3 652.5,110.3 653.0,112.0 C653.5,113.7 653.0,115.3 653.0,116.0" fill="none" stroke="#b4b4b4" stroke-width="7.7" stroke-linecap="round" stroke-linejoin="round"/><path d="M643.0,104.0 C644.2,104.3 648.3,104.7 650.0,106.0 C651.7,107.3 652.5,110.3 653.0,112.0 C653.5,113.7 653.0,115.3 653.0,116.0" fill="none" stroke="#8a8a8a" stroke-width="4.7" stroke-linecap="round" stroke-linejoin="round"/><path d="M643.0,104.0 C644.2,104.3 648.3,104.7 650.0,106.0 C651.7,107.3 652.5,110.3 653.0,112.0 C653.5,113.7 653.0,115.3 653.0,116.0" fill="none" stroke="#333" stroke-width="1.1" stroke-linecap="round"/>
<path d="M594.0,126.4 C593.3,127.2 590.4,130.7 589.7,131.5" fill="none" stroke="#b4b4b4" stroke-width="7.7" stroke-linecap="round" stroke-linejoin="round"/><path d="M594.0,126.4 C593.3,127.2 590.4,130.7 589.7,131.5" fill="none" stroke="#8a8a8a" stroke-width="4.7" stroke-linecap="round" stroke-linejoin="round"/><path d="M594.0,126.4 C593.3,127.2 590.4,130.7 589.7,131.5" fill="none" stroke="#333" stroke-width="1.1" stroke-linecap="round"/>
<path d="M631.0,126.5 C632.1,126.6 635.7,126.2 637.8,127.0 C639.9,127.8 642.7,130.3 643.7,131.0" fill="none" stroke="#b4b4b4" stroke-width="7.7" stroke-linecap="round" stroke-linejoin="round"/><path d="M631.0,126.5 C632.1,126.6 635.7,126.2 637.8,127.0 C639.9,127.8 642.7,130.3 643.7,131.0" fill="none" stroke="#8a8a8a" stroke-width="4.7" stroke-linecap="round" stroke-linejoin="round"/><path d="M631.0,126.5 C632.1,126.6 635.7,126.2 637.8,127.0 C639.9,127.8 642.7,130.3 643.7,131.0" fill="none" stroke="#333" stroke-width="1.1" stroke-linecap="round"/>
</g>
<ellipse cx="586" cy="103" rx="1.3" ry="0.6" transform="rotate(-30 586 103)" fill="#fafafa"/>
<ellipse cx="582" cy="110" rx="0.6" ry="1.5" transform="rotate(0 582 110)" fill="#fafafa"/>
<ellipse cx="591.5" cy="129" rx="1.6" ry="0.6" transform="rotate(-40 591.5 129)" fill="#fafafa"/>
<ellipse cx="651.8" cy="110" rx="0.6" ry="1.6" transform="rotate(10 651.8 110)" fill="#fafafa"/>
<ellipse cx="634" cy="126.2" rx="2.2" ry="0.7" transform="rotate(-5 634 126.2)" fill="#fafafa"/>
<ellipse cx="617" cy="116.5" rx="0.8" ry="1.5" transform="rotate(0 617 116.5)" fill="#fafafa"/>
<ellipse cx="617" cy="103.5" rx="0.8" ry="1" transform="rotate(0 617 103.5)" fill="#fafafa"/>
<path d="M603.6,90.5 C603.9,90.0 605.3,90.4 606.8,90.9 C608.3,91.4 611.1,92.7 612.7,93.5 C614.3,94.3 615.8,94.9 616.3,95.6 C616.8,96.3 616.6,97.3 615.7,97.7 C614.8,98.1 612.2,98.1 611.0,98.1 C609.8,98.1 609.5,98.4 608.5,97.7 C607.5,97.0 605.9,95.1 605.1,93.9 C604.3,92.7 603.3,91.0 603.6,90.5Z" fill="#fcfcfc" stroke="#262626" stroke-width="0.9"/>
<path d="M618.3,96.0 C618.8,95.3 620.6,94.7 622.1,93.9 C623.6,93.1 625.9,91.9 627.2,91.3 C628.5,90.7 629.7,90.2 630.1,90.5 C630.5,90.8 630.3,91.9 629.7,93.0 C629.1,94.1 627.6,96.1 626.3,96.9 C625.0,97.7 623.3,97.5 622.1,97.7 C620.9,97.9 619.7,98.4 619.1,98.1 C618.5,97.8 617.8,96.7 618.3,96.0Z" fill="#fcfcfc" stroke="#262626" stroke-width="0.9"/>
<path d="M612.5,88.6 Q617,86.3 622.5,88.6" stroke="#2a2a2a" stroke-width="1.6" fill="none"/>
<ellipse cx="617" cy="102.2" rx="1" ry="1.2" fill="#fcfcfc" stroke="#333" stroke-width="0.6"/>
<path d="M600.00,55.60 L600.48,55.27 L600.93,54.92 L601.36,54.58 L601.76,54.23 L602.15,53.89 L602.52,53.56 L602.89,53.25 L603.26,52.97 L603.63,52.72 L604.00,52.50 L604.37,52.32 L604.73,52.17 L605.08,52.04 L605.43,51.94 L605.78,51.86 L606.12,51.79 L606.47,51.75 L606.84,51.72 L607.21,51.70 L607.60,51.70 L608.01,51.71 L608.45,51.72 L608.91,51.76 L609.38,51.81 L609.84,51.90 L610.30,52.05 L610.71,52.29 L611.05,52.67 L611.27,53.18 L611.34,53.75 L611.33,54.30 L611.31,54.73 L611.40,54.99 L611.66,55.08 L612.11,55.05 L612.70,54.99 L613.31,54.99 L613.87,55.08 L614.33,55.28 L614.69,55.56 L614.98,55.95 L615.21,56.45 L615.41,57.02 L615.59,57.62 L615.76,58.22 L615.92,58.78 L616.08,59.26 L616.25,59.65 L616.42,59.91 L616.60,60.00 L616.78,59.90 L616.97,59.64 L617.15,59.24 L617.33,58.74 L617.52,58.17 L617.71,57.57 L617.90,56.96 L618.09,56.40 L618.29,55.90 L618.50,55.50 L618.69,55.18 L618.86,54.90 L619.02,54.64 L619.18,54.41 L619.34,54.19 L619.54,54.00 L619.77,53.81 L620.05,53.64 L620.39,53.47 L620.80,53.30 L621.30,53.13 L621.89,52.98 L622.56,52.89 L623.32,53.02 L624.17,53.54 L625.04,54.29 L625.78,54.62 L626.40,54.12 L626.98,53.24 L627.59,52.59 L628.22,52.29 L628.86,52.22 L629.49,52.27 L630.10,52.38 L630.71,52.51 L631.30,52.68 L631.86,52.90 L632.38,53.21 L632.80,53.70 L633.06,54.39 L633.11,55.16 L633.07,55.81 L633.22,56.20 L633.71,56.33 L634.48,56.29 L635.32,56.24 L636.08,56.28 L636.70,56.44 L637.25,56.66 L637.80,56.91 L638.38,57.14 L639.01,57.34 L639.68,57.51 L640.38,57.67 L641.10,57.82 L641.81,58.01 L642.49,58.36 L643.07,59.04 L643.51,59.99 L643.93,60.79 L644.55,61.02 L645.38,60.64 L646.24,60.08 L647.02,59.74 L647.72,59.69 L648.35,59.83 L648.93,60.07 L649.49,60.36 L650.01,60.70 L650.50,61.10 L650.94,61.57 L651.31,62.13 L651.65,62.75 L651.93,63.43 L652.12,64.16 L652.08,64.99 L651.74,66.00 L651.43,67.13 L651.68,68.11 L652.60,68.64 L653.75,68.64 L654.73,68.41 L655.50,68.24 L656.16,68.23 L656.80,68.32 L657.42,68.46 L658.05,68.64 L658.68,68.88 L659.30,69.19 L659.90,69.60 L660.50,70.10 L661.12,70.66 L661.75,71.27 L662.36,71.95 L662.83,72.77 L662.89,73.94 L662.60,75.33 L662.87,76.22 L664.10,76.43 L665.36,76.66 L666.16,77.23 L666.66,78.00 L667.05,78.83 L667.42,79.68 L667.76,80.54 L668.07,81.42 L668.37,82.31 L668.59,83.23 L668.53,84.23 L667.91,85.37 L667.24,86.50 L667.60,87.32 L668.83,87.95 L669.80,88.67 L670.25,89.53 L670.46,90.45 L670.62,91.39 L670.76,92.34 L670.89,93.31 L670.99,94.30 L670.97,95.36 L670.37,96.52 L669.14,97.75 L669.20,98.91 L670.57,100.04 L671.26,101.17 L671.38,102.28 L671.38,103.30 L671.35,104.22 L671.30,105.00 L671.21,105.62 L671.07,106.08 L670.90,106.42 L670.70,106.67 L670.49,106.88 L670.29,107.08 L670.11,107.30 L669.95,107.59 L669.83,107.97 L669.75,108.50 L669.62,109.16 L669.26,109.96 L668.53,110.92 L667.90,111.94 L668.29,112.79 L669.51,113.49 L670.44,114.29 L670.81,115.20 L670.95,116.15 L671.00,117.10 L671.01,118.06 L670.99,119.04 L670.96,120.04 L670.91,121.06 L670.82,122.10 L670.54,123.12 L669.67,124.07 L668.36,124.91 L668.12,125.88 L669.05,127.08 L669.64,128.28 L669.59,129.39 L669.32,130.47 L669.00,131.54 L668.64,132.61 L668.10,133.59 L666.94,134.31 L665.48,134.82 L665.15,135.72 L665.74,137.02 L666.01,138.18 L665.78,139.08 L665.34,139.84 L664.86,140.55 L664.36,141.22 L663.84,141.87 L663.31,142.49 L662.76,143.10 L662.19,143.70 L661.60,144.30 L660.98,144.88 L660.25,145.37 L659.25,145.55 L657.97,145.36 L656.92,145.36 L656.57,146.16 L656.49,147.43 L656.15,148.43 L655.53,149.02 L654.80,149.39 L654.02,149.67 L653.19,149.85 L652.30,149.76 L651.35,149.15 L650.44,148.27 L649.67,148.11 L648.92,148.96 L648.07,149.86 L647.17,150.22 L646.30,150.18 L645.44,149.99 L644.57,149.69 L643.70,149.33 L642.83,148.90 L642.06,148.26 L641.58,147.11 L641.31,145.66 L640.58,145.03 L639.26,145.37 L638.02,145.65 L637.08,145.47 L636.29,145.07 L635.55,144.62 L634.83,144.16 L634.13,143.68 L633.45,143.18 L632.83,142.62 L632.37,141.89 L632.27,140.85 L632.51,139.64 L632.39,138.80 L631.33,138.55 L629.97,138.34 L629.07,137.76 L628.54,136.95 L628.12,136.10 L627.74,135.26 L627.41,134.45 L627.13,133.69 L626.90,133.00 L626.75,132.36 L626.68,131.73 L626.68,131.13 L626.73,130.56 L626.81,130.02 L626.89,129.51 L626.96,129.03 L627.00,128.58 L626.99,128.17 L626.90,127.80 L626.75,127.48 L626.57,127.20 L626.35,126.98 L626.10,126.78 L625.84,126.62 L625.55,126.48 L625.25,126.35 L624.94,126.24 L624.62,126.12 L624.30,126.00 L623.97,125.88 L623.62,125.77 L623.25,125.67 L622.87,125.57 L622.47,125.49 L622.08,125.43 L621.68,125.37 L621.28,125.33 L620.89,125.31 L620.50,125.30 L620.12,125.32 L619.74,125.37 L619.36,125.45 L618.98,125.55 L618.61,125.65 L618.23,125.75 L617.85,125.85 L617.47,125.93 L617.08,125.98 L616.70,126.00 L616.31,125.98 L615.90,125.93 L615.49,125.85 L615.08,125.75 L614.67,125.65 L614.26,125.55 L613.87,125.45 L613.49,125.37 L613.13,125.32 L612.80,125.30 L612.49,125.31 L612.21,125.34 L611.95,125.38 L611.70,125.44 L611.47,125.51 L611.24,125.60 L611.01,125.69 L610.78,125.79 L610.55,125.89 L610.30,126.00 L610.03,126.11 L609.74,126.21 L609.45,126.31 L609.14,126.41 L608.84,126.53 L608.56,126.67 L608.29,126.83 L608.06,127.01 L607.86,127.24 L607.70,127.50 L607.61,127.81 L607.59,128.15 L607.63,128.53 L607.70,128.94 L607.78,129.38 L607.85,129.83 L607.90,130.29 L607.90,130.76 L607.84,131.23 L607.70,131.70 L607.49,132.18 L607.22,132.68 L606.92,133.20 L606.58,133.74 L606.20,134.27 L605.79,134.81 L605.35,135.34 L604.89,135.85 L604.40,136.34 L603.90,136.80 L603.35,137.22 L602.74,137.59 L602.08,137.93 L601.37,138.22 L600.60,138.40 L599.68,138.30 L598.55,137.93 L597.37,137.75 L596.56,138.33 L596.32,139.55 L596.43,140.80 L596.47,141.79 L596.31,142.62 L596.05,143.42 L595.77,144.23 L595.50,145.03 L595.20,145.80 L594.86,146.52 L594.47,147.16 L594.00,147.70 L593.46,148.15 L592.88,148.54 L592.25,148.87 L591.56,149.09 L590.78,149.04 L589.91,148.59 L589.04,147.90 L588.30,147.62 L587.69,148.19 L587.09,149.18 L586.39,149.92 L585.58,150.25 L584.72,150.33 L583.84,150.32 L582.95,150.27 L582.06,150.19 L581.18,150.06 L580.32,149.89 L579.49,149.67 L578.71,149.39 L577.99,148.97 L577.43,148.26 L577.18,147.10 L577.05,145.91 L576.42,145.47 L575.20,145.68 L574.00,145.76 L573.14,145.43 L572.48,144.89 L571.90,144.30 L571.36,143.69 L570.85,143.05 L570.37,142.38 L569.92,141.70 L569.55,140.97 L569.39,140.12 L569.64,139.07 L570.09,137.95 L570.08,137.10 L569.28,136.67 L568.16,136.40 L567.28,136.00 L566.75,135.43 L566.41,134.77 L566.14,134.10 L565.90,133.42 L565.68,132.74 L565.47,132.06 L565.28,131.38 L565.10,130.70 L564.95,130.02 L564.82,129.34 L564.74,128.66 L564.74,127.96 L564.97,127.26 L565.51,126.52 L566.25,125.77 L566.71,125.03 L566.47,124.34 L565.66,123.72 L564.81,123.12 L564.24,122.49 L563.95,121.83 L563.79,121.14 L563.69,120.45 L563.66,119.76 L563.80,119.06 L564.25,118.36 L564.98,117.71 L565.64,117.16 L565.79,116.64 L565.34,116.03 L564.65,115.31 L564.17,114.56 L564.00,113.86 L564.04,113.21 L564.15,112.60 L564.29,112.03 L564.44,111.50 L564.63,111.03 L564.87,110.65 L565.15,110.40 L565.45,110.23 L565.76,110.10 L566.10,109.93 L566.47,109.67 L566.88,109.32 L567.26,108.86 L567.50,108.30 L567.31,107.63 L566.55,106.90 L565.60,106.14 L565.02,105.29 L564.78,104.34 L564.64,103.34 L564.57,102.30 L564.87,101.23 L565.82,100.14 L566.60,99.19 L566.19,98.39 L565.21,97.58 L564.56,96.72 L564.37,95.87 L564.40,95.05 L564.49,94.24 L564.60,93.46 L564.71,92.69 L564.84,91.94 L564.97,91.21 L565.10,90.50 L565.24,89.82 L565.38,89.17 L565.57,88.54 L565.86,87.97 L566.34,87.47 L567.07,87.07 L567.92,86.74 L568.59,86.37 L568.79,85.85 L568.52,85.16 L568.08,84.40 L567.77,83.69 L567.69,83.06 L567.78,82.52 L567.97,82.01 L568.20,81.52 L568.48,81.04 L568.81,80.56 L569.28,80.11 L570.00,79.74 L571.03,79.44 L572.02,79.04 L572.29,78.27 L571.82,77.16 L571.40,76.05 L571.40,75.14 L571.67,74.39 L572.01,73.71 L572.36,73.11 L572.70,72.60 L573.04,72.19 L573.37,71.88 L573.69,71.64 L574.02,71.46 L574.34,71.30 L574.68,71.15 L575.01,70.97 L575.36,70.76 L575.72,70.47 L576.11,70.11 L576.52,69.65 L577.03,69.17 L577.80,68.77 L578.92,68.54 L580.05,68.30 L580.48,67.66 L580.23,66.59 L579.98,65.52 L580.08,64.71 L580.43,64.14 L580.87,63.72 L581.32,63.38 L581.76,63.10 L582.22,62.85 L582.69,62.64 L583.18,62.44 L583.69,62.25 L584.25,62.05 L584.85,61.84 L585.50,61.60 L586.22,61.35 L587.02,61.10 L587.88,60.85 L588.78,60.61 L589.69,60.36 L590.62,60.10 L591.53,59.84 L592.41,59.57 L593.24,59.29 L594.00,59.00 L594.71,58.69 L595.39,58.37 L596.05,58.03 L596.68,57.68 L597.28,57.33 L597.86,56.98 L598.43,56.62 L598.97,56.27 L599.49,55.93Z" fill="none" stroke="#333" stroke-width="2.4"/>
</g>
<defs><linearGradient id="bsq" x1="0.55" y1="0" x2="0.35" y2="1"><stop offset="0" stop-color="#8a3592"/><stop offset="0.3" stop-color="#6a3ea6"/><stop offset="0.6" stop-color="#4a4aa8"/><stop offset="1" stop-color="#383a70"/></linearGradient><radialGradient id="org" cx="0.5" cy="0.5" r="0.5"><stop offset="0" stop-color="#f8e43c"/><stop offset="0.4" stop-color="#f4a024"/><stop offset="0.8" stop-color="#e34a1e"/><stop offset="1" stop-color="#d8221f"/></radialGradient><filter id="bl3" x="-20%" y="-20%" width="140%" height="140%"><feGaussianBlur stdDeviation="0.7"/></filter></defs>
<defs><clipPath id="sqc"><path d="M581.7,76.4 L600.6,60.5 L610,75.2 L607.3,85.5 L592.6,90.8 L587.8,89.8Z"/></clipPath></defs>
<g clip-path="url(#sqc)" opacity="0.9"><path d="M581.7,76.4 L600.6,60.5 L610,75.2 L607.3,85.5 L592.6,90.8 L587.8,89.8Z" fill="#4a4ca2"/><ellipse cx="597.5" cy="68.5" rx="9" ry="8.5" fill="#6e3596" filter="url(#bl2)"/><path d="M581.7,76.4 L600.6,60.5 L610,75.2 L607.3,85.5 L592.6,90.8 L587.8,89.8Z" fill="none" stroke="#30325e" stroke-width="5.5" filter="url(#bl3)"/></g>
<defs><linearGradient id="obnd" x1="0" y1="1" x2="1" y2="0"><stop offset="0" stop-color="#e8521e"/><stop offset="0.3" stop-color="#f5a52a"/><stop offset="0.5" stop-color="#ee6a22"/><stop offset="0.8" stop-color="#e0281e"/><stop offset="1" stop-color="#d81f1f"/></linearGradient></defs>
<g filter="url(#bl3)"><path d="M590,58.5 Q595,56.5 599,56 L600.5,58.7 Q596,60 592,62Z" fill="#141414"/><path d="M581.2,74.0 C581.5,72.5 583.8,70.0 585.3,68.5 C586.8,67.0 588.8,66.3 590.2,65.2 C591.6,64.1 592.7,62.9 593.9,62.0 C595.1,61.1 596.4,60.2 597.5,59.6 C598.6,59.0 600.1,58.1 600.8,58.3 C601.4,58.5 601.6,59.9 601.4,60.8 C601.1,61.7 600.3,62.7 599.3,63.6 C598.2,64.5 596.4,65.2 595.1,66.2 C593.8,67.2 592.7,68.1 591.4,69.3 C590.1,70.5 588.4,72.1 587.1,73.5 C585.8,74.9 584.5,77.4 583.5,77.5 C582.5,77.6 580.9,75.5 581.2,74.0Z" fill="url(#obnd)"/><ellipse cx="591.7" cy="67.5" rx="1" ry="0.9" fill="#f4f0ea"/><ellipse cx="614.8" cy="61" rx="1.3" ry="2.8" fill="#e02020"/><ellipse cx="637.8" cy="73" rx="1.4" ry="1.5" fill="#e02020"/></g><defs><clipPath id="sc"><path d="M566.34,206.84 L566.46,205.97 L566.70,205.07 L566.99,204.13 L567.34,203.17 L567.90,202.26 L568.96,201.52 L570.36,200.93 L571.09,200.13 L570.72,198.95 L570.14,197.71 L569.98,196.64 L570.18,195.73 L570.53,194.89 L570.91,194.09 L571.31,193.30 L571.71,192.53 L572.12,191.77 L572.52,191.03 L572.91,190.31 L573.30,189.60 L573.70,188.93 L574.15,188.31 L574.74,187.80 L575.56,187.44 L576.56,187.22 L577.46,187.00 L577.94,186.58 L577.93,185.82 L577.69,184.83 L577.58,183.82 L577.78,182.96 L578.22,182.26 L578.80,181.67 L579.51,181.18 L580.40,180.91 L581.55,180.97 L582.77,181.17 L583.63,180.95 L583.96,180.06 L584.08,178.87 L584.34,177.84 L584.85,177.11 L585.51,176.58 L586.22,176.15 L586.95,175.75 L587.67,175.37 L588.39,175.00 L589.09,174.65 L589.76,174.33 L590.43,174.05 L591.09,173.89 L591.80,173.90 L592.54,174.12 L593.31,174.49 L594.04,174.82 L594.66,174.94 L595.15,174.69 L595.53,174.08 L595.85,173.27 L596.20,172.46 L596.63,171.80 L597.17,171.33 L597.77,170.99 L598.40,170.71 L599.05,170.46 L599.69,170.21 L600.33,169.98 L600.95,169.77 L601.55,169.60 L602.13,169.51 L602.69,169.53 L603.24,169.70 L603.77,170.03 L604.28,170.47 L604.78,170.92 L605.28,171.28 L605.79,171.42 L606.30,171.29 L606.79,170.89 L607.24,170.29 L607.64,169.62 L607.97,169.02 L608.30,168.52 L608.65,168.14 L609.04,167.84 L609.46,167.60 L609.90,167.40 L610.37,167.23 L610.87,167.10 L611.40,167.00 L611.97,166.93 L612.60,166.89 L613.26,166.87 L613.94,166.88 L614.63,166.94 L615.31,167.14 L615.95,167.55 L616.54,168.17 L617.07,168.84 L617.54,169.36 L617.92,169.61 L618.24,169.62 L618.54,169.47 L618.83,169.24 L619.14,168.98 L619.46,168.72 L619.80,168.48 L620.15,168.27 L620.53,168.10 L620.92,167.97 L621.31,167.89 L621.70,167.86 L622.09,167.86 L622.48,167.90 L622.86,167.95 L623.24,168.03 L623.62,168.13 L623.99,168.26 L624.35,168.42 L624.69,168.62 L625.00,168.87 L625.27,169.19 L625.49,169.57 L625.62,170.04 L625.65,170.60 L625.60,171.24 L625.52,171.92 L625.51,172.59 L625.66,173.17 L626.00,173.55 L626.45,173.71 L627.02,173.72 L627.67,173.69 L628.32,173.66 L628.91,173.70 L629.42,173.79 L629.87,173.94 L630.26,174.13 L630.63,174.33 L630.99,174.52 L631.34,174.69 L631.69,174.87 L632.03,175.03 L632.38,175.20 L632.73,175.37 L633.08,175.56 L633.45,175.80 L633.84,176.11 L634.27,176.52 L634.79,177.03 L635.48,177.54 L636.26,177.88 L636.96,177.90 L637.52,177.51 L637.94,176.80 L638.32,176.02 L638.75,175.39 L639.24,175.01 L639.77,174.84 L640.29,174.84 L640.80,174.97 L641.30,175.20 L641.80,175.49 L642.28,175.83 L642.76,176.20 L643.22,176.58 L643.68,176.96 L644.12,177.32 L644.55,177.66 L644.96,177.98 L645.33,178.29 L645.66,178.63 L645.97,179.01 L646.25,179.45 L646.49,179.94 L646.68,180.45 L646.83,180.92 L646.95,181.31 L647.13,181.53 L647.47,181.55 L648.04,181.41 L648.79,181.22 L649.60,181.12 L650.33,181.20 L650.95,181.46 L651.49,181.82 L652.00,182.22 L652.49,182.64 L652.99,183.03 L653.50,183.40 L654.02,183.74 L654.56,184.06 L655.12,184.36 L655.69,184.66 L656.26,184.95 L656.82,185.25 L657.38,185.56 L657.90,185.92 L658.34,186.39 L658.65,187.01 L658.79,187.81 L658.82,188.68 L658.90,189.46 L659.20,189.96 L659.80,190.14 L660.63,190.09 L661.52,190.00 L662.32,190.02 L662.98,190.19 L663.55,190.46 L664.05,190.81 L664.53,191.17 L665.00,191.55 L665.47,191.92 L665.94,192.30 L666.42,192.68 L666.89,193.07 L667.36,193.47 L667.83,193.88 L668.30,194.30 L668.77,194.73 L669.24,195.17 L669.70,195.62 L670.13,196.10 L670.50,196.66 L670.72,197.37 L670.76,198.26 L670.66,199.25 L670.67,200.13 L671.08,200.66 L671.97,200.83 L673.09,200.86 L674.09,201.04 L674.85,201.46 L675.43,202.02 L675.93,202.65 L676.41,203.29 L676.86,203.94 L677.29,204.57 L677.70,205.20 L678.09,205.84 L678.46,206.50 L678.83,207.17 L679.17,207.86 L679.48,208.54 L679.69,209.24 L679.72,209.98 L679.53,210.76 L679.19,211.52 L678.87,212.20 L678.71,212.74 L678.72,213.12 L678.80,213.33 L678.91,213.40 L679.03,213.34 L679.16,213.24 L679.35,213.18 L679.58,213.25 L679.86,213.47 L680.18,213.76 L680.46,214.12 L680.62,214.56 L680.63,215.05 L680.52,215.54 L680.34,216.02 L680.13,216.50 L679.93,216.99 L679.75,217.50 L679.61,218.04 L679.49,218.60 L679.38,219.24 L679.15,220.01 L678.73,220.95 L678.26,221.97 L678.13,222.83 L678.65,223.39 L679.59,223.77 L680.46,224.20 L681.00,224.76 L681.19,225.39 L681.15,226.05 L681.00,226.72 L680.76,227.39 L680.48,228.06 L680.14,228.72 L679.76,229.35 L679.34,229.94 L678.89,230.49 L678.40,230.98 L677.90,231.40 L677.36,231.74 L676.76,231.98 L676.10,232.11 L675.39,232.04 L674.63,231.66 L673.81,231.00 L672.98,230.37 L672.16,230.28 L671.41,230.92 L670.76,231.92 L670.11,232.78 L669.38,233.29 L668.56,233.56 L667.71,233.74 L666.85,233.90 L665.97,234.05 L665.09,234.16 L664.16,234.07 L663.13,233.62 L662.03,232.89 L660.97,232.53 L660.15,233.09 L659.53,234.28 L658.88,235.33 L658.12,235.95 L657.29,236.32 L656.43,236.55 L655.54,236.63 L654.60,236.39 L653.60,235.80 L652.62,235.23 L651.79,235.22 L651.18,235.90 L650.68,236.89 L650.14,237.72 L649.54,238.24 L648.89,238.53 L648.25,238.68 L647.61,238.76 L647.00,238.80 L646.39,238.76 L645.77,238.63 L645.15,238.45 L644.54,238.23 L643.97,237.99 L643.44,237.77 L642.96,237.59 L642.55,237.47 L642.23,237.43 L642.00,237.50 L641.87,237.69 L641.82,237.97 L641.85,238.33 L641.94,238.74 L642.10,239.20 L642.31,239.68 L642.56,240.17 L642.85,240.65 L643.16,241.10 L643.50,241.50 L643.92,241.86 L644.47,242.19 L645.11,242.51 L645.80,242.82 L646.51,243.12 L647.19,243.44 L647.80,243.78 L648.32,244.15 L648.70,244.55 L648.90,245.00 L648.93,245.51 L648.84,246.08 L648.63,246.70 L648.34,247.35 L647.96,248.01 L647.53,248.67 L647.05,249.32 L646.54,249.93 L646.02,250.50 L645.50,251.00 L644.96,251.45 L644.37,251.87 L643.73,252.25 L643.05,252.62 L642.35,252.95 L641.63,253.26 L640.89,253.55 L640.15,253.82 L639.42,254.07 L638.70,254.30 L637.98,254.53 L637.23,254.76 L636.47,254.99 L635.70,255.20 L634.93,255.38 L634.17,255.52 L633.41,255.62 L632.68,255.65 L631.97,255.62 L631.30,255.50 L630.66,255.30 L630.03,255.01 L629.43,254.65 L628.84,254.23 L628.27,253.77 L627.71,253.27 L627.17,252.74 L626.64,252.19 L626.11,251.64 L625.60,251.10 L625.12,250.54 L624.68,249.92 L624.27,249.27 L623.88,248.60 L623.49,247.92 L623.09,247.24 L622.67,246.57 L622.20,245.94 L621.69,245.34 L621.10,244.80 L620.41,244.29 L619.61,243.77 L618.74,243.26 L617.82,242.78 L616.89,242.33 L615.97,241.91 L615.10,241.55 L614.31,241.26 L613.64,241.04 L613.10,240.90 L612.71,240.86 L612.42,240.91 L612.23,241.04 L612.11,241.24 L612.05,241.49 L612.03,241.77 L612.03,242.08 L612.04,242.39 L612.03,242.71 L612.00,243.00 L611.98,243.30 L612.00,243.62 L612.06,243.97 L612.14,244.33 L612.21,244.70 L612.27,245.08 L612.30,245.45 L612.27,245.82 L612.18,246.17 L612.00,246.50 L611.71,246.81 L611.30,247.10 L610.80,247.38 L610.26,247.66 L609.68,247.92 L609.11,248.20 L608.58,248.48 L608.11,248.77 L607.74,249.07 L607.50,249.40 L607.40,249.74 L607.42,250.09 L607.53,250.44 L607.70,250.80 L607.91,251.18 L608.14,251.56 L608.34,251.97 L608.51,252.39 L608.60,252.83 L608.60,253.30 L608.52,253.80 L608.39,254.35 L608.23,254.92 L608.03,255.52 L607.80,256.13 L607.54,256.74 L607.26,257.34 L606.96,257.93 L606.63,258.48 L606.30,259.00 L605.95,259.50 L605.58,259.99 L605.18,260.48 L604.77,260.95 L604.33,261.41 L603.87,261.84 L603.39,262.24 L602.88,262.60 L602.35,262.92 L601.80,263.20 L601.21,263.42 L600.58,263.60 L599.91,263.72 L599.21,263.82 L598.50,263.88 L597.78,263.92 L597.06,263.95 L596.35,263.96 L595.66,263.98 L595.00,264.00 L594.37,264.03 L593.77,264.07 L593.19,264.11 L592.62,264.15 L592.06,264.16 L591.48,264.15 L590.88,264.11 L590.26,264.03 L589.60,263.89 L588.90,263.70 L588.14,263.46 L587.31,263.18 L586.44,262.86 L585.55,262.51 L584.64,262.11 L583.73,261.68 L582.83,261.20 L581.97,260.68 L581.16,260.11 L580.40,259.50 L579.69,258.82 L579.00,258.08 L578.33,257.27 L577.69,256.41 L577.08,255.52 L576.50,254.61 L575.95,253.69 L575.43,252.78 L574.94,251.87 L574.50,251.00 L574.10,250.13 L573.74,249.24 L573.42,248.34 L573.14,247.44 L572.88,246.54 L572.65,245.65 L572.44,244.78 L572.25,243.95 L572.07,243.15 L571.90,242.40 L571.76,241.70 L571.68,241.05 L571.64,240.43 L571.62,239.85 L571.61,239.29 L571.59,238.74 L571.54,238.19 L571.46,237.64 L571.31,237.08 L571.10,236.50 L570.80,235.92 L570.42,235.35 L569.99,234.79 L569.51,234.23 L569.01,233.66 L568.50,233.08 L568.01,232.49 L567.55,231.86 L567.14,231.20 L566.80,230.50 L566.52,229.75 L566.29,228.95 L566.16,228.11 L566.29,227.19 L566.88,226.19 L567.69,225.18 L567.98,224.28 L567.32,223.49 L566.27,222.74 L565.49,221.96 L565.12,221.13 L564.99,220.27 L564.94,219.39 L564.92,218.51 L564.93,217.64 L564.94,216.77 L564.97,215.92 L565.01,215.09 L565.08,214.28 L565.23,213.51 L565.56,212.80 L566.14,212.18 L566.89,211.63 L567.60,211.12 L568.01,210.61 L567.95,210.03 L567.49,209.33 L566.89,208.53 L566.46,207.69Z"/></clipPath></defs>
<g clip-path="url(#sc)">
<path d="M566.34,206.84 L566.46,205.97 L566.70,205.07 L566.99,204.13 L567.34,203.17 L567.90,202.26 L568.96,201.52 L570.36,200.93 L571.09,200.13 L570.72,198.95 L570.14,197.71 L569.98,196.64 L570.18,195.73 L570.53,194.89 L570.91,194.09 L571.31,193.30 L571.71,192.53 L572.12,191.77 L572.52,191.03 L572.91,190.31 L573.30,189.60 L573.70,188.93 L574.15,188.31 L574.74,187.80 L575.56,187.44 L576.56,187.22 L577.46,187.00 L577.94,186.58 L577.93,185.82 L577.69,184.83 L577.58,183.82 L577.78,182.96 L578.22,182.26 L578.80,181.67 L579.51,181.18 L580.40,180.91 L581.55,180.97 L582.77,181.17 L583.63,180.95 L583.96,180.06 L584.08,178.87 L584.34,177.84 L584.85,177.11 L585.51,176.58 L586.22,176.15 L586.95,175.75 L587.67,175.37 L588.39,175.00 L589.09,174.65 L589.76,174.33 L590.43,174.05 L591.09,173.89 L591.80,173.90 L592.54,174.12 L593.31,174.49 L594.04,174.82 L594.66,174.94 L595.15,174.69 L595.53,174.08 L595.85,173.27 L596.20,172.46 L596.63,171.80 L597.17,171.33 L597.77,170.99 L598.40,170.71 L599.05,170.46 L599.69,170.21 L600.33,169.98 L600.95,169.77 L601.55,169.60 L602.13,169.51 L602.69,169.53 L603.24,169.70 L603.77,170.03 L604.28,170.47 L604.78,170.92 L605.28,171.28 L605.79,171.42 L606.30,171.29 L606.79,170.89 L607.24,170.29 L607.64,169.62 L607.97,169.02 L608.30,168.52 L608.65,168.14 L609.04,167.84 L609.46,167.60 L609.90,167.40 L610.37,167.23 L610.87,167.10 L611.40,167.00 L611.97,166.93 L612.60,166.89 L613.26,166.87 L613.94,166.88 L614.63,166.94 L615.31,167.14 L615.95,167.55 L616.54,168.17 L617.07,168.84 L617.54,169.36 L617.92,169.61 L618.24,169.62 L618.54,169.47 L618.83,169.24 L619.14,168.98 L619.46,168.72 L619.80,168.48 L620.15,168.27 L620.53,168.10 L620.92,167.97 L621.31,167.89 L621.70,167.86 L622.09,167.86 L622.48,167.90 L622.86,167.95 L623.24,168.03 L623.62,168.13 L623.99,168.26 L624.35,168.42 L624.69,168.62 L625.00,168.87 L625.27,169.19 L625.49,169.57 L625.62,170.04 L625.65,170.60 L625.60,171.24 L625.52,171.92 L625.51,172.59 L625.66,173.17 L626.00,173.55 L626.45,173.71 L627.02,173.72 L627.67,173.69 L628.32,173.66 L628.91,173.70 L629.42,173.79 L629.87,173.94 L630.26,174.13 L630.63,174.33 L630.99,174.52 L631.34,174.69 L631.69,174.87 L632.03,175.03 L632.38,175.20 L632.73,175.37 L633.08,175.56 L633.45,175.80 L633.84,176.11 L634.27,176.52 L634.79,177.03 L635.48,177.54 L636.26,177.88 L636.96,177.90 L637.52,177.51 L637.94,176.80 L638.32,176.02 L638.75,175.39 L639.24,175.01 L639.77,174.84 L640.29,174.84 L640.80,174.97 L641.30,175.20 L641.80,175.49 L642.28,175.83 L642.76,176.20 L643.22,176.58 L643.68,176.96 L644.12,177.32 L644.55,177.66 L644.96,177.98 L645.33,178.29 L645.66,178.63 L645.97,179.01 L646.25,179.45 L646.49,179.94 L646.68,180.45 L646.83,180.92 L646.95,181.31 L647.13,181.53 L647.47,181.55 L648.04,181.41 L648.79,181.22 L649.60,181.12 L650.33,181.20 L650.95,181.46 L651.49,181.82 L652.00,182.22 L652.49,182.64 L652.99,183.03 L653.50,183.40 L654.02,183.74 L654.56,184.06 L655.12,184.36 L655.69,184.66 L656.26,184.95 L656.82,185.25 L657.38,185.56 L657.90,185.92 L658.34,186.39 L658.65,187.01 L658.79,187.81 L658.82,188.68 L658.90,189.46 L659.20,189.96 L659.80,190.14 L660.63,190.09 L661.52,190.00 L662.32,190.02 L662.98,190.19 L663.55,190.46 L664.05,190.81 L664.53,191.17 L665.00,191.55 L665.47,191.92 L665.94,192.30 L666.42,192.68 L666.89,193.07 L667.36,193.47 L667.83,193.88 L668.30,194.30 L668.77,194.73 L669.24,195.17 L669.70,195.62 L670.13,196.10 L670.50,196.66 L670.72,197.37 L670.76,198.26 L670.66,199.25 L670.67,200.13 L671.08,200.66 L671.97,200.83 L673.09,200.86 L674.09,201.04 L674.85,201.46 L675.43,202.02 L675.93,202.65 L676.41,203.29 L676.86,203.94 L677.29,204.57 L677.70,205.20 L678.09,205.84 L678.46,206.50 L678.83,207.17 L679.17,207.86 L679.48,208.54 L679.69,209.24 L679.72,209.98 L679.53,210.76 L679.19,211.52 L678.87,212.20 L678.71,212.74 L678.72,213.12 L678.80,213.33 L678.91,213.40 L679.03,213.34 L679.16,213.24 L679.35,213.18 L679.58,213.25 L679.86,213.47 L680.18,213.76 L680.46,214.12 L680.62,214.56 L680.63,215.05 L680.52,215.54 L680.34,216.02 L680.13,216.50 L679.93,216.99 L679.75,217.50 L679.61,218.04 L679.49,218.60 L679.38,219.24 L679.15,220.01 L678.73,220.95 L678.26,221.97 L678.13,222.83 L678.65,223.39 L679.59,223.77 L680.46,224.20 L681.00,224.76 L681.19,225.39 L681.15,226.05 L681.00,226.72 L680.76,227.39 L680.48,228.06 L680.14,228.72 L679.76,229.35 L679.34,229.94 L678.89,230.49 L678.40,230.98 L677.90,231.40 L677.36,231.74 L676.76,231.98 L676.10,232.11 L675.39,232.04 L674.63,231.66 L673.81,231.00 L672.98,230.37 L672.16,230.28 L671.41,230.92 L670.76,231.92 L670.11,232.78 L669.38,233.29 L668.56,233.56 L667.71,233.74 L666.85,233.90 L665.97,234.05 L665.09,234.16 L664.16,234.07 L663.13,233.62 L662.03,232.89 L660.97,232.53 L660.15,233.09 L659.53,234.28 L658.88,235.33 L658.12,235.95 L657.29,236.32 L656.43,236.55 L655.54,236.63 L654.60,236.39 L653.60,235.80 L652.62,235.23 L651.79,235.22 L651.18,235.90 L650.68,236.89 L650.14,237.72 L649.54,238.24 L648.89,238.53 L648.25,238.68 L647.61,238.76 L647.00,238.80 L646.39,238.76 L645.77,238.63 L645.15,238.45 L644.54,238.23 L643.97,237.99 L643.44,237.77 L642.96,237.59 L642.55,237.47 L642.23,237.43 L642.00,237.50 L641.87,237.69 L641.82,237.97 L641.85,238.33 L641.94,238.74 L642.10,239.20 L642.31,239.68 L642.56,240.17 L642.85,240.65 L643.16,241.10 L643.50,241.50 L643.92,241.86 L644.47,242.19 L645.11,242.51 L645.80,242.82 L646.51,243.12 L647.19,243.44 L647.80,243.78 L648.32,244.15 L648.70,244.55 L648.90,245.00 L648.93,245.51 L648.84,246.08 L648.63,246.70 L648.34,247.35 L647.96,248.01 L647.53,248.67 L647.05,249.32 L646.54,249.93 L646.02,250.50 L645.50,251.00 L644.96,251.45 L644.37,251.87 L643.73,252.25 L643.05,252.62 L642.35,252.95 L641.63,253.26 L640.89,253.55 L640.15,253.82 L639.42,254.07 L638.70,254.30 L637.98,254.53 L637.23,254.76 L636.47,254.99 L635.70,255.20 L634.93,255.38 L634.17,255.52 L633.41,255.62 L632.68,255.65 L631.97,255.62 L631.30,255.50 L630.66,255.30 L630.03,255.01 L629.43,254.65 L628.84,254.23 L628.27,253.77 L627.71,253.27 L627.17,252.74 L626.64,252.19 L626.11,251.64 L625.60,251.10 L625.12,250.54 L624.68,249.92 L624.27,249.27 L623.88,248.60 L623.49,247.92 L623.09,247.24 L622.67,246.57 L622.20,245.94 L621.69,245.34 L621.10,244.80 L620.41,244.29 L619.61,243.77 L618.74,243.26 L617.82,242.78 L616.89,242.33 L615.97,241.91 L615.10,241.55 L614.31,241.26 L613.64,241.04 L613.10,240.90 L612.71,240.86 L612.42,240.91 L612.23,241.04 L612.11,241.24 L612.05,241.49 L612.03,241.77 L612.03,242.08 L612.04,242.39 L612.03,242.71 L612.00,243.00 L611.98,243.30 L612.00,243.62 L612.06,243.97 L612.14,244.33 L612.21,244.70 L612.27,245.08 L612.30,245.45 L612.27,245.82 L612.18,246.17 L612.00,246.50 L611.71,246.81 L611.30,247.10 L610.80,247.38 L610.26,247.66 L609.68,247.92 L609.11,248.20 L608.58,248.48 L608.11,248.77 L607.74,249.07 L607.50,249.40 L607.40,249.74 L607.42,250.09 L607.53,250.44 L607.70,250.80 L607.91,251.18 L608.14,251.56 L608.34,251.97 L608.51,252.39 L608.60,252.83 L608.60,253.30 L608.52,253.80 L608.39,254.35 L608.23,254.92 L608.03,255.52 L607.80,256.13 L607.54,256.74 L607.26,257.34 L606.96,257.93 L606.63,258.48 L606.30,259.00 L605.95,259.50 L605.58,259.99 L605.18,260.48 L604.77,260.95 L604.33,261.41 L603.87,261.84 L603.39,262.24 L602.88,262.60 L602.35,262.92 L601.80,263.20 L601.21,263.42 L600.58,263.60 L599.91,263.72 L599.21,263.82 L598.50,263.88 L597.78,263.92 L597.06,263.95 L596.35,263.96 L595.66,263.98 L595.00,264.00 L594.37,264.03 L593.77,264.07 L593.19,264.11 L592.62,264.15 L592.06,264.16 L591.48,264.15 L590.88,264.11 L590.26,264.03 L589.60,263.89 L588.90,263.70 L588.14,263.46 L587.31,263.18 L586.44,262.86 L585.55,262.51 L584.64,262.11 L583.73,261.68 L582.83,261.20 L581.97,260.68 L581.16,260.11 L580.40,259.50 L579.69,258.82 L579.00,258.08 L578.33,257.27 L577.69,256.41 L577.08,255.52 L576.50,254.61 L575.95,253.69 L575.43,252.78 L574.94,251.87 L574.50,251.00 L574.10,250.13 L573.74,249.24 L573.42,248.34 L573.14,247.44 L572.88,246.54 L572.65,245.65 L572.44,244.78 L572.25,243.95 L572.07,243.15 L571.90,242.40 L571.76,241.70 L571.68,241.05 L571.64,240.43 L571.62,239.85 L571.61,239.29 L571.59,238.74 L571.54,238.19 L571.46,237.64 L571.31,237.08 L571.10,236.50 L570.80,235.92 L570.42,235.35 L569.99,234.79 L569.51,234.23 L569.01,233.66 L568.50,233.08 L568.01,232.49 L567.55,231.86 L567.14,231.20 L566.80,230.50 L566.52,229.75 L566.29,228.95 L566.16,228.11 L566.29,227.19 L566.88,226.19 L567.69,225.18 L567.98,224.28 L567.32,223.49 L566.27,222.74 L565.49,221.96 L565.12,221.13 L564.99,220.27 L564.94,219.39 L564.92,218.51 L564.93,217.64 L564.94,216.77 L564.97,215.92 L565.01,215.09 L565.08,214.28 L565.23,213.51 L565.56,212.80 L566.14,212.18 L566.89,211.63 L567.60,211.12 L568.01,210.61 L567.95,210.03 L567.49,209.33 L566.89,208.53 L566.46,207.69Z" fill="#ededed"/>
<path d="M568.0,238.0 C570.3,233.0 575.3,235.9 580.0,236.0 C584.7,236.1 591.7,237.8 596.0,238.5 C600.3,239.2 603.2,239.6 606.0,240.0 C608.8,240.4 612.0,237.3 613.0,241.0 C614.0,244.7 619.8,257.8 612.0,262.0 C604.2,266.2 573.3,270.0 566.0,266.0 C558.7,262.0 565.7,243.0 568.0,238.0Z" fill="#9c9c9c"/>
<path d="M606.0,226.0 C609.7,224.7 616.3,226.8 622.0,228.0 C627.7,229.2 635.3,231.0 640.0,233.0 C644.7,235.0 649.0,236.2 650.0,240.0 C651.0,243.8 650.0,253.0 646.0,256.0 C642.0,259.0 631.7,260.0 626.0,258.0 C620.3,256.0 616.3,247.7 612.0,244.0 C607.7,240.3 601.0,239.0 600.0,236.0 C599.0,233.0 602.3,227.3 606.0,226.0Z" fill="#a4a4a4" filter="url(#bl2)"/>
<ellipse cx="629.5" cy="219" rx="10.5" ry="7.5" fill="#b2b2b2" filter="url(#bl2)"/>
<g filter="url(#bl1)">
<path d="M566.34,206.84 L566.46,205.97 L566.70,205.07 L566.99,204.13 L567.34,203.17 L567.90,202.26 L568.96,201.52 L570.36,200.93 L571.09,200.13 L570.72,198.95 L570.14,197.71 L569.98,196.64 L570.18,195.73 L570.53,194.89 L570.91,194.09 L571.31,193.30 L571.71,192.53 L572.12,191.77 L572.52,191.03 L572.91,190.31 L573.30,189.60 L573.70,188.93 L574.15,188.31 L574.74,187.80 L575.56,187.44 L576.56,187.22 L577.46,187.00 L577.94,186.58 L577.93,185.82 L577.69,184.83 L577.58,183.82 L577.78,182.96 L578.22,182.26 L578.80,181.67 L579.51,181.18 L580.40,180.91 L581.55,180.97 L582.77,181.17 L583.63,180.95 L583.96,180.06 L584.08,178.87 L584.34,177.84 L584.85,177.11 L585.51,176.58 L586.22,176.15 L586.95,175.75 L587.67,175.37 L588.39,175.00 L589.09,174.65 L589.76,174.33 L590.43,174.05 L591.09,173.89 L591.80,173.90 L592.54,174.12 L593.31,174.49 L594.04,174.82 L594.66,174.94 L595.15,174.69 L595.53,174.08 L595.85,173.27 L596.20,172.46 L596.63,171.80 L597.17,171.33 L597.77,170.99 L598.40,170.71 L599.05,170.46 L599.69,170.21 L600.33,169.98 L600.95,169.77 L601.55,169.60 L602.13,169.51 L602.69,169.53 L603.24,169.70 L603.77,170.03 L604.28,170.47 L604.78,170.92 L605.28,171.28 L605.79,171.42 L606.30,171.29 L606.79,170.89 L607.24,170.29 L607.64,169.62 L607.97,169.02 L608.30,168.52 L608.65,168.14 L609.04,167.84 L609.46,167.60 L609.90,167.40 L610.37,167.23 L610.87,167.10 L611.40,167.00 L611.97,166.93 L612.60,166.89 L613.26,166.87 L613.94,166.88 L614.63,166.94 L615.31,167.14 L615.95,167.55 L616.54,168.17 L617.07,168.84 L617.54,169.36 L617.92,169.61 L618.24,169.62 L618.54,169.47 L618.83,169.24 L619.14,168.98 L619.46,168.72 L619.80,168.48 L620.15,168.27 L620.53,168.10 L620.92,167.97 L621.31,167.89 L621.70,167.86 L622.09,167.86 L622.48,167.90 L622.86,167.95 L623.24,168.03 L623.62,168.13 L623.99,168.26 L624.35,168.42 L624.69,168.62 L625.00,168.87 L625.27,169.19 L625.49,169.57 L625.62,170.04 L625.65,170.60 L625.60,171.24 L625.52,171.92 L625.51,172.59 L625.66,173.17 L626.00,173.55 L626.45,173.71 L627.02,173.72 L627.67,173.69 L628.32,173.66 L628.91,173.70 L629.42,173.79 L629.87,173.94 L630.26,174.13 L630.63,174.33 L630.99,174.52 L631.34,174.69 L631.69,174.87 L632.03,175.03 L632.38,175.20 L632.73,175.37 L633.08,175.56 L633.45,175.80 L633.84,176.11 L634.27,176.52 L634.79,177.03 L635.48,177.54 L636.26,177.88 L636.96,177.90 L637.52,177.51 L637.94,176.80 L638.32,176.02 L638.75,175.39 L639.24,175.01 L639.77,174.84 L640.29,174.84 L640.80,174.97 L641.30,175.20 L641.80,175.49 L642.28,175.83 L642.76,176.20 L643.22,176.58 L643.68,176.96 L644.12,177.32 L644.55,177.66 L644.96,177.98 L645.33,178.29 L645.66,178.63 L645.97,179.01 L646.25,179.45 L646.49,179.94 L646.68,180.45 L646.83,180.92 L646.95,181.31 L647.13,181.53 L647.47,181.55 L648.04,181.41 L648.79,181.22 L649.60,181.12 L650.33,181.20 L650.95,181.46 L651.49,181.82 L652.00,182.22 L652.49,182.64 L652.99,183.03 L653.50,183.40 L654.02,183.74 L654.56,184.06 L655.12,184.36 L655.69,184.66 L656.26,184.95 L656.82,185.25 L657.38,185.56 L657.90,185.92 L658.34,186.39 L658.65,187.01 L658.79,187.81 L658.82,188.68 L658.90,189.46 L659.20,189.96 L659.80,190.14 L660.63,190.09 L661.52,190.00 L662.32,190.02 L662.98,190.19 L663.55,190.46 L664.05,190.81 L664.53,191.17 L665.00,191.55 L665.47,191.92 L665.94,192.30 L666.42,192.68 L666.89,193.07 L667.36,193.47 L667.83,193.88 L668.30,194.30 L668.77,194.73 L669.24,195.17 L669.70,195.62 L670.13,196.10 L670.50,196.66 L670.72,197.37 L670.76,198.26 L670.66,199.25 L670.67,200.13 L671.08,200.66 L671.97,200.83 L673.09,200.86 L674.09,201.04 L674.85,201.46 L675.43,202.02 L675.93,202.65 L676.41,203.29 L676.86,203.94 L677.29,204.57 L677.70,205.20 L678.09,205.84 L678.46,206.50 L678.83,207.17 L679.17,207.86 L679.48,208.54 L679.69,209.24 L679.72,209.98 L679.53,210.76 L679.19,211.52 L678.87,212.20 L678.71,212.74 L678.72,213.12 L678.80,213.33 L678.91,213.40 L679.03,213.34 L679.16,213.24 L679.35,213.18 L679.58,213.25 L679.86,213.47 L680.18,213.76 L680.46,214.12 L680.62,214.56 L680.63,215.05 L680.52,215.54 L680.34,216.02 L680.13,216.50 L679.93,216.99 L679.75,217.50 L679.61,218.04 L679.49,218.60 L679.38,219.24 L679.15,220.01 L678.73,220.95 L678.26,221.97 L678.13,222.83 L678.65,223.39 L679.59,223.77 L680.46,224.20 L681.00,224.76 L681.19,225.39 L681.15,226.05 L681.00,226.72 L680.76,227.39 L680.48,228.06 L680.14,228.72 L679.76,229.35 L679.34,229.94 L678.89,230.49 L678.40,230.98 L677.90,231.40 L677.36,231.74 L676.76,231.98 L676.10,232.11 L675.39,232.04 L674.63,231.66 L673.81,231.00 L672.98,230.37 L672.16,230.28 L671.41,230.92 L670.76,231.92 L670.11,232.78 L669.38,233.29 L668.56,233.56 L667.71,233.74 L666.85,233.90 L665.97,234.05 L665.09,234.16 L664.16,234.07 L663.13,233.62 L662.03,232.89 L660.97,232.53 L660.15,233.09 L659.53,234.28 L658.88,235.33 L658.12,235.95 L657.29,236.32 L656.43,236.55 L655.54,236.63 L654.60,236.39 L653.60,235.80 L652.62,235.23 L651.79,235.22 L651.18,235.90 L650.68,236.89 L650.14,237.72 L649.54,238.24 L648.89,238.53 L648.25,238.68 L647.61,238.76 L647.00,238.80 L646.39,238.76 L645.77,238.63 L645.15,238.45 L644.54,238.23 L643.97,237.99 L643.44,237.77 L642.96,237.59 L642.55,237.47 L642.23,237.43 L642.00,237.50 L641.87,237.69 L641.82,237.97 L641.85,238.33 L641.94,238.74 L642.10,239.20 L642.31,239.68 L642.56,240.17 L642.85,240.65 L643.16,241.10 L643.50,241.50 L643.92,241.86 L644.47,242.19 L645.11,242.51 L645.80,242.82 L646.51,243.12 L647.19,243.44 L647.80,243.78 L648.32,244.15 L648.70,244.55 L648.90,245.00 L648.93,245.51 L648.84,246.08 L648.63,246.70 L648.34,247.35 L647.96,248.01 L647.53,248.67 L647.05,249.32 L646.54,249.93 L646.02,250.50 L645.50,251.00 L644.96,251.45 L644.37,251.87 L643.73,252.25 L643.05,252.62 L642.35,252.95 L641.63,253.26 L640.89,253.55 L640.15,253.82 L639.42,254.07 L638.70,254.30 L637.98,254.53 L637.23,254.76 L636.47,254.99 L635.70,255.20 L634.93,255.38 L634.17,255.52 L633.41,255.62 L632.68,255.65 L631.97,255.62 L631.30,255.50 L630.66,255.30 L630.03,255.01 L629.43,254.65 L628.84,254.23 L628.27,253.77 L627.71,253.27 L627.17,252.74 L626.64,252.19 L626.11,251.64 L625.60,251.10 L625.12,250.54 L624.68,249.92 L624.27,249.27 L623.88,248.60 L623.49,247.92 L623.09,247.24 L622.67,246.57 L622.20,245.94 L621.69,245.34 L621.10,244.80 L620.41,244.29 L619.61,243.77 L618.74,243.26 L617.82,242.78 L616.89,242.33 L615.97,241.91 L615.10,241.55 L614.31,241.26 L613.64,241.04 L613.10,240.90 L612.71,240.86 L612.42,240.91 L612.23,241.04 L612.11,241.24 L612.05,241.49 L612.03,241.77 L612.03,242.08 L612.04,242.39 L612.03,242.71 L612.00,243.00 L611.98,243.30 L612.00,243.62 L612.06,243.97 L612.14,244.33 L612.21,244.70 L612.27,245.08 L612.30,245.45 L612.27,245.82 L612.18,246.17 L612.00,246.50 L611.71,246.81 L611.30,247.10 L610.80,247.38 L610.26,247.66 L609.68,247.92 L609.11,248.20 L608.58,248.48 L608.11,248.77 L607.74,249.07 L607.50,249.40 L607.40,249.74 L607.42,250.09 L607.53,250.44 L607.70,250.80 L607.91,251.18 L608.14,251.56 L608.34,251.97 L608.51,252.39 L608.60,252.83 L608.60,253.30 L608.52,253.80 L608.39,254.35 L608.23,254.92 L608.03,255.52 L607.80,256.13 L607.54,256.74 L607.26,257.34 L606.96,257.93 L606.63,258.48 L606.30,259.00 L605.95,259.50 L605.58,259.99 L605.18,260.48 L604.77,260.95 L604.33,261.41 L603.87,261.84 L603.39,262.24 L602.88,262.60 L602.35,262.92 L601.80,263.20 L601.21,263.42 L600.58,263.60 L599.91,263.72 L599.21,263.82 L598.50,263.88 L597.78,263.92 L597.06,263.95 L596.35,263.96 L595.66,263.98 L595.00,264.00 L594.37,264.03 L593.77,264.07 L593.19,264.11 L592.62,264.15 L592.06,264.16 L591.48,264.15 L590.88,264.11 L590.26,264.03 L589.60,263.89 L588.90,263.70 L588.14,263.46 L587.31,263.18 L586.44,262.86 L585.55,262.51 L584.64,262.11 L583.73,261.68 L582.83,261.20 L581.97,260.68 L581.16,260.11 L580.40,259.50 L579.69,258.82 L579.00,258.08 L578.33,257.27 L577.69,256.41 L577.08,255.52 L576.50,254.61 L575.95,253.69 L575.43,252.78 L574.94,251.87 L574.50,251.00 L574.10,250.13 L573.74,249.24 L573.42,248.34 L573.14,247.44 L572.88,246.54 L572.65,245.65 L572.44,244.78 L572.25,243.95 L572.07,243.15 L571.90,242.40 L571.76,241.70 L571.68,241.05 L571.64,240.43 L571.62,239.85 L571.61,239.29 L571.59,238.74 L571.54,238.19 L571.46,237.64 L571.31,237.08 L571.10,236.50 L570.80,235.92 L570.42,235.35 L569.99,234.79 L569.51,234.23 L569.01,233.66 L568.50,233.08 L568.01,232.49 L567.55,231.86 L567.14,231.20 L566.80,230.50 L566.52,229.75 L566.29,228.95 L566.16,228.11 L566.29,227.19 L566.88,226.19 L567.69,225.18 L567.98,224.28 L567.32,223.49 L566.27,222.74 L565.49,221.96 L565.12,221.13 L564.99,220.27 L564.94,219.39 L564.92,218.51 L564.93,217.64 L564.94,216.77 L564.97,215.92 L565.01,215.09 L565.08,214.28 L565.23,213.51 L565.56,212.80 L566.14,212.18 L566.89,211.63 L567.60,211.12 L568.01,210.61 L567.95,210.03 L567.49,209.33 L566.89,208.53 L566.46,207.69Z" fill="none" stroke="#b4b4b4" stroke-width="14"/><path d="M566.34,206.84 L566.46,205.97 L566.70,205.07 L566.99,204.13 L567.34,203.17 L567.90,202.26 L568.96,201.52 L570.36,200.93 L571.09,200.13 L570.72,198.95 L570.14,197.71 L569.98,196.64 L570.18,195.73 L570.53,194.89 L570.91,194.09 L571.31,193.30 L571.71,192.53 L572.12,191.77 L572.52,191.03 L572.91,190.31 L573.30,189.60 L573.70,188.93 L574.15,188.31 L574.74,187.80 L575.56,187.44 L576.56,187.22 L577.46,187.00 L577.94,186.58 L577.93,185.82 L577.69,184.83 L577.58,183.82 L577.78,182.96 L578.22,182.26 L578.80,181.67 L579.51,181.18 L580.40,180.91 L581.55,180.97 L582.77,181.17 L583.63,180.95 L583.96,180.06 L584.08,178.87 L584.34,177.84 L584.85,177.11 L585.51,176.58 L586.22,176.15 L586.95,175.75 L587.67,175.37 L588.39,175.00 L589.09,174.65 L589.76,174.33 L590.43,174.05 L591.09,173.89 L591.80,173.90 L592.54,174.12 L593.31,174.49 L594.04,174.82 L594.66,174.94 L595.15,174.69 L595.53,174.08 L595.85,173.27 L596.20,172.46 L596.63,171.80 L597.17,171.33 L597.77,170.99 L598.40,170.71 L599.05,170.46 L599.69,170.21 L600.33,169.98 L600.95,169.77 L601.55,169.60 L602.13,169.51 L602.69,169.53 L603.24,169.70 L603.77,170.03 L604.28,170.47 L604.78,170.92 L605.28,171.28 L605.79,171.42 L606.30,171.29 L606.79,170.89 L607.24,170.29 L607.64,169.62 L607.97,169.02 L608.30,168.52 L608.65,168.14 L609.04,167.84 L609.46,167.60 L609.90,167.40 L610.37,167.23 L610.87,167.10 L611.40,167.00 L611.97,166.93 L612.60,166.89 L613.26,166.87 L613.94,166.88 L614.63,166.94 L615.31,167.14 L615.95,167.55 L616.54,168.17 L617.07,168.84 L617.54,169.36 L617.92,169.61 L618.24,169.62 L618.54,169.47 L618.83,169.24 L619.14,168.98 L619.46,168.72 L619.80,168.48 L620.15,168.27 L620.53,168.10 L620.92,167.97 L621.31,167.89 L621.70,167.86 L622.09,167.86 L622.48,167.90 L622.86,167.95 L623.24,168.03 L623.62,168.13 L623.99,168.26 L624.35,168.42 L624.69,168.62 L625.00,168.87 L625.27,169.19 L625.49,169.57 L625.62,170.04 L625.65,170.60 L625.60,171.24 L625.52,171.92 L625.51,172.59 L625.66,173.17 L626.00,173.55 L626.45,173.71 L627.02,173.72 L627.67,173.69 L628.32,173.66 L628.91,173.70 L629.42,173.79 L629.87,173.94 L630.26,174.13 L630.63,174.33 L630.99,174.52 L631.34,174.69 L631.69,174.87 L632.03,175.03 L632.38,175.20 L632.73,175.37 L633.08,175.56 L633.45,175.80 L633.84,176.11 L634.27,176.52 L634.79,177.03 L635.48,177.54 L636.26,177.88 L636.96,177.90 L637.52,177.51 L637.94,176.80 L638.32,176.02 L638.75,175.39 L639.24,175.01 L639.77,174.84 L640.29,174.84 L640.80,174.97 L641.30,175.20 L641.80,175.49 L642.28,175.83 L642.76,176.20 L643.22,176.58 L643.68,176.96 L644.12,177.32 L644.55,177.66 L644.96,177.98 L645.33,178.29 L645.66,178.63 L645.97,179.01 L646.25,179.45 L646.49,179.94 L646.68,180.45 L646.83,180.92 L646.95,181.31 L647.13,181.53 L647.47,181.55 L648.04,181.41 L648.79,181.22 L649.60,181.12 L650.33,181.20 L650.95,181.46 L651.49,181.82 L652.00,182.22 L652.49,182.64 L652.99,183.03 L653.50,183.40 L654.02,183.74 L654.56,184.06 L655.12,184.36 L655.69,184.66 L656.26,184.95 L656.82,185.25 L657.38,185.56 L657.90,185.92 L658.34,186.39 L658.65,187.01 L658.79,187.81 L658.82,188.68 L658.90,189.46 L659.20,189.96 L659.80,190.14 L660.63,190.09 L661.52,190.00 L662.32,190.02 L662.98,190.19 L663.55,190.46 L664.05,190.81 L664.53,191.17 L665.00,191.55 L665.47,191.92 L665.94,192.30 L666.42,192.68 L666.89,193.07 L667.36,193.47 L667.83,193.88 L668.30,194.30 L668.77,194.73 L669.24,195.17 L669.70,195.62 L670.13,196.10 L670.50,196.66 L670.72,197.37 L670.76,198.26 L670.66,199.25 L670.67,200.13 L671.08,200.66 L671.97,200.83 L673.09,200.86 L674.09,201.04 L674.85,201.46 L675.43,202.02 L675.93,202.65 L676.41,203.29 L676.86,203.94 L677.29,204.57 L677.70,205.20 L678.09,205.84 L678.46,206.50 L678.83,207.17 L679.17,207.86 L679.48,208.54 L679.69,209.24 L679.72,209.98 L679.53,210.76 L679.19,211.52 L678.87,212.20 L678.71,212.74 L678.72,213.12 L678.80,213.33 L678.91,213.40 L679.03,213.34 L679.16,213.24 L679.35,213.18 L679.58,213.25 L679.86,213.47 L680.18,213.76 L680.46,214.12 L680.62,214.56 L680.63,215.05 L680.52,215.54 L680.34,216.02 L680.13,216.50 L679.93,216.99 L679.75,217.50 L679.61,218.04 L679.49,218.60 L679.38,219.24 L679.15,220.01 L678.73,220.95 L678.26,221.97 L678.13,222.83 L678.65,223.39 L679.59,223.77 L680.46,224.20 L681.00,224.76 L681.19,225.39 L681.15,226.05 L681.00,226.72 L680.76,227.39 L680.48,228.06 L680.14,228.72 L679.76,229.35 L679.34,229.94 L678.89,230.49 L678.40,230.98 L677.90,231.40 L677.36,231.74 L676.76,231.98 L676.10,232.11 L675.39,232.04 L674.63,231.66 L673.81,231.00 L672.98,230.37 L672.16,230.28 L671.41,230.92 L670.76,231.92 L670.11,232.78 L669.38,233.29 L668.56,233.56 L667.71,233.74 L666.85,233.90 L665.97,234.05 L665.09,234.16 L664.16,234.07 L663.13,233.62 L662.03,232.89 L660.97,232.53 L660.15,233.09 L659.53,234.28 L658.88,235.33 L658.12,235.95 L657.29,236.32 L656.43,236.55 L655.54,236.63 L654.60,236.39 L653.60,235.80 L652.62,235.23 L651.79,235.22 L651.18,235.90 L650.68,236.89 L650.14,237.72 L649.54,238.24 L648.89,238.53 L648.25,238.68 L647.61,238.76 L647.00,238.80 L646.39,238.76 L645.77,238.63 L645.15,238.45 L644.54,238.23 L643.97,237.99 L643.44,237.77 L642.96,237.59 L642.55,237.47 L642.23,237.43 L642.00,237.50 L641.87,237.69 L641.82,237.97 L641.85,238.33 L641.94,238.74 L642.10,239.20 L642.31,239.68 L642.56,240.17 L642.85,240.65 L643.16,241.10 L643.50,241.50 L643.92,241.86 L644.47,242.19 L645.11,242.51 L645.80,242.82 L646.51,243.12 L647.19,243.44 L647.80,243.78 L648.32,244.15 L648.70,244.55 L648.90,245.00 L648.93,245.51 L648.84,246.08 L648.63,246.70 L648.34,247.35 L647.96,248.01 L647.53,248.67 L647.05,249.32 L646.54,249.93 L646.02,250.50 L645.50,251.00 L644.96,251.45 L644.37,251.87 L643.73,252.25 L643.05,252.62 L642.35,252.95 L641.63,253.26 L640.89,253.55 L640.15,253.82 L639.42,254.07 L638.70,254.30 L637.98,254.53 L637.23,254.76 L636.47,254.99 L635.70,255.20 L634.93,255.38 L634.17,255.52 L633.41,255.62 L632.68,255.65 L631.97,255.62 L631.30,255.50 L630.66,255.30 L630.03,255.01 L629.43,254.65 L628.84,254.23 L628.27,253.77 L627.71,253.27 L627.17,252.74 L626.64,252.19 L626.11,251.64 L625.60,251.10 L625.12,250.54 L624.68,249.92 L624.27,249.27 L623.88,248.60 L623.49,247.92 L623.09,247.24 L622.67,246.57 L622.20,245.94 L621.69,245.34 L621.10,244.80 L620.41,244.29 L619.61,243.77 L618.74,243.26 L617.82,242.78 L616.89,242.33 L615.97,241.91 L615.10,241.55 L614.31,241.26 L613.64,241.04 L613.10,240.90 L612.71,240.86 L612.42,240.91 L612.23,241.04 L612.11,241.24 L612.05,241.49 L612.03,241.77 L612.03,242.08 L612.04,242.39 L612.03,242.71 L612.00,243.00 L611.98,243.30 L612.00,243.62 L612.06,243.97 L612.14,244.33 L612.21,244.70 L612.27,245.08 L612.30,245.45 L612.27,245.82 L612.18,246.17 L612.00,246.50 L611.71,246.81 L611.30,247.10 L610.80,247.38 L610.26,247.66 L609.68,247.92 L609.11,248.20 L608.58,248.48 L608.11,248.77 L607.74,249.07 L607.50,249.40 L607.40,249.74 L607.42,250.09 L607.53,250.44 L607.70,250.80 L607.91,251.18 L608.14,251.56 L608.34,251.97 L608.51,252.39 L608.60,252.83 L608.60,253.30 L608.52,253.80 L608.39,254.35 L608.23,254.92 L608.03,255.52 L607.80,256.13 L607.54,256.74 L607.26,257.34 L606.96,257.93 L606.63,258.48 L606.30,259.00 L605.95,259.50 L605.58,259.99 L605.18,260.48 L604.77,260.95 L604.33,261.41 L603.87,261.84 L603.39,262.24 L602.88,262.60 L602.35,262.92 L601.80,263.20 L601.21,263.42 L600.58,263.60 L599.91,263.72 L599.21,263.82 L598.50,263.88 L597.78,263.92 L597.06,263.95 L596.35,263.96 L595.66,263.98 L595.00,264.00 L594.37,264.03 L593.77,264.07 L593.19,264.11 L592.62,264.15 L592.06,264.16 L591.48,264.15 L590.88,264.11 L590.26,264.03 L589.60,263.89 L588.90,263.70 L588.14,263.46 L587.31,263.18 L586.44,262.86 L585.55,262.51 L584.64,262.11 L583.73,261.68 L582.83,261.20 L581.97,260.68 L581.16,260.11 L580.40,259.50 L579.69,258.82 L579.00,258.08 L578.33,257.27 L577.69,256.41 L577.08,255.52 L576.50,254.61 L575.95,253.69 L575.43,252.78 L574.94,251.87 L574.50,251.00 L574.10,250.13 L573.74,249.24 L573.42,248.34 L573.14,247.44 L572.88,246.54 L572.65,245.65 L572.44,244.78 L572.25,243.95 L572.07,243.15 L571.90,242.40 L571.76,241.70 L571.68,241.05 L571.64,240.43 L571.62,239.85 L571.61,239.29 L571.59,238.74 L571.54,238.19 L571.46,237.64 L571.31,237.08 L571.10,236.50 L570.80,235.92 L570.42,235.35 L569.99,234.79 L569.51,234.23 L569.01,233.66 L568.50,233.08 L568.01,232.49 L567.55,231.86 L567.14,231.20 L566.80,230.50 L566.52,229.75 L566.29,228.95 L566.16,228.11 L566.29,227.19 L566.88,226.19 L567.69,225.18 L567.98,224.28 L567.32,223.49 L566.27,222.74 L565.49,221.96 L565.12,221.13 L564.99,220.27 L564.94,219.39 L564.92,218.51 L564.93,217.64 L564.94,216.77 L564.97,215.92 L565.01,215.09 L565.08,214.28 L565.23,213.51 L565.56,212.80 L566.14,212.18 L566.89,211.63 L567.60,211.12 L568.01,210.61 L567.95,210.03 L567.49,209.33 L566.89,208.53 L566.46,207.69Z" fill="none" stroke="#8a8a8a" stroke-width="10"/>
<path d="M567.4,199.8 C568.6,200.5 572.3,202.3 574.5,203.5 C576.8,204.7 579.7,206.3 580.7,206.8" fill="none" stroke="#b4b4b4" stroke-width="8.2" stroke-linecap="round" stroke-linejoin="round"/><path d="M567.4,199.8 C568.6,200.5 572.3,202.3 574.5,203.5 C576.8,204.7 579.7,206.3 580.7,206.8" fill="none" stroke="#8a8a8a" stroke-width="5.2" stroke-linecap="round" stroke-linejoin="round"/><path d="M567.4,199.8 C568.6,200.5 572.3,202.3 574.5,203.5 C576.8,204.7 579.7,206.3 580.7,206.8" fill="none" stroke="#333" stroke-width="1.1" stroke-linecap="round"/>
<path d="M574.6,185.2 C575.6,186.1 578.7,188.9 580.6,190.6 C582.5,192.3 585.0,194.6 585.8,195.4" fill="none" stroke="#b4b4b4" stroke-width="8.2" stroke-linecap="round" stroke-linejoin="round"/><path d="M574.6,185.2 C575.6,186.1 578.7,188.9 580.6,190.6 C582.5,192.3 585.0,194.6 585.8,195.4" fill="none" stroke="#8a8a8a" stroke-width="5.2" stroke-linecap="round" stroke-linejoin="round"/><path d="M574.6,185.2 C575.6,186.1 578.7,188.9 580.6,190.6 C582.5,192.3 585.0,194.6 585.8,195.4" fill="none" stroke="#333" stroke-width="1.1" stroke-linecap="round"/>
<path d="M580.8,178.6 C581.3,179.7 583.0,182.9 584.0,184.8 C585.0,186.7 586.3,189.3 586.7,190.2" fill="none" stroke="#b4b4b4" stroke-width="8.2" stroke-linecap="round" stroke-linejoin="round"/><path d="M580.8,178.6 C581.3,179.7 583.0,182.9 584.0,184.8 C585.0,186.7 586.3,189.3 586.7,190.2" fill="none" stroke="#8a8a8a" stroke-width="5.2" stroke-linecap="round" stroke-linejoin="round"/><path d="M580.8,178.6 C581.3,179.7 583.0,182.9 584.0,184.8 C585.0,186.7 586.3,189.3 586.7,190.2" fill="none" stroke="#333" stroke-width="1.1" stroke-linecap="round"/>
<path d="M593.4,171.6 C594.1,172.9 596.4,176.8 597.8,179.1 C599.2,181.4 601.2,184.6 601.9,185.7" fill="none" stroke="#b4b4b4" stroke-width="8.2" stroke-linecap="round" stroke-linejoin="round"/><path d="M593.4,171.6 C594.1,172.9 596.4,176.8 597.8,179.1 C599.2,181.4 601.2,184.6 601.9,185.7" fill="none" stroke="#8a8a8a" stroke-width="5.2" stroke-linecap="round" stroke-linejoin="round"/><path d="M593.4,171.6 C594.1,172.9 596.4,176.8 597.8,179.1 C599.2,181.4 601.2,184.6 601.9,185.7" fill="none" stroke="#333" stroke-width="1.1" stroke-linecap="round"/>
<path d="M605.3,167.9 C605.4,168.9 605.8,172.0 606.0,173.8 C606.2,175.6 606.5,177.9 606.6,178.8" fill="none" stroke="#b4b4b4" stroke-width="8.2" stroke-linecap="round" stroke-linejoin="round"/><path d="M605.3,167.9 C605.4,168.9 605.8,172.0 606.0,173.8 C606.2,175.6 606.5,177.9 606.6,178.8" fill="none" stroke="#8a8a8a" stroke-width="5.2" stroke-linecap="round" stroke-linejoin="round"/><path d="M605.3,167.9 C605.4,168.9 605.8,172.0 606.0,173.8 C606.2,175.6 606.5,177.9 606.6,178.8" fill="none" stroke="#333" stroke-width="1.1" stroke-linecap="round"/>
<path d="M618.2,166.0 C618.3,166.9 618.3,169.6 618.3,171.1 C618.4,172.6 618.5,174.5 618.5,175.2" fill="none" stroke="#b4b4b4" stroke-width="8.2" stroke-linecap="round" stroke-linejoin="round"/><path d="M618.2,166.0 C618.3,166.9 618.3,169.6 618.3,171.1 C618.4,172.6 618.5,174.5 618.5,175.2" fill="none" stroke="#8a8a8a" stroke-width="5.2" stroke-linecap="round" stroke-linejoin="round"/><path d="M618.2,166.0 C618.3,166.9 618.3,169.6 618.3,171.1 C618.4,172.6 618.5,174.5 618.5,175.2" fill="none" stroke="#333" stroke-width="1.1" stroke-linecap="round"/>
<path d="M628.2,170.7 C627.1,171.6 623.5,174.4 621.3,176.0 C619.1,177.7 616.2,179.9 615.1,180.7" fill="none" stroke="#b4b4b4" stroke-width="8.2" stroke-linecap="round" stroke-linejoin="round"/><path d="M628.2,170.7 C627.1,171.6 623.5,174.4 621.3,176.0 C619.1,177.7 616.2,179.9 615.1,180.7" fill="none" stroke="#8a8a8a" stroke-width="5.2" stroke-linecap="round" stroke-linejoin="round"/><path d="M628.2,170.7 C627.1,171.6 623.5,174.4 621.3,176.0 C619.1,177.7 616.2,179.9 615.1,180.7" fill="none" stroke="#333" stroke-width="1.1" stroke-linecap="round"/>
<path d="M635.6,174.5 C636.1,175.8 637.5,179.9 638.4,182.3 C639.3,184.8 640.5,188.0 640.9,189.2" fill="none" stroke="#b4b4b4" stroke-width="8.2" stroke-linecap="round" stroke-linejoin="round"/><path d="M635.6,174.5 C636.1,175.8 637.5,179.9 638.4,182.3 C639.3,184.8 640.5,188.0 640.9,189.2" fill="none" stroke="#8a8a8a" stroke-width="5.2" stroke-linecap="round" stroke-linejoin="round"/><path d="M635.6,174.5 C636.1,175.8 637.5,179.9 638.4,182.3 C639.3,184.8 640.5,188.0 640.9,189.2" fill="none" stroke="#333" stroke-width="1.1" stroke-linecap="round"/>
<path d="M648.4,178.1 C648.2,179.1 647.5,181.9 647.1,183.6 C646.7,185.3 646.3,187.4 646.2,188.1" fill="none" stroke="#b4b4b4" stroke-width="8.2" stroke-linecap="round" stroke-linejoin="round"/><path d="M648.4,178.1 C648.2,179.1 647.5,181.9 647.1,183.6 C646.7,185.3 646.3,187.4 646.2,188.1" fill="none" stroke="#8a8a8a" stroke-width="5.2" stroke-linecap="round" stroke-linejoin="round"/><path d="M648.4,178.1 C648.2,179.1 647.5,181.9 647.1,183.6 C646.7,185.3 646.3,187.4 646.2,188.1" fill="none" stroke="#333" stroke-width="1.1" stroke-linecap="round"/>
<path d="M661.1,186.8 C660.5,187.7 658.8,190.2 657.8,191.7 C656.9,193.3 655.7,195.2 655.2,195.9" fill="none" stroke="#b4b4b4" stroke-width="8.2" stroke-linecap="round" stroke-linejoin="round"/><path d="M661.1,186.8 C660.5,187.7 658.8,190.2 657.8,191.7 C656.9,193.3 655.7,195.2 655.2,195.9" fill="none" stroke="#8a8a8a" stroke-width="5.2" stroke-linecap="round" stroke-linejoin="round"/><path d="M661.1,186.8 C660.5,187.7 658.8,190.2 657.8,191.7 C656.9,193.3 655.7,195.2 655.2,195.9" fill="none" stroke="#333" stroke-width="1.1" stroke-linecap="round"/>
<path d="M673.3,197.8 C672.3,198.8 669.3,202.1 667.5,204.0 C665.6,206.0 663.2,208.7 662.4,209.6" fill="none" stroke="#b4b4b4" stroke-width="8.2" stroke-linecap="round" stroke-linejoin="round"/><path d="M673.3,197.8 C672.3,198.8 669.3,202.1 667.5,204.0 C665.6,206.0 663.2,208.7 662.4,209.6" fill="none" stroke="#8a8a8a" stroke-width="5.2" stroke-linecap="round" stroke-linejoin="round"/><path d="M673.3,197.8 C672.3,198.8 669.3,202.1 667.5,204.0 C665.6,206.0 663.2,208.7 662.4,209.6" fill="none" stroke="#333" stroke-width="1.1" stroke-linecap="round"/>
<path d="M682.0,211.7 C680.9,212.1 677.3,213.3 675.2,214.0 C673.1,214.7 670.3,215.6 669.3,215.9" fill="none" stroke="#b4b4b4" stroke-width="8.2" stroke-linecap="round" stroke-linejoin="round"/><path d="M682.0,211.7 C680.9,212.1 677.3,213.3 675.2,214.0 C673.1,214.7 670.3,215.6 669.3,215.9" fill="none" stroke="#8a8a8a" stroke-width="5.2" stroke-linecap="round" stroke-linejoin="round"/><path d="M682.0,211.7 C680.9,212.1 677.3,213.3 675.2,214.0 C673.1,214.7 670.3,215.6 669.3,215.9" fill="none" stroke="#333" stroke-width="1.1" stroke-linecap="round"/>
<path d="M681.5,221.6 C680.1,222.0 675.7,223.2 673.0,224.0 C670.4,224.8 666.8,225.7 665.5,226.1" fill="none" stroke="#b4b4b4" stroke-width="8.2" stroke-linecap="round" stroke-linejoin="round"/><path d="M681.5,221.6 C680.1,222.0 675.7,223.2 673.0,224.0 C670.4,224.8 666.8,225.7 665.5,226.1" fill="none" stroke="#8a8a8a" stroke-width="5.2" stroke-linecap="round" stroke-linejoin="round"/><path d="M681.5,221.6 C680.1,222.0 675.7,223.2 673.0,224.0 C670.4,224.8 666.8,225.7 665.5,226.1" fill="none" stroke="#333" stroke-width="1.1" stroke-linecap="round"/>
<path d="M673.4,233.7 C673.1,232.3 672.2,228.0 671.6,225.3 C671.0,222.7 670.1,219.1 669.8,217.9" fill="none" stroke="#b4b4b4" stroke-width="8.2" stroke-linecap="round" stroke-linejoin="round"/><path d="M673.4,233.7 C673.1,232.3 672.2,228.0 671.6,225.3 C671.0,222.7 670.1,219.1 669.8,217.9" fill="none" stroke="#8a8a8a" stroke-width="5.2" stroke-linecap="round" stroke-linejoin="round"/><path d="M673.4,233.7 C673.1,232.3 672.2,228.0 671.6,225.3 C671.0,222.7 670.1,219.1 669.8,217.9" fill="none" stroke="#333" stroke-width="1.1" stroke-linecap="round"/>
<path d="M661.9,236.0 C661.5,235.1 660.4,232.3 659.7,230.7 C659.0,229.1 658.0,227.1 657.7,226.4" fill="none" stroke="#b4b4b4" stroke-width="8.2" stroke-linecap="round" stroke-linejoin="round"/><path d="M661.9,236.0 C661.5,235.1 660.4,232.3 659.7,230.7 C659.0,229.1 658.0,227.1 657.7,226.4" fill="none" stroke="#8a8a8a" stroke-width="5.2" stroke-linecap="round" stroke-linejoin="round"/><path d="M661.9,236.0 C661.5,235.1 660.4,232.3 659.7,230.7 C659.0,229.1 658.0,227.1 657.7,226.4" fill="none" stroke="#333" stroke-width="1.1" stroke-linecap="round"/>
<path d="M653.5,238.5 C653.3,237.5 652.5,234.3 652.1,232.4 C651.7,230.5 651.2,228.2 651.0,227.3" fill="none" stroke="#b4b4b4" stroke-width="8.2" stroke-linecap="round" stroke-linejoin="round"/><path d="M653.5,238.5 C653.3,237.5 652.5,234.3 652.1,232.4 C651.7,230.5 651.2,228.2 651.0,227.3" fill="none" stroke="#8a8a8a" stroke-width="5.2" stroke-linecap="round" stroke-linejoin="round"/><path d="M653.5,238.5 C653.3,237.5 652.5,234.3 652.1,232.4 C651.7,230.5 651.2,228.2 651.0,227.3" fill="none" stroke="#333" stroke-width="1.1" stroke-linecap="round"/>
<path d="M564.5,225.7 C565.9,225.2 570.1,223.7 572.6,222.7 C575.1,221.7 578.4,220.3 579.6,219.9" fill="none" stroke="#b4b4b4" stroke-width="8.2" stroke-linecap="round" stroke-linejoin="round"/><path d="M564.5,225.7 C565.9,225.2 570.1,223.7 572.6,222.7 C575.1,221.7 578.4,220.3 579.6,219.9" fill="none" stroke="#8a8a8a" stroke-width="5.2" stroke-linecap="round" stroke-linejoin="round"/><path d="M564.5,225.7 C565.9,225.2 570.1,223.7 572.6,222.7 C575.1,221.7 578.4,220.3 579.6,219.9" fill="none" stroke="#333" stroke-width="1.1" stroke-linecap="round"/>
<path d="M564.5,210.0 C565.5,210.3 568.9,210.9 570.8,211.3 C572.8,211.6 575.3,212.2 576.2,212.3" fill="none" stroke="#b4b4b4" stroke-width="8.2" stroke-linecap="round" stroke-linejoin="round"/><path d="M564.5,210.0 C565.5,210.3 568.9,210.9 570.8,211.3 C572.8,211.6 575.3,212.2 576.2,212.3" fill="none" stroke="#8a8a8a" stroke-width="5.2" stroke-linecap="round" stroke-linejoin="round"/><path d="M564.5,210.0 C565.5,210.3 568.9,210.9 570.8,211.3 C572.8,211.6 575.3,212.2 576.2,212.3" fill="none" stroke="#333" stroke-width="1.1" stroke-linecap="round"/>
<path d="M642.0,237.5 C640.3,236.9 635.7,235.1 632.0,234.0 C628.3,232.9 624.3,232.0 620.0,231.0 C615.7,230.0 608.3,228.5 606.0,228.0" fill="none" stroke="#b4b4b4" stroke-width="8.2" stroke-linecap="round" stroke-linejoin="round"/><path d="M642.0,237.5 C640.3,236.9 635.7,235.1 632.0,234.0 C628.3,232.9 624.3,232.0 620.0,231.0 C615.7,230.0 608.3,228.5 606.0,228.0" fill="none" stroke="#8a8a8a" stroke-width="5.2" stroke-linecap="round" stroke-linejoin="round"/><path d="M642.0,237.5 C640.3,236.9 635.7,235.1 632.0,234.0 C628.3,232.9 624.3,232.0 620.0,231.0 C615.7,230.0 608.3,228.5 606.0,228.0" fill="none" stroke="#333" stroke-width="1.1" stroke-linecap="round"/>
<path d="M648.9,245.0 C646.8,244.5 640.5,243.2 636.0,242.0 C631.5,240.8 624.3,238.7 622.0,238.0" fill="none" stroke="#b4b4b4" stroke-width="8.2" stroke-linecap="round" stroke-linejoin="round"/><path d="M648.9,245.0 C646.8,244.5 640.5,243.2 636.0,242.0 C631.5,240.8 624.3,238.7 622.0,238.0" fill="none" stroke="#8a8a8a" stroke-width="5.2" stroke-linecap="round" stroke-linejoin="round"/><path d="M648.9,245.0 C646.8,244.5 640.5,243.2 636.0,242.0 C631.5,240.8 624.3,238.7 622.0,238.0" fill="none" stroke="#333" stroke-width="1.1" stroke-linecap="round"/>
<path d="M612.0,241.0 C610.0,240.5 604.0,238.8 600.0,238.0 C596.0,237.2 592.7,236.3 588.0,236.0 C583.3,235.7 574.7,236.0 572.0,236.0" fill="none" stroke="#b4b4b4" stroke-width="8.2" stroke-linecap="round" stroke-linejoin="round"/><path d="M612.0,241.0 C610.0,240.5 604.0,238.8 600.0,238.0 C596.0,237.2 592.7,236.3 588.0,236.0 C583.3,235.7 574.7,236.0 572.0,236.0" fill="none" stroke="#8a8a8a" stroke-width="5.2" stroke-linecap="round" stroke-linejoin="round"/><path d="M612.0,241.0 C610.0,240.5 604.0,238.8 600.0,238.0 C596.0,237.2 592.7,236.3 588.0,236.0 C583.3,235.7 574.7,236.0 572.0,236.0" fill="none" stroke="#333" stroke-width="1.1" stroke-linecap="round"/>
<path d="M574.0,246.0 C576.0,246.0 581.7,245.3 586.0,246.0 C590.3,246.7 596.3,249.0 600.0,250.0 C603.7,251.0 606.7,251.7 608.0,252.0" fill="none" stroke="#d8d8d8" stroke-width="1.1"/>
<path d="M578.0,254.0 C580.0,254.0 586.0,253.3 590.0,254.0 C594.0,254.7 600.0,257.3 602.0,258.0" fill="none" stroke="#d8d8d8" stroke-width="1.1"/>
<path d="M586.0,241.0 C587.7,241.3 592.7,242.2 596.0,243.0 C599.3,243.8 604.3,245.5 606.0,246.0" fill="none" stroke="#d8d8d8" stroke-width="1.1"/>
</g>
<path d="M607,218 Q615,222 620,227 Q626,231 629,234" fill="none" stroke="#2e2e2e" stroke-width="0.9"/>
<path d="M592.3,216.5 C592.4,215.2 593.7,214.1 595.0,213.6 C596.3,213.1 598.2,213.2 600.0,213.4 C601.8,213.6 604.2,213.9 605.5,214.6 C606.8,215.3 607.5,216.6 607.7,217.5 C607.9,218.4 607.3,219.7 606.5,220.0 C605.7,220.3 604.3,219.1 603.0,219.2 C601.7,219.3 599.9,220.3 598.5,220.6 C597.1,220.9 595.5,221.9 594.5,221.2 C593.5,220.5 592.2,217.8 592.3,216.5Z" fill="#fcfcfc" stroke="#262626" stroke-width="1"/>
<ellipse cx="615.5" cy="209" rx="2.6" ry="3.4" transform="rotate(-20 615.5 209)" fill="#a8a8a8" filter="url(#bl3)"/>
<path d="M640.5,236 Q642.5,234.5 644,238 Q642,239 640.5,236Z" fill="#fff"/>
<path d="M566.34,206.84 L566.46,205.97 L566.70,205.07 L566.99,204.13 L567.34,203.17 L567.90,202.26 L568.96,201.52 L570.36,200.93 L571.09,200.13 L570.72,198.95 L570.14,197.71 L569.98,196.64 L570.18,195.73 L570.53,194.89 L570.91,194.09 L571.31,193.30 L571.71,192.53 L572.12,191.77 L572.52,191.03 L572.91,190.31 L573.30,189.60 L573.70,188.93 L574.15,188.31 L574.74,187.80 L575.56,187.44 L576.56,187.22 L577.46,187.00 L577.94,186.58 L577.93,185.82 L577.69,184.83 L577.58,183.82 L577.78,182.96 L578.22,182.26 L578.80,181.67 L579.51,181.18 L580.40,180.91 L581.55,180.97 L582.77,181.17 L583.63,180.95 L583.96,180.06 L584.08,178.87 L584.34,177.84 L584.85,177.11 L585.51,176.58 L586.22,176.15 L586.95,175.75 L587.67,175.37 L588.39,175.00 L589.09,174.65 L589.76,174.33 L590.43,174.05 L591.09,173.89 L591.80,173.90 L592.54,174.12 L593.31,174.49 L594.04,174.82 L594.66,174.94 L595.15,174.69 L595.53,174.08 L595.85,173.27 L596.20,172.46 L596.63,171.80 L597.17,171.33 L597.77,170.99 L598.40,170.71 L599.05,170.46 L599.69,170.21 L600.33,169.98 L600.95,169.77 L601.55,169.60 L602.13,169.51 L602.69,169.53 L603.24,169.70 L603.77,170.03 L604.28,170.47 L604.78,170.92 L605.28,171.28 L605.79,171.42 L606.30,171.29 L606.79,170.89 L607.24,170.29 L607.64,169.62 L607.97,169.02 L608.30,168.52 L608.65,168.14 L609.04,167.84 L609.46,167.60 L609.90,167.40 L610.37,167.23 L610.87,167.10 L611.40,167.00 L611.97,166.93 L612.60,166.89 L613.26,166.87 L613.94,166.88 L614.63,166.94 L615.31,167.14 L615.95,167.55 L616.54,168.17 L617.07,168.84 L617.54,169.36 L617.92,169.61 L618.24,169.62 L618.54,169.47 L618.83,169.24 L619.14,168.98 L619.46,168.72 L619.80,168.48 L620.15,168.27 L620.53,168.10 L620.92,167.97 L621.31,167.89 L621.70,167.86 L622.09,167.86 L622.48,167.90 L622.86,167.95 L623.24,168.03 L623.62,168.13 L623.99,168.26 L624.35,168.42 L624.69,168.62 L625.00,168.87 L625.27,169.19 L625.49,169.57 L625.62,170.04 L625.65,170.60 L625.60,171.24 L625.52,171.92 L625.51,172.59 L625.66,173.17 L626.00,173.55 L626.45,173.71 L627.02,173.72 L627.67,173.69 L628.32,173.66 L628.91,173.70 L629.42,173.79 L629.87,173.94 L630.26,174.13 L630.63,174.33 L630.99,174.52 L631.34,174.69 L631.69,174.87 L632.03,175.03 L632.38,175.20 L632.73,175.37 L633.08,175.56 L633.45,175.80 L633.84,176.11 L634.27,176.52 L634.79,177.03 L635.48,177.54 L636.26,177.88 L636.96,177.90 L637.52,177.51 L637.94,176.80 L638.32,176.02 L638.75,175.39 L639.24,175.01 L639.77,174.84 L640.29,174.84 L640.80,174.97 L641.30,175.20 L641.80,175.49 L642.28,175.83 L642.76,176.20 L643.22,176.58 L643.68,176.96 L644.12,177.32 L644.55,177.66 L644.96,177.98 L645.33,178.29 L645.66,178.63 L645.97,179.01 L646.25,179.45 L646.49,179.94 L646.68,180.45 L646.83,180.92 L646.95,181.31 L647.13,181.53 L647.47,181.55 L648.04,181.41 L648.79,181.22 L649.60,181.12 L650.33,181.20 L650.95,181.46 L651.49,181.82 L652.00,182.22 L652.49,182.64 L652.99,183.03 L653.50,183.40 L654.02,183.74 L654.56,184.06 L655.12,184.36 L655.69,184.66 L656.26,184.95 L656.82,185.25 L657.38,185.56 L657.90,185.92 L658.34,186.39 L658.65,187.01 L658.79,187.81 L658.82,188.68 L658.90,189.46 L659.20,189.96 L659.80,190.14 L660.63,190.09 L661.52,190.00 L662.32,190.02 L662.98,190.19 L663.55,190.46 L664.05,190.81 L664.53,191.17 L665.00,191.55 L665.47,191.92 L665.94,192.30 L666.42,192.68 L666.89,193.07 L667.36,193.47 L667.83,193.88 L668.30,194.30 L668.77,194.73 L669.24,195.17 L669.70,195.62 L670.13,196.10 L670.50,196.66 L670.72,197.37 L670.76,198.26 L670.66,199.25 L670.67,200.13 L671.08,200.66 L671.97,200.83 L673.09,200.86 L674.09,201.04 L674.85,201.46 L675.43,202.02 L675.93,202.65 L676.41,203.29 L676.86,203.94 L677.29,204.57 L677.70,205.20 L678.09,205.84 L678.46,206.50 L678.83,207.17 L679.17,207.86 L679.48,208.54 L679.69,209.24 L679.72,209.98 L679.53,210.76 L679.19,211.52 L678.87,212.20 L678.71,212.74 L678.72,213.12 L678.80,213.33 L678.91,213.40 L679.03,213.34 L679.16,213.24 L679.35,213.18 L679.58,213.25 L679.86,213.47 L680.18,213.76 L680.46,214.12 L680.62,214.56 L680.63,215.05 L680.52,215.54 L680.34,216.02 L680.13,216.50 L679.93,216.99 L679.75,217.50 L679.61,218.04 L679.49,218.60 L679.38,219.24 L679.15,220.01 L678.73,220.95 L678.26,221.97 L678.13,222.83 L678.65,223.39 L679.59,223.77 L680.46,224.20 L681.00,224.76 L681.19,225.39 L681.15,226.05 L681.00,226.72 L680.76,227.39 L680.48,228.06 L680.14,228.72 L679.76,229.35 L679.34,229.94 L678.89,230.49 L678.40,230.98 L677.90,231.40 L677.36,231.74 L676.76,231.98 L676.10,232.11 L675.39,232.04 L674.63,231.66 L673.81,231.00 L672.98,230.37 L672.16,230.28 L671.41,230.92 L670.76,231.92 L670.11,232.78 L669.38,233.29 L668.56,233.56 L667.71,233.74 L666.85,233.90 L665.97,234.05 L665.09,234.16 L664.16,234.07 L663.13,233.62 L662.03,232.89 L660.97,232.53 L660.15,233.09 L659.53,234.28 L658.88,235.33 L658.12,235.95 L657.29,236.32 L656.43,236.55 L655.54,236.63 L654.60,236.39 L653.60,235.80 L652.62,235.23 L651.79,235.22 L651.18,235.90 L650.68,236.89 L650.14,237.72 L649.54,238.24 L648.89,238.53 L648.25,238.68 L647.61,238.76 L647.00,238.80 L646.39,238.76 L645.77,238.63 L645.15,238.45 L644.54,238.23 L643.97,237.99 L643.44,237.77 L642.96,237.59 L642.55,237.47 L642.23,237.43 L642.00,237.50 L641.87,237.69 L641.82,237.97 L641.85,238.33 L641.94,238.74 L642.10,239.20 L642.31,239.68 L642.56,240.17 L642.85,240.65 L643.16,241.10 L643.50,241.50 L643.92,241.86 L644.47,242.19 L645.11,242.51 L645.80,242.82 L646.51,243.12 L647.19,243.44 L647.80,243.78 L648.32,244.15 L648.70,244.55 L648.90,245.00 L648.93,245.51 L648.84,246.08 L648.63,246.70 L648.34,247.35 L647.96,248.01 L647.53,248.67 L647.05,249.32 L646.54,249.93 L646.02,250.50 L645.50,251.00 L644.96,251.45 L644.37,251.87 L643.73,252.25 L643.05,252.62 L642.35,252.95 L641.63,253.26 L640.89,253.55 L640.15,253.82 L639.42,254.07 L638.70,254.30 L637.98,254.53 L637.23,254.76 L636.47,254.99 L635.70,255.20 L634.93,255.38 L634.17,255.52 L633.41,255.62 L632.68,255.65 L631.97,255.62 L631.30,255.50 L630.66,255.30 L630.03,255.01 L629.43,254.65 L628.84,254.23 L628.27,253.77 L627.71,253.27 L627.17,252.74 L626.64,252.19 L626.11,251.64 L625.60,251.10 L625.12,250.54 L624.68,249.92 L624.27,249.27 L623.88,248.60 L623.49,247.92 L623.09,247.24 L622.67,246.57 L622.20,245.94 L621.69,245.34 L621.10,244.80 L620.41,244.29 L619.61,243.77 L618.74,243.26 L617.82,242.78 L616.89,242.33 L615.97,241.91 L615.10,241.55 L614.31,241.26 L613.64,241.04 L613.10,240.90 L612.71,240.86 L612.42,240.91 L612.23,241.04 L612.11,241.24 L612.05,241.49 L612.03,241.77 L612.03,242.08 L612.04,242.39 L612.03,242.71 L612.00,243.00 L611.98,243.30 L612.00,243.62 L612.06,243.97 L612.14,244.33 L612.21,244.70 L612.27,245.08 L612.30,245.45 L612.27,245.82 L612.18,246.17 L612.00,246.50 L611.71,246.81 L611.30,247.10 L610.80,247.38 L610.26,247.66 L609.68,247.92 L609.11,248.20 L608.58,248.48 L608.11,248.77 L607.74,249.07 L607.50,249.40 L607.40,249.74 L607.42,250.09 L607.53,250.44 L607.70,250.80 L607.91,251.18 L608.14,251.56 L608.34,251.97 L608.51,252.39 L608.60,252.83 L608.60,253.30 L608.52,253.80 L608.39,254.35 L608.23,254.92 L608.03,255.52 L607.80,256.13 L607.54,256.74 L607.26,257.34 L606.96,257.93 L606.63,258.48 L606.30,259.00 L605.95,259.50 L605.58,259.99 L605.18,260.48 L604.77,260.95 L604.33,261.41 L603.87,261.84 L603.39,262.24 L602.88,262.60 L602.35,262.92 L601.80,263.20 L601.21,263.42 L600.58,263.60 L599.91,263.72 L599.21,263.82 L598.50,263.88 L597.78,263.92 L597.06,263.95 L596.35,263.96 L595.66,263.98 L595.00,264.00 L594.37,264.03 L593.77,264.07 L593.19,264.11 L592.62,264.15 L592.06,264.16 L591.48,264.15 L590.88,264.11 L590.26,264.03 L589.60,263.89 L588.90,263.70 L588.14,263.46 L587.31,263.18 L586.44,262.86 L585.55,262.51 L584.64,262.11 L583.73,261.68 L582.83,261.20 L581.97,260.68 L581.16,260.11 L580.40,259.50 L579.69,258.82 L579.00,258.08 L578.33,257.27 L577.69,256.41 L577.08,255.52 L576.50,254.61 L575.95,253.69 L575.43,252.78 L574.94,251.87 L574.50,251.00 L574.10,250.13 L573.74,249.24 L573.42,248.34 L573.14,247.44 L572.88,246.54 L572.65,245.65 L572.44,244.78 L572.25,243.95 L572.07,243.15 L571.90,242.40 L571.76,241.70 L571.68,241.05 L571.64,240.43 L571.62,239.85 L571.61,239.29 L571.59,238.74 L571.54,238.19 L571.46,237.64 L571.31,237.08 L571.10,236.50 L570.80,235.92 L570.42,235.35 L569.99,234.79 L569.51,234.23 L569.01,233.66 L568.50,233.08 L568.01,232.49 L567.55,231.86 L567.14,231.20 L566.80,230.50 L566.52,229.75 L566.29,228.95 L566.16,228.11 L566.29,227.19 L566.88,226.19 L567.69,225.18 L567.98,224.28 L567.32,223.49 L566.27,222.74 L565.49,221.96 L565.12,221.13 L564.99,220.27 L564.94,219.39 L564.92,218.51 L564.93,217.64 L564.94,216.77 L564.97,215.92 L565.01,215.09 L565.08,214.28 L565.23,213.51 L565.56,212.80 L566.14,212.18 L566.89,211.63 L567.60,211.12 L568.01,210.61 L567.95,210.03 L567.49,209.33 L566.89,208.53 L566.46,207.69Z" fill="none" stroke="#333" stroke-width="2.4"/>
</g>
<defs><linearGradient id="bsq2" x1="0" y1="0" x2="1" y2="0"><stop offset="0" stop-color="#34385a"/><stop offset="0.2" stop-color="#3c4088"/><stop offset="0.45" stop-color="#4a4eb0"/><stop offset="0.75" stop-color="#4649aa"/><stop offset="1" stop-color="#383b78"/></linearGradient></defs>
<path d="M606,186 Q606,181.5 612,180.5 L634.8,179.3 L634.8,198.2 L620,202 L606.3,202.5Z" fill="url(#bsq2)" opacity="0.9" filter="url(#bl3)"/>
<g filter="url(#bl3)">
<path d="M591.5,180 Q593,175.5 597,175.6 Q602,176.5 605.5,186 Q604.5,188.5 601,188 Q594,186 591.5,180Z" fill="url(#org)"/>
<path d="M627.5,174.5 Q631,173.2 634.5,176 Q636,180 634,184 Q630,184 628,181Z" fill="url(#org)"/>
<ellipse cx="630.5" cy="185" rx="3" ry="4.5" fill="#9a3a7a" opacity="0.6"/>
<path d="M572,212 Q572,207 577,205 Q582,204.5 582,207.5 Q580,211 576,214.5 Q572,215 572,212Z" fill="#e3361e"/>
<path d="M575.5,229 Q577,224.5 582,224.8 Q587,225.5 590,230 Q597,234 599,239.5 Q598.5,243.5 594,242.5 Q586,241 580,238 Q575,235 575.5,229Z" fill="url(#org)"/>
</g>
</svg>
</body></html>
